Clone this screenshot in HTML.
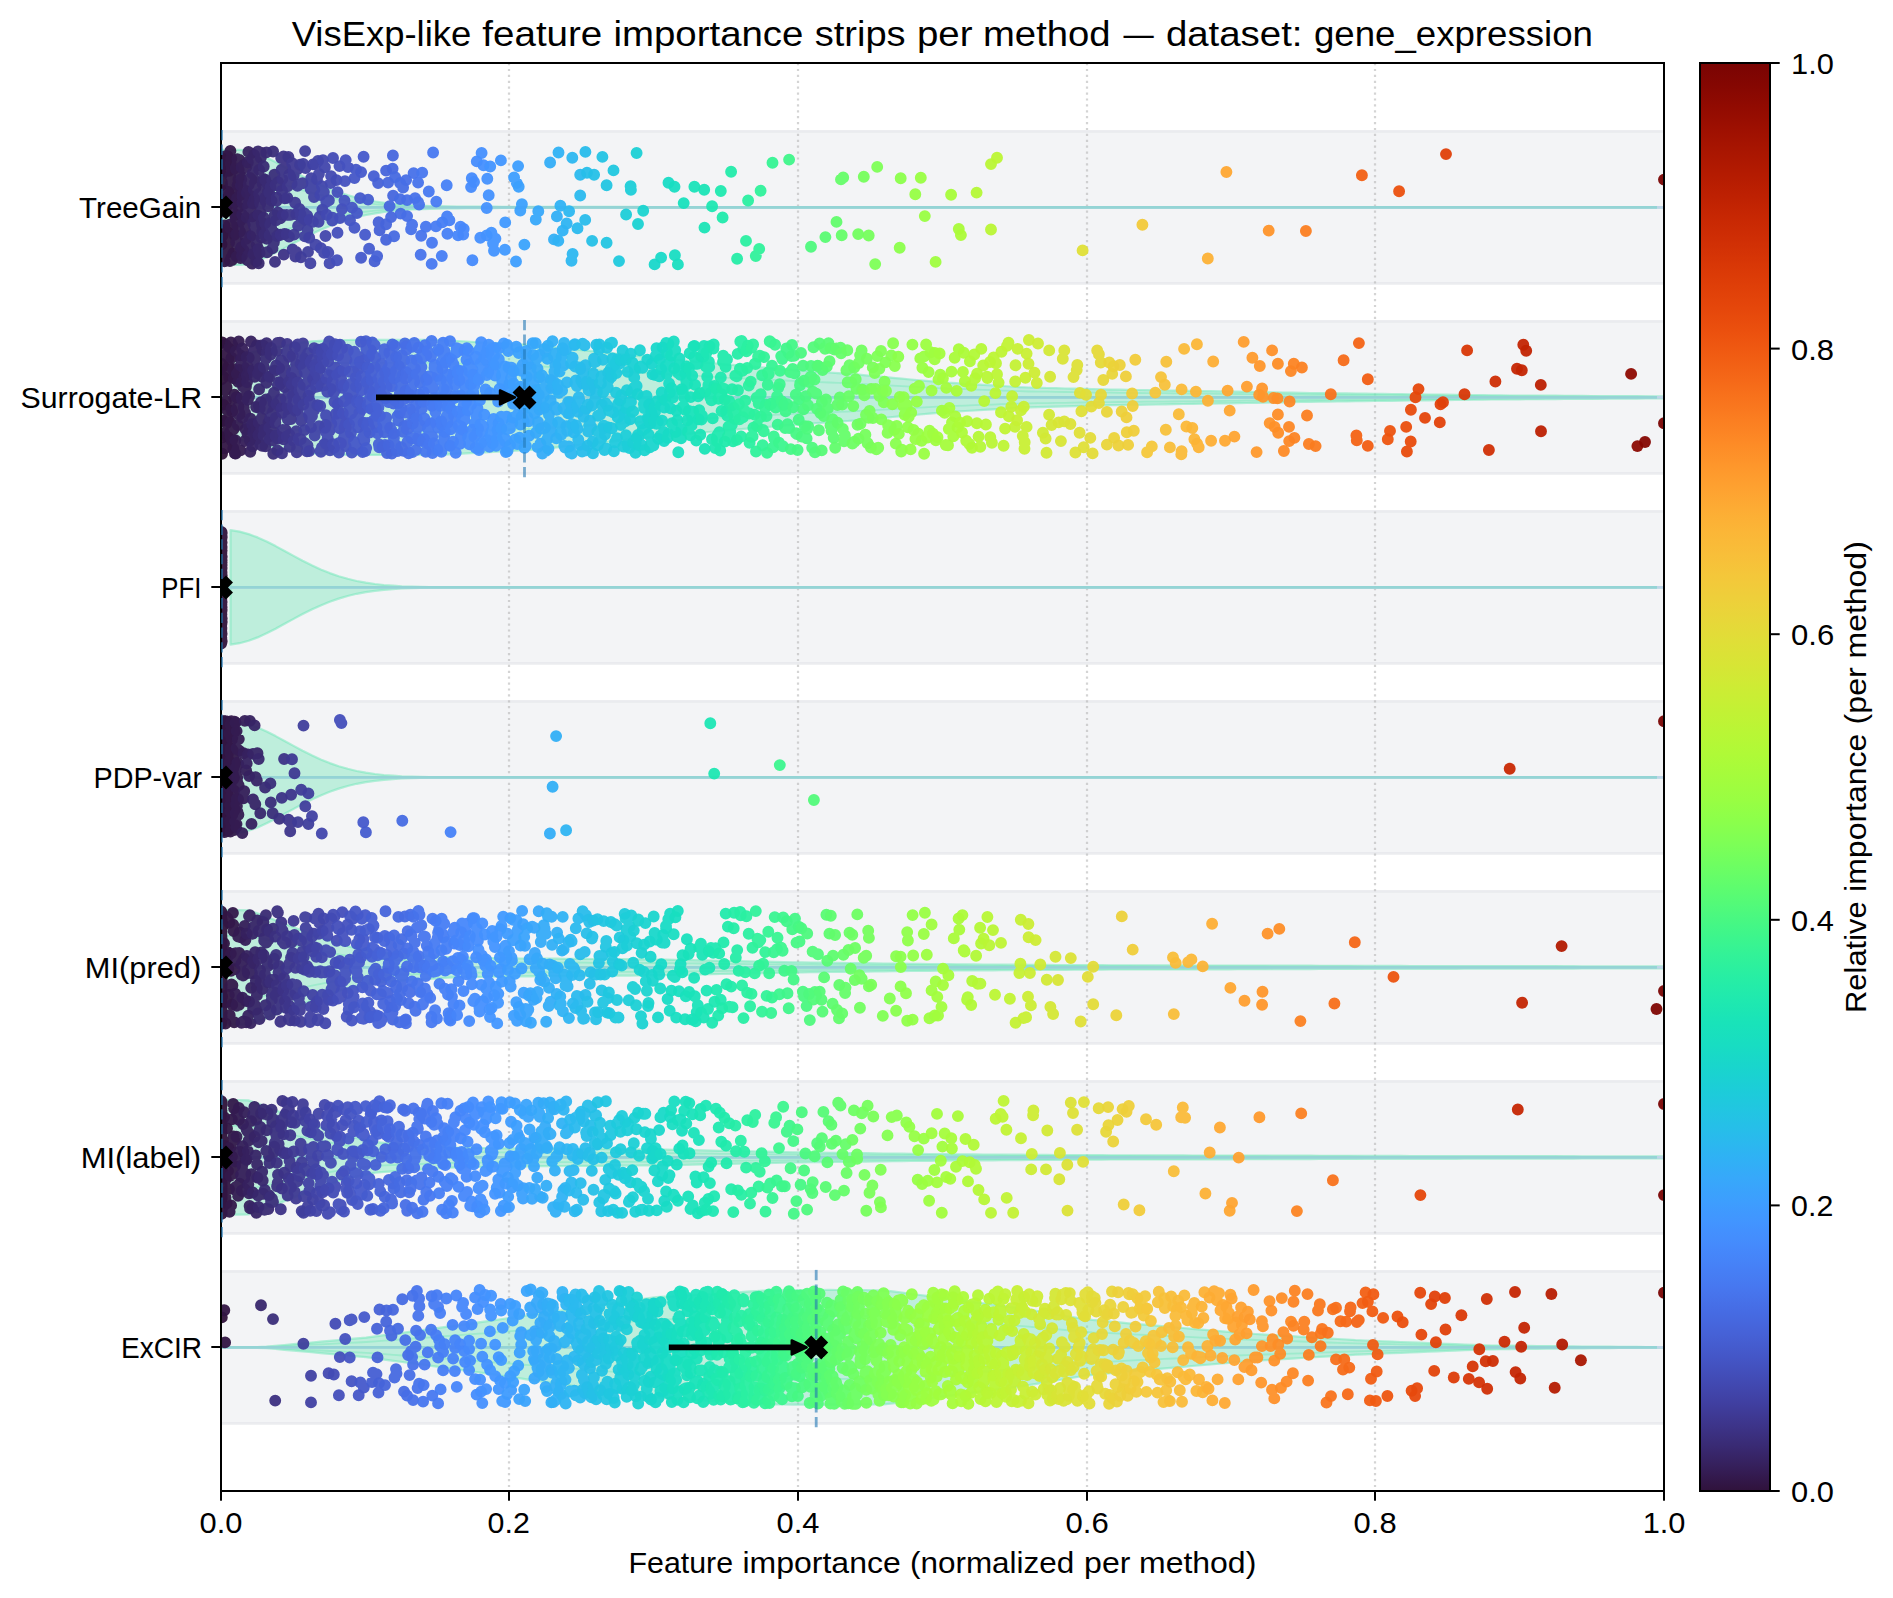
<!DOCTYPE html>
<html><head><meta charset="utf-8"><title>VisExp-like feature importance strips</title><style>html,body{margin:0;padding:0;background:#fff}svg{display:block}</style></head><body>
<svg width="1893" height="1598" viewBox="0 0 1893 1598">
<defs><clipPath id="ax"><rect x="221" y="63" width="1443" height="1428"/></clipPath>
<linearGradient id="cb" x1="0" y1="0" x2="0" y2="1"><stop offset="0.0000" stop-color="#7a0403"/><stop offset="0.0156" stop-color="#850702"/><stop offset="0.0312" stop-color="#920b01"/><stop offset="0.0469" stop-color="#9e1001"/><stop offset="0.0625" stop-color="#a91601"/><stop offset="0.0781" stop-color="#b41b01"/><stop offset="0.0938" stop-color="#be2102"/><stop offset="0.1094" stop-color="#c82803"/><stop offset="0.1250" stop-color="#d02f05"/><stop offset="0.1406" stop-color="#d83706"/><stop offset="0.1562" stop-color="#df3f08"/><stop offset="0.1719" stop-color="#e5470b"/><stop offset="0.1875" stop-color="#eb500e"/><stop offset="0.2031" stop-color="#f05b12"/><stop offset="0.2188" stop-color="#f46617"/><stop offset="0.2344" stop-color="#f8721c"/><stop offset="0.2500" stop-color="#fb7e21"/><stop offset="0.2656" stop-color="#fd8a26"/><stop offset="0.2812" stop-color="#fe962b"/><stop offset="0.2969" stop-color="#fea130"/><stop offset="0.3125" stop-color="#fdac34"/><stop offset="0.3281" stop-color="#fbb637"/><stop offset="0.3438" stop-color="#f8be39"/><stop offset="0.3594" stop-color="#f4c73a"/><stop offset="0.3750" stop-color="#eecf3a"/><stop offset="0.3906" stop-color="#e7d739"/><stop offset="0.4062" stop-color="#dfdf37"/><stop offset="0.4219" stop-color="#d7e535"/><stop offset="0.4375" stop-color="#cdec34"/><stop offset="0.4531" stop-color="#c3f134"/><stop offset="0.4688" stop-color="#b9f635"/><stop offset="0.4844" stop-color="#affa37"/><stop offset="0.5000" stop-color="#a4fc3c"/><stop offset="0.5156" stop-color="#99fe42"/><stop offset="0.5312" stop-color="#8bff4b"/><stop offset="0.5469" stop-color="#7dff56"/><stop offset="0.5625" stop-color="#6dfe62"/><stop offset="0.5781" stop-color="#5dfc6f"/><stop offset="0.5938" stop-color="#4ef97d"/><stop offset="0.6094" stop-color="#3ff68a"/><stop offset="0.6250" stop-color="#32f298"/><stop offset="0.6406" stop-color="#27eea4"/><stop offset="0.6562" stop-color="#1fe9af"/><stop offset="0.6719" stop-color="#19e3b9"/><stop offset="0.6875" stop-color="#18ddc2"/><stop offset="0.7031" stop-color="#19d5cd"/><stop offset="0.7188" stop-color="#1ccdd8"/><stop offset="0.7344" stop-color="#22c5e2"/><stop offset="0.7500" stop-color="#28bceb"/><stop offset="0.7656" stop-color="#2fb2f4"/><stop offset="0.7812" stop-color="#37a8fa"/><stop offset="0.7969" stop-color="#3d9efe"/><stop offset="0.8125" stop-color="#4294ff"/><stop offset="0.8281" stop-color="#458afc"/><stop offset="0.8438" stop-color="#4680f6"/><stop offset="0.8594" stop-color="#4776ee"/><stop offset="0.8750" stop-color="#466be3"/><stop offset="0.8906" stop-color="#4661d6"/><stop offset="0.9062" stop-color="#4456c7"/><stop offset="0.9219" stop-color="#424bb5"/><stop offset="0.9375" stop-color="#4040a2"/><stop offset="0.9531" stop-color="#3d358b"/><stop offset="0.9688" stop-color="#392a73"/><stop offset="0.9844" stop-color="#351e58"/><stop offset="1.0000" stop-color="#30123b"/></linearGradient></defs>
<rect width="1893" height="1598" fill="#fff"/>
<g clip-path="url(#ax)">
<rect x="216" y="131.4" width="1453" height="152" fill="#f3f4f6" stroke="#e5e7eb" stroke-opacity="0.75" stroke-width="2.8"/>
<rect x="216" y="321.4" width="1453" height="152" fill="#f3f4f6" stroke="#e5e7eb" stroke-opacity="0.75" stroke-width="2.8"/>
<rect x="216" y="511.4" width="1453" height="152" fill="#f3f4f6" stroke="#e5e7eb" stroke-opacity="0.75" stroke-width="2.8"/>
<rect x="216" y="701.4" width="1453" height="152" fill="#f3f4f6" stroke="#e5e7eb" stroke-opacity="0.75" stroke-width="2.8"/>
<rect x="216" y="891.4" width="1453" height="152" fill="#f3f4f6" stroke="#e5e7eb" stroke-opacity="0.75" stroke-width="2.8"/>
<rect x="216" y="1081.4" width="1453" height="152" fill="#f3f4f6" stroke="#e5e7eb" stroke-opacity="0.75" stroke-width="2.8"/>
<rect x="216" y="1271.4" width="1453" height="152" fill="#f3f4f6" stroke="#e5e7eb" stroke-opacity="0.75" stroke-width="2.8"/>
<line x1="509" y1="63" x2="509" y2="1491" stroke="#b0b0b0" stroke-opacity="0.55" stroke-width="2.2" stroke-dasharray="2.2 3.7"/>
<line x1="798" y1="63" x2="798" y2="1491" stroke="#b0b0b0" stroke-opacity="0.55" stroke-width="2.2" stroke-dasharray="2.2 3.7"/>
<line x1="1087" y1="63" x2="1087" y2="1491" stroke="#b0b0b0" stroke-opacity="0.55" stroke-width="2.2" stroke-dasharray="2.2 3.7"/>
<line x1="1375" y1="63" x2="1375" y2="1491" stroke="#b0b0b0" stroke-opacity="0.55" stroke-width="2.2" stroke-dasharray="2.2 3.7"/>
<polygon points="221,149.9 230.1,149.9 239.2,149.9 248.2,150.4 257.3,153.7 266.4,157.6 275.5,162 284.5,166.7 293.6,171.5 302.7,176.3 311.8,180.8 320.8,185.1 329.9,188.9 339,192.3 348.1,195.3 357.1,197.8 366.2,199.8 375.3,201.5 384.4,202.8 393.4,203.9 402.5,204.7 411.6,205.3 420.7,205.7 429.7,206 438.8,206.2 447.9,206.4 457,206.5 466,206.6 475.1,206.7 484.2,206.7 493.3,206.7 502.3,206.8 511.4,206.8 520.5,206.8 529.6,206.8 538.6,206.8 547.7,206.8 556.8,206.8 565.9,206.9 574.9,206.9 584,206.9 593.1,206.9 602.2,206.9 611.2,206.9 620.3,206.9 629.4,206.9 638.5,206.9 647.5,207 656.6,207 665.7,207 674.8,207 683.8,207 692.9,207 702,207 711.1,207 720.2,207 729.2,207 738.3,207 747.4,207 756.5,207.1 765.5,207.1 774.6,207.1 783.7,207.1 792.8,207.1 801.8,207.1 810.9,207.1 820,207.1 829.1,207.1 838.1,207.1 847.2,207.1 856.3,207.1 865.4,207.1 874.4,207.1 883.5,207.1 892.6,207.1 901.7,207.2 910.7,207.2 919.8,207.2 928.9,207.2 938,207.2 947,207.2 956.1,207.2 965.2,207.2 974.3,207.2 983.3,207.2 992.4,207.2 1001.5,207.2 1010.6,207.2 1019.6,207.2 1028.7,207.2 1037.8,207.2 1046.9,207.2 1055.9,207.2 1065,207.2 1074.1,207.2 1083.2,207.2 1092.2,207.2 1101.3,207.2 1110.4,207.2 1119.5,207.2 1128.5,207.3 1137.6,207.3 1146.7,207.3 1155.8,207.3 1164.8,207.3 1173.9,207.3 1183,207.3 1192.1,207.3 1201.2,207.3 1210.2,207.3 1219.3,207.3 1228.4,207.3 1237.5,207.3 1246.5,207.3 1255.6,207.3 1264.7,207.3 1273.8,207.3 1282.8,207.3 1291.9,207.3 1301,207.3 1310.1,207.3 1319.1,207.3 1328.2,207.3 1337.3,207.3 1346.4,207.3 1355.4,207.3 1364.5,207.3 1373.6,207.3 1382.7,207.3 1391.7,207.3 1400.8,207.3 1409.9,207.3 1419,207.3 1428,207.3 1437.1,207.3 1446.2,207.3 1455.3,207.3 1464.3,207.3 1473.4,207.3 1482.5,207.3 1491.6,207.3 1500.6,207.3 1509.7,207.3 1518.8,207.3 1527.9,207.3 1536.9,207.3 1546,207.3 1555.1,207.3 1564.2,207.3 1573.2,207.3 1582.3,207.3 1591.4,207.3 1600.5,207.4 1609.5,207.4 1618.6,207.4 1627.7,207.4 1636.8,207.4 1645.8,207.4 1654.9,207.4 1664,207.4 1664,207.4 1654.9,207.4 1645.8,207.4 1636.8,207.4 1627.7,207.4 1618.6,207.4 1609.5,207.4 1600.5,207.4 1591.4,207.5 1582.3,207.5 1573.2,207.5 1564.2,207.5 1555.1,207.5 1546,207.5 1536.9,207.5 1527.9,207.5 1518.8,207.5 1509.7,207.5 1500.6,207.5 1491.6,207.5 1482.5,207.5 1473.4,207.5 1464.3,207.5 1455.3,207.5 1446.2,207.5 1437.1,207.5 1428,207.5 1419,207.5 1409.9,207.5 1400.8,207.5 1391.7,207.5 1382.7,207.5 1373.6,207.5 1364.5,207.5 1355.4,207.5 1346.4,207.5 1337.3,207.5 1328.2,207.5 1319.1,207.5 1310.1,207.5 1301,207.5 1291.9,207.5 1282.8,207.5 1273.8,207.5 1264.7,207.5 1255.6,207.5 1246.5,207.5 1237.5,207.5 1228.4,207.5 1219.3,207.5 1210.2,207.5 1201.2,207.5 1192.1,207.5 1183,207.5 1173.9,207.5 1164.8,207.5 1155.8,207.5 1146.7,207.5 1137.6,207.5 1128.5,207.5 1119.5,207.6 1110.4,207.6 1101.3,207.6 1092.2,207.6 1083.2,207.6 1074.1,207.6 1065,207.6 1055.9,207.6 1046.9,207.6 1037.8,207.6 1028.7,207.6 1019.6,207.6 1010.6,207.6 1001.5,207.6 992.4,207.6 983.3,207.6 974.3,207.6 965.2,207.6 956.1,207.6 947,207.6 938,207.6 928.9,207.6 919.8,207.6 910.7,207.6 901.7,207.6 892.6,207.7 883.5,207.7 874.4,207.7 865.4,207.7 856.3,207.7 847.2,207.7 838.1,207.7 829.1,207.7 820,207.7 810.9,207.7 801.8,207.7 792.8,207.7 783.7,207.7 774.6,207.7 765.5,207.7 756.5,207.7 747.4,207.8 738.3,207.8 729.2,207.8 720.2,207.8 711.1,207.8 702,207.8 692.9,207.8 683.8,207.8 674.8,207.8 665.7,207.8 656.6,207.8 647.5,207.8 638.5,207.9 629.4,207.9 620.3,207.9 611.2,207.9 602.2,207.9 593.1,207.9 584,207.9 574.9,207.9 565.9,207.9 556.8,208 547.7,208 538.6,208 529.6,208 520.5,208 511.4,208 502.3,208 493.3,208.1 484.2,208.1 475.1,208.1 466,208.2 457,208.3 447.9,208.4 438.8,208.6 429.7,208.8 420.7,209.1 411.6,209.5 402.5,210.1 393.4,210.9 384.4,212 375.3,213.3 366.2,215 357.1,217 348.1,219.5 339,222.5 329.9,225.9 320.8,229.7 311.8,234 302.7,238.5 293.6,243.3 284.5,248.1 275.5,252.8 266.4,257.2 257.3,261.1 248.2,264.4 239.2,264.9 230.1,264.9 221,264.9" fill="#6ee7b7" fill-opacity="0.4" stroke="#6ee7b7" stroke-opacity="0.5" stroke-width="2.2" stroke-linejoin="round"/>
<polygon points="221,175.8 230.1,175.8 239.2,175.8 248.2,176 257.3,177.8 266.4,180 275.5,182.4 284.5,185 293.6,187.7 302.7,190.3 311.8,192.8 320.8,195.1 329.9,197.2 339,199.1 348.1,200.7 357.1,202.1 366.2,203.2 375.3,204.2 384.4,204.9 393.4,205.5 402.5,205.9 411.6,206.2 420.7,206.5 429.7,206.6 438.8,206.8 447.9,206.9 457,206.9 466,207 475.1,207 484.2,207 493.3,207 502.3,207 511.4,207.1 520.5,207.1 529.6,207.1 538.6,207.1 547.7,207.1 556.8,207.1 565.9,207.1 574.9,207.1 584,207.1 593.1,207.1 602.2,207.1 611.2,207.1 620.3,207.1 629.4,207.1 638.5,207.1 647.5,207.2 656.6,207.2 665.7,207.2 674.8,207.2 683.8,207.2 692.9,207.2 702,207.2 711.1,207.2 720.2,207.2 729.2,207.2 738.3,207.2 747.4,207.2 756.5,207.2 765.5,207.2 774.6,207.2 783.7,207.2 792.8,207.2 801.8,207.2 810.9,207.2 820,207.2 829.1,207.2 838.1,207.2 847.2,207.2 856.3,207.2 865.4,207.3 874.4,207.3 883.5,207.3 892.6,207.3 901.7,207.3 910.7,207.3 919.8,207.3 928.9,207.3 938,207.3 947,207.3 956.1,207.3 965.2,207.3 974.3,207.3 983.3,207.3 992.4,207.3 1001.5,207.3 1010.6,207.3 1019.6,207.3 1028.7,207.3 1037.8,207.3 1046.9,207.3 1055.9,207.3 1065,207.3 1074.1,207.3 1083.2,207.3 1092.2,207.3 1101.3,207.3 1110.4,207.3 1119.5,207.3 1128.5,207.3 1137.6,207.3 1146.7,207.3 1155.8,207.3 1164.8,207.3 1173.9,207.3 1183,207.3 1192.1,207.3 1201.2,207.3 1210.2,207.3 1219.3,207.3 1228.4,207.3 1237.5,207.3 1246.5,207.3 1255.6,207.3 1264.7,207.3 1273.8,207.3 1282.8,207.3 1291.9,207.3 1301,207.3 1310.1,207.3 1319.1,207.3 1328.2,207.3 1337.3,207.3 1346.4,207.4 1355.4,207.4 1364.5,207.4 1373.6,207.4 1382.7,207.4 1391.7,207.4 1400.8,207.4 1409.9,207.4 1419,207.4 1428,207.4 1437.1,207.4 1446.2,207.4 1455.3,207.4 1464.3,207.4 1473.4,207.4 1482.5,207.4 1491.6,207.4 1500.6,207.4 1509.7,207.4 1518.8,207.4 1527.9,207.4 1536.9,207.4 1546,207.4 1555.1,207.4 1564.2,207.4 1573.2,207.4 1582.3,207.4 1591.4,207.4 1600.5,207.4 1609.5,207.4 1618.6,207.4 1627.7,207.4 1636.8,207.4 1645.8,207.4 1654.9,207.4 1664,207.4 1664,207.4 1654.9,207.4 1645.8,207.4 1636.8,207.4 1627.7,207.4 1618.6,207.4 1609.5,207.4 1600.5,207.4 1591.4,207.4 1582.3,207.4 1573.2,207.4 1564.2,207.4 1555.1,207.4 1546,207.4 1536.9,207.4 1527.9,207.4 1518.8,207.4 1509.7,207.4 1500.6,207.4 1491.6,207.4 1482.5,207.4 1473.4,207.4 1464.3,207.4 1455.3,207.4 1446.2,207.4 1437.1,207.4 1428,207.4 1419,207.4 1409.9,207.4 1400.8,207.4 1391.7,207.4 1382.7,207.4 1373.6,207.4 1364.5,207.4 1355.4,207.4 1346.4,207.4 1337.3,207.5 1328.2,207.5 1319.1,207.5 1310.1,207.5 1301,207.5 1291.9,207.5 1282.8,207.5 1273.8,207.5 1264.7,207.5 1255.6,207.5 1246.5,207.5 1237.5,207.5 1228.4,207.5 1219.3,207.5 1210.2,207.5 1201.2,207.5 1192.1,207.5 1183,207.5 1173.9,207.5 1164.8,207.5 1155.8,207.5 1146.7,207.5 1137.6,207.5 1128.5,207.5 1119.5,207.5 1110.4,207.5 1101.3,207.5 1092.2,207.5 1083.2,207.5 1074.1,207.5 1065,207.5 1055.9,207.5 1046.9,207.5 1037.8,207.5 1028.7,207.5 1019.6,207.5 1010.6,207.5 1001.5,207.5 992.4,207.5 983.3,207.5 974.3,207.5 965.2,207.5 956.1,207.5 947,207.5 938,207.5 928.9,207.5 919.8,207.5 910.7,207.5 901.7,207.5 892.6,207.5 883.5,207.5 874.4,207.5 865.4,207.5 856.3,207.6 847.2,207.6 838.1,207.6 829.1,207.6 820,207.6 810.9,207.6 801.8,207.6 792.8,207.6 783.7,207.6 774.6,207.6 765.5,207.6 756.5,207.6 747.4,207.6 738.3,207.6 729.2,207.6 720.2,207.6 711.1,207.6 702,207.6 692.9,207.6 683.8,207.6 674.8,207.6 665.7,207.6 656.6,207.6 647.5,207.6 638.5,207.7 629.4,207.7 620.3,207.7 611.2,207.7 602.2,207.7 593.1,207.7 584,207.7 574.9,207.7 565.9,207.7 556.8,207.7 547.7,207.7 538.6,207.7 529.6,207.7 520.5,207.7 511.4,207.7 502.3,207.8 493.3,207.8 484.2,207.8 475.1,207.8 466,207.8 457,207.9 447.9,207.9 438.8,208 429.7,208.2 420.7,208.3 411.6,208.6 402.5,208.9 393.4,209.3 384.4,209.9 375.3,210.6 366.2,211.6 357.1,212.7 348.1,214.1 339,215.7 329.9,217.6 320.8,219.7 311.8,222 302.7,224.5 293.6,227.1 284.5,229.8 275.5,232.4 266.4,234.8 257.3,237 248.2,238.8 239.2,239 230.1,239 221,239" fill="none" stroke="#6ee7b7" stroke-opacity="0.4" stroke-width="1.8" stroke-linejoin="round"/>
<polygon points="221,359.4 230.1,357.3 239.2,355.2 248.2,353.1 257.3,351 266.4,349 275.5,347.3 284.5,345.7 293.6,344 302.7,342.3 311.8,341.3 320.8,340.9 329.9,340.6 339,340.3 348.1,340 357.1,339.9 366.2,339.9 375.3,339.9 384.4,339.9 393.4,339.9 402.5,339.9 411.6,339.9 420.7,339.9 429.7,339.9 438.8,340 447.9,340.5 457,341 466,341.5 475.1,342 484.2,342.4 493.3,342.9 502.3,343.4 511.4,343.9 520.5,344.4 529.6,344.9 538.6,345.4 547.7,346.4 556.8,347.4 565.9,348.3 574.9,349.3 584,350.3 593.1,351.2 602.2,352.2 611.2,353.2 620.3,354.1 629.4,355.1 638.5,356 647.5,356.9 656.6,357.7 665.7,358.6 674.8,359.5 683.8,360.4 692.9,361.2 702,362.1 711.1,363 720.2,363.8 729.2,364.7 738.3,365.4 747.4,366.2 756.5,366.9 765.5,367.7 774.6,368.4 783.7,369.2 792.8,369.9 801.8,370.7 810.9,371.3 820,371.9 829.1,372.5 838.1,373.2 847.2,373.8 856.3,374.4 865.4,375.3 874.4,376.1 883.5,376.9 892.6,377.8 901.7,378.6 910.7,379.5 919.8,380.3 928.9,381.1 938,382 947,382.7 956.1,383.2 965.2,383.8 974.3,384.3 983.3,384.9 992.4,385.4 1001.5,386 1010.6,386.5 1019.6,387.1 1028.7,387.5 1037.8,387.7 1046.9,388 1055.9,388.2 1065,388.5 1074.1,388.7 1083.2,388.9 1092.2,389.2 1101.3,389.4 1110.4,389.6 1119.5,389.7 1128.5,389.9 1137.6,390 1146.7,390.2 1155.8,390.3 1164.8,390.5 1173.9,390.6 1183,390.8 1192.1,390.9 1201.2,391.1 1210.2,391.2 1219.3,391.4 1228.4,391.5 1237.5,391.7 1246.5,391.8 1255.6,392 1264.7,392.2 1273.8,392.3 1282.8,392.5 1291.9,392.7 1301,392.9 1310.1,393 1319.1,393.1 1328.2,393.2 1337.3,393.3 1346.4,393.4 1355.4,393.6 1364.5,393.7 1373.6,393.8 1382.7,393.9 1391.7,394 1400.8,394.1 1409.9,394.3 1419,394.4 1428,394.5 1437.1,394.6 1446.2,394.7 1455.3,394.8 1464.3,395 1473.4,395.1 1482.5,395.2 1491.6,395.3 1500.6,395.4 1509.7,395.5 1518.8,395.5 1527.9,395.6 1536.9,395.6 1546,395.7 1555.1,395.7 1564.2,395.8 1573.2,395.8 1582.3,395.9 1591.4,396 1600.5,396 1609.5,396.1 1618.6,396.1 1627.7,396.2 1636.8,396.2 1645.8,396.3 1654.9,396.3 1664,396.4 1664,398.4 1654.9,398.5 1645.8,398.5 1636.8,398.6 1627.7,398.6 1618.6,398.7 1609.5,398.7 1600.5,398.8 1591.4,398.8 1582.3,398.9 1573.2,399 1564.2,399 1555.1,399.1 1546,399.1 1536.9,399.2 1527.9,399.2 1518.8,399.3 1509.7,399.3 1500.6,399.4 1491.6,399.5 1482.5,399.6 1473.4,399.7 1464.3,399.8 1455.3,400 1446.2,400.1 1437.1,400.2 1428,400.3 1419,400.4 1409.9,400.5 1400.8,400.7 1391.7,400.8 1382.7,400.9 1373.6,401 1364.5,401.1 1355.4,401.2 1346.4,401.4 1337.3,401.5 1328.2,401.6 1319.1,401.7 1310.1,401.8 1301,401.9 1291.9,402.1 1282.8,402.3 1273.8,402.5 1264.7,402.6 1255.6,402.8 1246.5,403 1237.5,403.1 1228.4,403.3 1219.3,403.4 1210.2,403.6 1201.2,403.7 1192.1,403.9 1183,404 1173.9,404.2 1164.8,404.3 1155.8,404.5 1146.7,404.6 1137.6,404.8 1128.5,404.9 1119.5,405.1 1110.4,405.2 1101.3,405.4 1092.2,405.6 1083.2,405.9 1074.1,406.1 1065,406.3 1055.9,406.6 1046.9,406.8 1037.8,407.1 1028.7,407.3 1019.6,407.7 1010.6,408.3 1001.5,408.8 992.4,409.4 983.3,409.9 974.3,410.5 965.2,411 956.1,411.6 947,412.1 938,412.8 928.9,413.7 919.8,414.5 910.7,415.3 901.7,416.2 892.6,417 883.5,417.9 874.4,418.7 865.4,419.5 856.3,420.4 847.2,421 838.1,421.6 829.1,422.3 820,422.9 810.9,423.5 801.8,424.1 792.8,424.9 783.7,425.6 774.6,426.4 765.5,427.1 756.5,427.9 747.4,428.6 738.3,429.4 729.2,430.1 720.2,431 711.1,431.8 702,432.7 692.9,433.6 683.8,434.4 674.8,435.3 665.7,436.2 656.6,437.1 647.5,437.9 638.5,438.8 629.4,439.7 620.3,440.7 611.2,441.6 602.2,442.6 593.1,443.6 584,444.5 574.9,445.5 565.9,446.5 556.8,447.4 547.7,448.4 538.6,449.4 529.6,449.9 520.5,450.4 511.4,450.9 502.3,451.4 493.3,451.9 484.2,452.4 475.1,452.8 466,453.3 457,453.8 447.9,454.3 438.8,454.8 429.7,454.9 420.7,454.9 411.6,454.9 402.5,454.9 393.4,454.9 384.4,454.9 375.3,454.9 366.2,454.9 357.1,454.9 348.1,454.8 339,454.5 329.9,454.2 320.8,453.9 311.8,453.5 302.7,452.5 293.6,450.8 284.5,449.1 275.5,447.5 266.4,445.8 257.3,443.8 248.2,441.7 239.2,439.6 230.1,437.5 221,435.4" fill="#6ee7b7" fill-opacity="0.4" stroke="#6ee7b7" stroke-opacity="0.5" stroke-width="2.2" stroke-linejoin="round"/>
<polygon points="221,374.6 230.1,373.3 239.2,372.1 248.2,370.8 257.3,369.6 266.4,368.4 275.5,367.4 284.5,366.4 293.6,365.3 302.7,364.3 311.8,363.7 320.8,363.5 329.9,363.3 339,363.1 348.1,363 357.1,362.9 366.2,362.9 375.3,362.9 384.4,362.9 393.4,362.9 402.5,362.9 411.6,362.9 420.7,362.9 429.7,362.9 438.8,362.9 447.9,363.2 457,363.5 466,363.8 475.1,364.1 484.2,364.4 493.3,364.7 502.3,365 511.4,365.3 520.5,365.6 529.6,365.9 538.6,366.2 547.7,366.8 556.8,367.4 565.9,368 574.9,368.5 584,369.1 593.1,369.7 602.2,370.3 611.2,370.9 620.3,371.4 629.4,372 638.5,372.6 647.5,373.1 656.6,373.6 665.7,374.1 674.8,374.6 683.8,375.2 692.9,375.7 702,376.2 711.1,376.7 720.2,377.3 729.2,377.8 738.3,378.2 747.4,378.7 756.5,379.1 765.5,379.6 774.6,380 783.7,380.5 792.8,380.9 801.8,381.4 810.9,381.7 820,382.1 829.1,382.5 838.1,382.9 847.2,383.2 856.3,383.6 865.4,384.1 874.4,384.6 883.5,385.1 892.6,385.6 901.7,386.1 910.7,386.6 919.8,387.1 928.9,387.6 938,388.1 947,388.6 956.1,388.9 965.2,389.2 974.3,389.6 983.3,389.9 992.4,390.2 1001.5,390.6 1010.6,390.9 1019.6,391.2 1028.7,391.5 1037.8,391.6 1046.9,391.7 1055.9,391.9 1065,392 1074.1,392.2 1083.2,392.3 1092.2,392.5 1101.3,392.6 1110.4,392.7 1119.5,392.8 1128.5,392.9 1137.6,393 1146.7,393.1 1155.8,393.1 1164.8,393.2 1173.9,393.3 1183,393.4 1192.1,393.5 1201.2,393.6 1210.2,393.7 1219.3,393.8 1228.4,393.9 1237.5,394 1246.5,394.1 1255.6,394.2 1264.7,394.3 1273.8,394.4 1282.8,394.5 1291.9,394.6 1301,394.7 1310.1,394.8 1319.1,394.8 1328.2,394.9 1337.3,395 1346.4,395 1355.4,395.1 1364.5,395.2 1373.6,395.2 1382.7,395.3 1391.7,395.4 1400.8,395.4 1409.9,395.5 1419,395.6 1428,395.7 1437.1,395.7 1446.2,395.8 1455.3,395.9 1464.3,395.9 1473.4,396 1482.5,396.1 1491.6,396.1 1500.6,396.2 1509.7,396.2 1518.8,396.3 1527.9,396.3 1536.9,396.3 1546,396.4 1555.1,396.4 1564.2,396.4 1573.2,396.5 1582.3,396.5 1591.4,396.5 1600.5,396.6 1609.5,396.6 1618.6,396.6 1627.7,396.7 1636.8,396.7 1645.8,396.7 1654.9,396.8 1664,396.8 1664,398 1654.9,398 1645.8,398.1 1636.8,398.1 1627.7,398.1 1618.6,398.2 1609.5,398.2 1600.5,398.2 1591.4,398.3 1582.3,398.3 1573.2,398.3 1564.2,398.4 1555.1,398.4 1546,398.4 1536.9,398.5 1527.9,398.5 1518.8,398.5 1509.7,398.6 1500.6,398.6 1491.6,398.7 1482.5,398.7 1473.4,398.8 1464.3,398.9 1455.3,398.9 1446.2,399 1437.1,399.1 1428,399.1 1419,399.2 1409.9,399.3 1400.8,399.4 1391.7,399.4 1382.7,399.5 1373.6,399.6 1364.5,399.6 1355.4,399.7 1346.4,399.8 1337.3,399.8 1328.2,399.9 1319.1,400 1310.1,400 1301,400.1 1291.9,400.2 1282.8,400.3 1273.8,400.4 1264.7,400.5 1255.6,400.6 1246.5,400.7 1237.5,400.8 1228.4,400.9 1219.3,401 1210.2,401.1 1201.2,401.2 1192.1,401.3 1183,401.4 1173.9,401.5 1164.8,401.6 1155.8,401.7 1146.7,401.7 1137.6,401.8 1128.5,401.9 1119.5,402 1110.4,402.1 1101.3,402.2 1092.2,402.3 1083.2,402.5 1074.1,402.6 1065,402.8 1055.9,402.9 1046.9,403.1 1037.8,403.2 1028.7,403.3 1019.6,403.6 1010.6,403.9 1001.5,404.2 992.4,404.6 983.3,404.9 974.3,405.2 965.2,405.6 956.1,405.9 947,406.2 938,406.7 928.9,407.2 919.8,407.7 910.7,408.2 901.7,408.7 892.6,409.2 883.5,409.7 874.4,410.2 865.4,410.7 856.3,411.2 847.2,411.6 838.1,411.9 829.1,412.3 820,412.7 810.9,413.1 801.8,413.4 792.8,413.9 783.7,414.3 774.6,414.8 765.5,415.2 756.5,415.7 747.4,416.1 738.3,416.6 729.2,417 720.2,417.5 711.1,418.1 702,418.6 692.9,419.1 683.8,419.6 674.8,420.2 665.7,420.7 656.6,421.2 647.5,421.7 638.5,422.2 629.4,422.8 620.3,423.4 611.2,423.9 602.2,424.5 593.1,425.1 584,425.7 574.9,426.3 565.9,426.8 556.8,427.4 547.7,428 538.6,428.6 529.6,428.9 520.5,429.2 511.4,429.5 502.3,429.8 493.3,430.1 484.2,430.4 475.1,430.7 466,431 457,431.3 447.9,431.6 438.8,431.9 429.7,431.9 420.7,431.9 411.6,431.9 402.5,431.9 393.4,431.9 384.4,431.9 375.3,431.9 366.2,431.9 357.1,431.9 348.1,431.8 339,431.7 329.9,431.5 320.8,431.3 311.8,431.1 302.7,430.5 293.6,429.5 284.5,428.4 275.5,427.4 266.4,426.4 257.3,425.2 248.2,424 239.2,422.7 230.1,421.5 221,420.2" fill="none" stroke="#6ee7b7" stroke-opacity="0.4" stroke-width="1.8" stroke-linejoin="round"/>
<polygon points="230.5,530.2 239.5,531.6 248.6,534.1 257.6,537.4 266.6,541.5 275.6,546.1 284.6,551 293.6,555.9 302.6,560.8 311.7,565.3 320.7,569.4 329.7,573.1 338.7,576.2 347.7,578.8 356.7,581 365.8,582.7 374.8,584 383.8,585 392.8,585.7 401.8,586.3 410.8,586.6 419.9,586.9 428.9,587.1 437.9,587.2 446.9,587.3 455.9,587.3 464.9,587.4 473.9,587.4 483,587.4 492,587.4 501,587.4 510,587.4 519,587.4 528,587.4 537.1,587.4 546.1,587.4 555.1,587.4 564.1,587.4 573.1,587.4 582.1,587.4 591.1,587.4 600.2,587.4 609.2,587.4 618.2,587.4 627.2,587.4 636.2,587.4 645.2,587.4 654.3,587.4 663.3,587.4 672.3,587.4 681.3,587.4 690.3,587.4 699.3,587.4 708.3,587.4 717.4,587.4 726.4,587.4 735.4,587.4 744.4,587.4 753.4,587.4 762.4,587.4 771.5,587.4 780.5,587.4 789.5,587.4 798.5,587.4 807.5,587.4 816.5,587.4 825.6,587.4 834.6,587.4 843.6,587.4 852.6,587.4 861.6,587.4 870.6,587.4 879.6,587.4 888.7,587.4 897.7,587.4 906.7,587.4 915.7,587.4 924.7,587.4 933.7,587.4 942.8,587.4 951.8,587.4 960.8,587.4 969.8,587.4 978.8,587.4 987.8,587.4 996.8,587.4 1005.9,587.4 1014.9,587.4 1023.9,587.4 1032.9,587.4 1041.9,587.4 1050.9,587.4 1060,587.4 1069,587.4 1078,587.4 1087,587.4 1096,587.4 1105,587.4 1114.1,587.4 1123.1,587.4 1132.1,587.4 1141.1,587.4 1150.1,587.4 1159.1,587.4 1168.1,587.4 1177.2,587.4 1186.2,587.4 1195.2,587.4 1204.2,587.4 1213.2,587.4 1222.2,587.4 1231.3,587.4 1240.3,587.4 1249.3,587.4 1258.3,587.4 1267.3,587.4 1276.3,587.4 1285.3,587.4 1294.4,587.4 1303.4,587.4 1312.4,587.4 1321.4,587.4 1330.4,587.4 1339.4,587.4 1348.5,587.4 1357.5,587.4 1366.5,587.4 1375.5,587.4 1384.5,587.4 1393.5,587.4 1402.5,587.4 1411.6,587.4 1420.6,587.4 1429.6,587.4 1438.6,587.4 1447.6,587.4 1456.6,587.4 1465.7,587.4 1474.7,587.4 1483.7,587.4 1492.7,587.4 1501.7,587.4 1510.7,587.4 1519.8,587.4 1528.8,587.4 1537.8,587.4 1546.8,587.4 1555.8,587.4 1564.8,587.4 1573.8,587.4 1582.9,587.4 1591.9,587.4 1600.9,587.4 1609.9,587.4 1618.9,587.4 1627.9,587.4 1637,587.4 1646,587.4 1655,587.4 1664,587.4 1664,587.4 1655,587.4 1646,587.4 1637,587.4 1627.9,587.4 1618.9,587.4 1609.9,587.4 1600.9,587.4 1591.9,587.4 1582.9,587.4 1573.8,587.4 1564.8,587.4 1555.8,587.4 1546.8,587.4 1537.8,587.4 1528.8,587.4 1519.8,587.4 1510.7,587.4 1501.7,587.4 1492.7,587.4 1483.7,587.4 1474.7,587.4 1465.7,587.4 1456.6,587.4 1447.6,587.4 1438.6,587.4 1429.6,587.4 1420.6,587.4 1411.6,587.4 1402.5,587.4 1393.5,587.4 1384.5,587.4 1375.5,587.4 1366.5,587.4 1357.5,587.4 1348.5,587.4 1339.4,587.4 1330.4,587.4 1321.4,587.4 1312.4,587.4 1303.4,587.4 1294.4,587.4 1285.3,587.4 1276.3,587.4 1267.3,587.4 1258.3,587.4 1249.3,587.4 1240.3,587.4 1231.3,587.4 1222.2,587.4 1213.2,587.4 1204.2,587.4 1195.2,587.4 1186.2,587.4 1177.2,587.4 1168.1,587.4 1159.1,587.4 1150.1,587.4 1141.1,587.4 1132.1,587.4 1123.1,587.4 1114.1,587.4 1105,587.4 1096,587.4 1087,587.4 1078,587.4 1069,587.4 1060,587.4 1050.9,587.4 1041.9,587.4 1032.9,587.4 1023.9,587.4 1014.9,587.4 1005.9,587.4 996.8,587.4 987.8,587.4 978.8,587.4 969.8,587.4 960.8,587.4 951.8,587.4 942.8,587.4 933.7,587.4 924.7,587.4 915.7,587.4 906.7,587.4 897.7,587.4 888.7,587.4 879.6,587.4 870.6,587.4 861.6,587.4 852.6,587.4 843.6,587.4 834.6,587.4 825.6,587.4 816.5,587.4 807.5,587.4 798.5,587.4 789.5,587.4 780.5,587.4 771.5,587.4 762.4,587.4 753.4,587.4 744.4,587.4 735.4,587.4 726.4,587.4 717.4,587.4 708.3,587.4 699.3,587.4 690.3,587.4 681.3,587.4 672.3,587.4 663.3,587.4 654.3,587.4 645.2,587.4 636.2,587.4 627.2,587.4 618.2,587.4 609.2,587.4 600.2,587.4 591.1,587.4 582.1,587.4 573.1,587.4 564.1,587.4 555.1,587.4 546.1,587.4 537.1,587.4 528,587.4 519,587.4 510,587.4 501,587.4 492,587.4 483,587.4 473.9,587.4 464.9,587.4 455.9,587.5 446.9,587.5 437.9,587.6 428.9,587.7 419.9,587.9 410.8,588.2 401.8,588.5 392.8,589.1 383.8,589.8 374.8,590.8 365.8,592.1 356.7,593.8 347.7,596 338.7,598.6 329.7,601.7 320.7,605.4 311.7,609.5 302.6,614 293.6,618.9 284.6,623.8 275.6,628.7 266.6,633.3 257.6,637.4 248.6,640.7 239.5,643.2 230.5,644.6" fill="#6ee7b7" fill-opacity="0.4" stroke="#6ee7b7" stroke-opacity="0.5" stroke-width="2.2" stroke-linejoin="round"/>
<polygon points="230.5,720.2 239.5,721.6 248.6,724.1 257.6,727.4 266.6,731.5 275.6,736.1 284.6,741 293.6,745.9 302.6,750.8 311.7,755.3 320.7,759.4 329.7,763.1 338.7,766.2 347.7,768.8 356.7,771 365.8,772.7 374.8,774 383.8,775 392.8,775.7 401.8,776.3 410.8,776.6 419.9,776.9 428.9,777.1 437.9,777.2 446.9,777.3 455.9,777.3 464.9,777.4 473.9,777.4 483,777.4 492,777.4 501,777.4 510,777.4 519,777.4 528,777.4 537.1,777.4 546.1,777.4 555.1,777.4 564.1,777.4 573.1,777.4 582.1,777.4 591.1,777.4 600.2,777.4 609.2,777.4 618.2,777.4 627.2,777.4 636.2,777.4 645.2,777.4 654.3,777.4 663.3,777.4 672.3,777.4 681.3,777.4 690.3,777.4 699.3,777.4 708.3,777.4 717.4,777.4 726.4,777.4 735.4,777.4 744.4,777.4 753.4,777.4 762.4,777.4 771.5,777.4 780.5,777.4 789.5,777.4 798.5,777.4 807.5,777.4 816.5,777.4 825.6,777.4 834.6,777.4 843.6,777.4 852.6,777.4 861.6,777.4 870.6,777.4 879.6,777.4 888.7,777.4 897.7,777.4 906.7,777.4 915.7,777.4 924.7,777.4 933.7,777.4 942.8,777.4 951.8,777.4 960.8,777.4 969.8,777.4 978.8,777.4 987.8,777.4 996.8,777.4 1005.9,777.4 1014.9,777.4 1023.9,777.4 1032.9,777.4 1041.9,777.4 1050.9,777.4 1060,777.4 1069,777.4 1078,777.4 1087,777.4 1096,777.4 1105,777.4 1114.1,777.4 1123.1,777.4 1132.1,777.4 1141.1,777.4 1150.1,777.4 1159.1,777.4 1168.1,777.4 1177.2,777.4 1186.2,777.4 1195.2,777.4 1204.2,777.4 1213.2,777.4 1222.2,777.4 1231.3,777.4 1240.3,777.4 1249.3,777.4 1258.3,777.4 1267.3,777.4 1276.3,777.4 1285.3,777.4 1294.4,777.4 1303.4,777.4 1312.4,777.4 1321.4,777.4 1330.4,777.4 1339.4,777.4 1348.5,777.4 1357.5,777.4 1366.5,777.4 1375.5,777.4 1384.5,777.4 1393.5,777.4 1402.5,777.4 1411.6,777.4 1420.6,777.4 1429.6,777.4 1438.6,777.4 1447.6,777.4 1456.6,777.4 1465.7,777.4 1474.7,777.4 1483.7,777.4 1492.7,777.4 1501.7,777.4 1510.7,777.4 1519.8,777.4 1528.8,777.4 1537.8,777.4 1546.8,777.4 1555.8,777.4 1564.8,777.4 1573.8,777.4 1582.9,777.4 1591.9,777.4 1600.9,777.4 1609.9,777.4 1618.9,777.4 1627.9,777.4 1637,777.4 1646,777.4 1655,777.4 1664,777.4 1664,777.4 1655,777.4 1646,777.4 1637,777.4 1627.9,777.4 1618.9,777.4 1609.9,777.4 1600.9,777.4 1591.9,777.4 1582.9,777.4 1573.8,777.4 1564.8,777.4 1555.8,777.4 1546.8,777.4 1537.8,777.4 1528.8,777.4 1519.8,777.4 1510.7,777.4 1501.7,777.4 1492.7,777.4 1483.7,777.4 1474.7,777.4 1465.7,777.4 1456.6,777.4 1447.6,777.4 1438.6,777.4 1429.6,777.4 1420.6,777.4 1411.6,777.4 1402.5,777.4 1393.5,777.4 1384.5,777.4 1375.5,777.4 1366.5,777.4 1357.5,777.4 1348.5,777.4 1339.4,777.4 1330.4,777.4 1321.4,777.4 1312.4,777.4 1303.4,777.4 1294.4,777.4 1285.3,777.4 1276.3,777.4 1267.3,777.4 1258.3,777.4 1249.3,777.4 1240.3,777.4 1231.3,777.4 1222.2,777.4 1213.2,777.4 1204.2,777.4 1195.2,777.4 1186.2,777.4 1177.2,777.4 1168.1,777.4 1159.1,777.4 1150.1,777.4 1141.1,777.4 1132.1,777.4 1123.1,777.4 1114.1,777.4 1105,777.4 1096,777.4 1087,777.4 1078,777.4 1069,777.4 1060,777.4 1050.9,777.4 1041.9,777.4 1032.9,777.4 1023.9,777.4 1014.9,777.4 1005.9,777.4 996.8,777.4 987.8,777.4 978.8,777.4 969.8,777.4 960.8,777.4 951.8,777.4 942.8,777.4 933.7,777.4 924.7,777.4 915.7,777.4 906.7,777.4 897.7,777.4 888.7,777.4 879.6,777.4 870.6,777.4 861.6,777.4 852.6,777.4 843.6,777.4 834.6,777.4 825.6,777.4 816.5,777.4 807.5,777.4 798.5,777.4 789.5,777.4 780.5,777.4 771.5,777.4 762.4,777.4 753.4,777.4 744.4,777.4 735.4,777.4 726.4,777.4 717.4,777.4 708.3,777.4 699.3,777.4 690.3,777.4 681.3,777.4 672.3,777.4 663.3,777.4 654.3,777.4 645.2,777.4 636.2,777.4 627.2,777.4 618.2,777.4 609.2,777.4 600.2,777.4 591.1,777.4 582.1,777.4 573.1,777.4 564.1,777.4 555.1,777.4 546.1,777.4 537.1,777.4 528,777.4 519,777.4 510,777.4 501,777.4 492,777.4 483,777.4 473.9,777.4 464.9,777.4 455.9,777.5 446.9,777.5 437.9,777.6 428.9,777.7 419.9,777.9 410.8,778.2 401.8,778.5 392.8,779.1 383.8,779.8 374.8,780.8 365.8,782.1 356.7,783.8 347.7,786 338.7,788.6 329.7,791.7 320.7,795.4 311.7,799.5 302.6,804 293.6,808.9 284.6,813.8 275.6,818.7 266.6,823.3 257.6,827.4 248.6,830.7 239.5,833.2 230.5,834.6" fill="#6ee7b7" fill-opacity="0.4" stroke="#6ee7b7" stroke-opacity="0.5" stroke-width="2.2" stroke-linejoin="round"/>
<polygon points="221,909.9 230.1,910.1 239.2,910.2 248.2,910.4 257.3,913.2 266.4,916.7 275.5,920.2 284.5,923.7 293.6,927.2 302.7,930.7 311.8,934.2 320.8,937.5 329.9,940.6 339,943.8 348.1,946.3 357.1,948.2 366.2,950.2 375.3,952.1 384.4,952.9 393.4,953.5 402.5,954.1 411.6,954.7 420.7,955.3 429.7,955.9 438.8,956.5 447.9,957.1 457,957.5 466,957.6 475.1,957.8 484.2,958 493.3,958.1 502.3,958.3 511.4,958.4 520.5,958.5 529.6,958.5 538.6,958.6 547.7,958.7 556.8,958.7 565.9,958.8 574.9,958.9 584,958.9 593.1,959 602.2,959 611.2,959.1 620.3,959.2 629.4,959.2 638.5,959.3 647.5,959.4 656.6,959.5 665.7,959.6 674.8,959.8 683.8,960 692.9,960.2 702,960.4 711.1,960.6 720.2,960.8 729.2,961 738.3,961.2 747.4,961.3 756.5,961.5 765.5,961.7 774.6,961.9 783.7,962.1 792.8,962.3 801.8,962.4 810.9,962.6 820,962.7 829.1,962.8 838.1,962.9 847.2,963 856.3,963.1 865.4,963.2 874.4,963.4 883.5,963.5 892.6,963.6 901.7,963.7 910.7,963.8 919.8,963.9 928.9,964 938,964.1 947,964.2 956.1,964.3 965.2,964.4 974.3,964.4 983.3,964.5 992.4,964.5 1001.5,964.6 1010.6,964.7 1019.6,964.7 1028.7,964.8 1037.8,964.9 1046.9,964.9 1055.9,965 1065,965 1074.1,965.1 1083.2,965.2 1092.2,965.2 1101.3,965.2 1110.4,965.3 1119.5,965.3 1128.5,965.3 1137.6,965.3 1146.7,965.3 1155.8,965.4 1164.8,965.4 1173.9,965.4 1183,965.4 1192.1,965.5 1201.2,965.5 1210.2,965.5 1219.3,965.5 1228.4,965.5 1237.5,965.6 1246.5,965.6 1255.6,965.6 1264.7,965.6 1273.8,965.7 1282.8,965.7 1291.9,965.7 1301,965.7 1310.1,965.7 1319.1,965.8 1328.2,965.8 1337.3,965.8 1346.4,965.8 1355.4,965.9 1364.5,965.9 1373.6,965.9 1382.7,965.9 1391.7,965.9 1400.8,965.9 1409.9,966 1419,966 1428,966 1437.1,966 1446.2,966 1455.3,966 1464.3,966.1 1473.4,966.1 1482.5,966.1 1491.6,966.1 1500.6,966.1 1509.7,966.1 1518.8,966.1 1527.9,966.2 1536.9,966.2 1546,966.2 1555.1,966.2 1564.2,966.2 1573.2,966.2 1582.3,966.3 1591.4,966.3 1600.5,966.3 1609.5,966.3 1618.6,966.3 1627.7,966.3 1636.8,966.4 1645.8,966.4 1654.9,966.4 1664,966.4 1664,968.4 1654.9,968.4 1645.8,968.4 1636.8,968.4 1627.7,968.5 1618.6,968.5 1609.5,968.5 1600.5,968.5 1591.4,968.5 1582.3,968.5 1573.2,968.6 1564.2,968.6 1555.1,968.6 1546,968.6 1536.9,968.6 1527.9,968.6 1518.8,968.7 1509.7,968.7 1500.6,968.7 1491.6,968.7 1482.5,968.7 1473.4,968.7 1464.3,968.7 1455.3,968.8 1446.2,968.8 1437.1,968.8 1428,968.8 1419,968.8 1409.9,968.8 1400.8,968.9 1391.7,968.9 1382.7,968.9 1373.6,968.9 1364.5,968.9 1355.4,968.9 1346.4,969 1337.3,969 1328.2,969 1319.1,969 1310.1,969.1 1301,969.1 1291.9,969.1 1282.8,969.1 1273.8,969.1 1264.7,969.2 1255.6,969.2 1246.5,969.2 1237.5,969.2 1228.4,969.3 1219.3,969.3 1210.2,969.3 1201.2,969.3 1192.1,969.3 1183,969.4 1173.9,969.4 1164.8,969.4 1155.8,969.4 1146.7,969.5 1137.6,969.5 1128.5,969.5 1119.5,969.5 1110.4,969.5 1101.3,969.6 1092.2,969.6 1083.2,969.6 1074.1,969.7 1065,969.8 1055.9,969.8 1046.9,969.9 1037.8,969.9 1028.7,970 1019.6,970.1 1010.6,970.1 1001.5,970.2 992.4,970.3 983.3,970.3 974.3,970.4 965.2,970.4 956.1,970.5 947,970.6 938,970.7 928.9,970.8 919.8,970.9 910.7,971 901.7,971.1 892.6,971.2 883.5,971.3 874.4,971.4 865.4,971.6 856.3,971.7 847.2,971.8 838.1,971.9 829.1,972 820,972.1 810.9,972.2 801.8,972.4 792.8,972.5 783.7,972.7 774.6,972.9 765.5,973.1 756.5,973.3 747.4,973.5 738.3,973.6 729.2,973.8 720.2,974 711.1,974.2 702,974.4 692.9,974.6 683.8,974.8 674.8,975 665.7,975.2 656.6,975.3 647.5,975.4 638.5,975.5 629.4,975.6 620.3,975.6 611.2,975.7 602.2,975.8 593.1,975.8 584,975.9 574.9,975.9 565.9,976 556.8,976.1 547.7,976.1 538.6,976.2 529.6,976.3 520.5,976.3 511.4,976.4 502.3,976.5 493.3,976.7 484.2,976.8 475.1,977 466,977.2 457,977.3 447.9,977.7 438.8,978.3 429.7,978.9 420.7,979.5 411.6,980.1 402.5,980.7 393.4,981.3 384.4,981.9 375.3,982.7 366.2,984.6 357.1,986.6 348.1,988.5 339,991 329.9,994.2 320.8,997.3 311.8,1000.6 302.7,1004.1 293.6,1007.6 284.5,1011.1 275.5,1014.6 266.4,1018.1 257.3,1021.6 248.2,1024.4 239.2,1024.6 230.1,1024.7 221,1024.9" fill="#6ee7b7" fill-opacity="0.4" stroke="#6ee7b7" stroke-opacity="0.5" stroke-width="2.2" stroke-linejoin="round"/>
<polygon points="221,935.8 230.1,935.9 239.2,935.9 248.2,936 257.3,937.6 266.4,939.5 275.5,941.4 284.5,943.3 293.6,945.3 302.7,947.2 311.8,949.2 320.8,951 329.9,952.7 339,954.4 348.1,955.8 357.1,956.9 366.2,957.9 375.3,959 384.4,959.4 393.4,959.8 402.5,960.1 411.6,960.4 420.7,960.8 429.7,961.1 438.8,961.4 447.9,961.8 457,961.9 466,962 475.1,962.1 484.2,962.2 493.3,962.3 502.3,962.4 511.4,962.5 520.5,962.5 529.6,962.5 538.6,962.6 547.7,962.6 556.8,962.6 565.9,962.7 574.9,962.7 584,962.7 593.1,962.8 602.2,962.8 611.2,962.8 620.3,962.9 629.4,962.9 638.5,962.9 647.5,963 656.6,963 665.7,963.1 674.8,963.2 683.8,963.3 692.9,963.4 702,963.5 711.1,963.7 720.2,963.8 729.2,963.9 738.3,964 747.4,964.1 756.5,964.2 765.5,964.3 774.6,964.4 783.7,964.5 792.8,964.6 801.8,964.7 810.9,964.7 820,964.8 829.1,964.9 838.1,964.9 847.2,965 856.3,965 865.4,965.1 874.4,965.2 883.5,965.2 892.6,965.3 901.7,965.4 910.7,965.4 919.8,965.5 928.9,965.5 938,965.6 947,965.7 956.1,965.7 965.2,965.7 974.3,965.8 983.3,965.8 992.4,965.8 1001.5,965.9 1010.6,965.9 1019.6,965.9 1028.7,966 1037.8,966 1046.9,966 1055.9,966.1 1065,966.1 1074.1,966.1 1083.2,966.2 1092.2,966.2 1101.3,966.2 1110.4,966.2 1119.5,966.2 1128.5,966.2 1137.6,966.3 1146.7,966.3 1155.8,966.3 1164.8,966.3 1173.9,966.3 1183,966.3 1192.1,966.3 1201.2,966.3 1210.2,966.4 1219.3,966.4 1228.4,966.4 1237.5,966.4 1246.5,966.4 1255.6,966.4 1264.7,966.4 1273.8,966.4 1282.8,966.5 1291.9,966.5 1301,966.5 1310.1,966.5 1319.1,966.5 1328.2,966.5 1337.3,966.5 1346.4,966.5 1355.4,966.5 1364.5,966.6 1373.6,966.6 1382.7,966.6 1391.7,966.6 1400.8,966.6 1409.9,966.6 1419,966.6 1428,966.6 1437.1,966.6 1446.2,966.6 1455.3,966.7 1464.3,966.7 1473.4,966.7 1482.5,966.7 1491.6,966.7 1500.6,966.7 1509.7,966.7 1518.8,966.7 1527.9,966.7 1536.9,966.7 1546,966.7 1555.1,966.7 1564.2,966.8 1573.2,966.8 1582.3,966.8 1591.4,966.8 1600.5,966.8 1609.5,966.8 1618.6,966.8 1627.7,966.8 1636.8,966.8 1645.8,966.8 1654.9,966.8 1664,966.9 1664,967.9 1654.9,968 1645.8,968 1636.8,968 1627.7,968 1618.6,968 1609.5,968 1600.5,968 1591.4,968 1582.3,968 1573.2,968 1564.2,968 1555.1,968.1 1546,968.1 1536.9,968.1 1527.9,968.1 1518.8,968.1 1509.7,968.1 1500.6,968.1 1491.6,968.1 1482.5,968.1 1473.4,968.1 1464.3,968.1 1455.3,968.1 1446.2,968.2 1437.1,968.2 1428,968.2 1419,968.2 1409.9,968.2 1400.8,968.2 1391.7,968.2 1382.7,968.2 1373.6,968.2 1364.5,968.2 1355.4,968.3 1346.4,968.3 1337.3,968.3 1328.2,968.3 1319.1,968.3 1310.1,968.3 1301,968.3 1291.9,968.3 1282.8,968.3 1273.8,968.4 1264.7,968.4 1255.6,968.4 1246.5,968.4 1237.5,968.4 1228.4,968.4 1219.3,968.4 1210.2,968.4 1201.2,968.5 1192.1,968.5 1183,968.5 1173.9,968.5 1164.8,968.5 1155.8,968.5 1146.7,968.5 1137.6,968.5 1128.5,968.6 1119.5,968.6 1110.4,968.6 1101.3,968.6 1092.2,968.6 1083.2,968.6 1074.1,968.7 1065,968.7 1055.9,968.7 1046.9,968.8 1037.8,968.8 1028.7,968.8 1019.6,968.9 1010.6,968.9 1001.5,968.9 992.4,969 983.3,969 974.3,969 965.2,969.1 956.1,969.1 947,969.1 938,969.2 928.9,969.3 919.8,969.3 910.7,969.4 901.7,969.4 892.6,969.5 883.5,969.6 874.4,969.6 865.4,969.7 856.3,969.8 847.2,969.8 838.1,969.9 829.1,969.9 820,970 810.9,970.1 801.8,970.1 792.8,970.2 783.7,970.3 774.6,970.4 765.5,970.5 756.5,970.6 747.4,970.7 738.3,970.8 729.2,970.9 720.2,971 711.1,971.1 702,971.2 692.9,971.4 683.8,971.5 674.8,971.6 665.7,971.7 656.6,971.8 647.5,971.8 638.5,971.9 629.4,971.9 620.3,971.9 611.2,972 602.2,972 593.1,972 584,972.1 574.9,972.1 565.9,972.1 556.8,972.2 547.7,972.2 538.6,972.2 529.6,972.3 520.5,972.3 511.4,972.3 502.3,972.4 493.3,972.5 484.2,972.6 475.1,972.7 466,972.8 457,972.9 447.9,973 438.8,973.4 429.7,973.7 420.7,974 411.6,974.4 402.5,974.7 393.4,975 384.4,975.4 375.3,975.8 366.2,976.9 357.1,977.9 348.1,979 339,980.4 329.9,982.1 320.8,983.8 311.8,985.6 302.7,987.6 293.6,989.5 284.5,991.5 275.5,993.4 266.4,995.3 257.3,997.2 248.2,998.8 239.2,998.9 230.1,998.9 221,999" fill="none" stroke="#6ee7b7" stroke-opacity="0.4" stroke-width="1.8" stroke-linejoin="round"/>
<polygon points="221,1099.9 230.1,1100.1 239.2,1100.2 248.2,1100.4 257.3,1103.2 266.4,1106.7 275.5,1110.2 284.5,1113.7 293.6,1117.2 302.7,1120.7 311.8,1124.2 320.8,1127.5 329.9,1130.6 339,1133.8 348.1,1136.3 357.1,1138.2 366.2,1140.2 375.3,1142.1 384.4,1142.9 393.4,1143.5 402.5,1144.1 411.6,1144.7 420.7,1145.3 429.7,1145.9 438.8,1146.5 447.9,1147.1 457,1147.5 466,1147.6 475.1,1147.8 484.2,1148 493.3,1148.1 502.3,1148.3 511.4,1148.4 520.5,1148.5 529.6,1148.5 538.6,1148.6 547.7,1148.7 556.8,1148.7 565.9,1148.8 574.9,1148.9 584,1148.9 593.1,1149 602.2,1149 611.2,1149.1 620.3,1149.2 629.4,1149.2 638.5,1149.3 647.5,1149.4 656.6,1149.5 665.7,1149.6 674.8,1149.8 683.8,1150 692.9,1150.2 702,1150.4 711.1,1150.6 720.2,1150.8 729.2,1151 738.3,1151.2 747.4,1151.3 756.5,1151.5 765.5,1151.7 774.6,1151.9 783.7,1152.1 792.8,1152.3 801.8,1152.4 810.9,1152.6 820,1152.7 829.1,1152.8 838.1,1152.9 847.2,1153 856.3,1153.1 865.4,1153.2 874.4,1153.4 883.5,1153.5 892.6,1153.6 901.7,1153.7 910.7,1153.8 919.8,1153.9 928.9,1154 938,1154.1 947,1154.2 956.1,1154.3 965.2,1154.4 974.3,1154.4 983.3,1154.5 992.4,1154.5 1001.5,1154.6 1010.6,1154.7 1019.6,1154.7 1028.7,1154.8 1037.8,1154.9 1046.9,1154.9 1055.9,1155 1065,1155 1074.1,1155.1 1083.2,1155.2 1092.2,1155.2 1101.3,1155.2 1110.4,1155.3 1119.5,1155.3 1128.5,1155.3 1137.6,1155.3 1146.7,1155.3 1155.8,1155.4 1164.8,1155.4 1173.9,1155.4 1183,1155.4 1192.1,1155.5 1201.2,1155.5 1210.2,1155.5 1219.3,1155.5 1228.4,1155.5 1237.5,1155.6 1246.5,1155.6 1255.6,1155.6 1264.7,1155.6 1273.8,1155.7 1282.8,1155.7 1291.9,1155.7 1301,1155.7 1310.1,1155.7 1319.1,1155.8 1328.2,1155.8 1337.3,1155.8 1346.4,1155.8 1355.4,1155.9 1364.5,1155.9 1373.6,1155.9 1382.7,1155.9 1391.7,1155.9 1400.8,1155.9 1409.9,1156 1419,1156 1428,1156 1437.1,1156 1446.2,1156 1455.3,1156 1464.3,1156.1 1473.4,1156.1 1482.5,1156.1 1491.6,1156.1 1500.6,1156.1 1509.7,1156.1 1518.8,1156.1 1527.9,1156.2 1536.9,1156.2 1546,1156.2 1555.1,1156.2 1564.2,1156.2 1573.2,1156.2 1582.3,1156.3 1591.4,1156.3 1600.5,1156.3 1609.5,1156.3 1618.6,1156.3 1627.7,1156.3 1636.8,1156.4 1645.8,1156.4 1654.9,1156.4 1664,1156.4 1664,1158.4 1654.9,1158.4 1645.8,1158.4 1636.8,1158.4 1627.7,1158.5 1618.6,1158.5 1609.5,1158.5 1600.5,1158.5 1591.4,1158.5 1582.3,1158.5 1573.2,1158.6 1564.2,1158.6 1555.1,1158.6 1546,1158.6 1536.9,1158.6 1527.9,1158.6 1518.8,1158.7 1509.7,1158.7 1500.6,1158.7 1491.6,1158.7 1482.5,1158.7 1473.4,1158.7 1464.3,1158.7 1455.3,1158.8 1446.2,1158.8 1437.1,1158.8 1428,1158.8 1419,1158.8 1409.9,1158.8 1400.8,1158.9 1391.7,1158.9 1382.7,1158.9 1373.6,1158.9 1364.5,1158.9 1355.4,1158.9 1346.4,1159 1337.3,1159 1328.2,1159 1319.1,1159 1310.1,1159.1 1301,1159.1 1291.9,1159.1 1282.8,1159.1 1273.8,1159.1 1264.7,1159.2 1255.6,1159.2 1246.5,1159.2 1237.5,1159.2 1228.4,1159.3 1219.3,1159.3 1210.2,1159.3 1201.2,1159.3 1192.1,1159.3 1183,1159.4 1173.9,1159.4 1164.8,1159.4 1155.8,1159.4 1146.7,1159.5 1137.6,1159.5 1128.5,1159.5 1119.5,1159.5 1110.4,1159.5 1101.3,1159.6 1092.2,1159.6 1083.2,1159.6 1074.1,1159.7 1065,1159.8 1055.9,1159.8 1046.9,1159.9 1037.8,1159.9 1028.7,1160 1019.6,1160.1 1010.6,1160.1 1001.5,1160.2 992.4,1160.3 983.3,1160.3 974.3,1160.4 965.2,1160.4 956.1,1160.5 947,1160.6 938,1160.7 928.9,1160.8 919.8,1160.9 910.7,1161 901.7,1161.1 892.6,1161.2 883.5,1161.3 874.4,1161.4 865.4,1161.6 856.3,1161.7 847.2,1161.8 838.1,1161.9 829.1,1162 820,1162.1 810.9,1162.2 801.8,1162.4 792.8,1162.5 783.7,1162.7 774.6,1162.9 765.5,1163.1 756.5,1163.3 747.4,1163.5 738.3,1163.6 729.2,1163.8 720.2,1164 711.1,1164.2 702,1164.4 692.9,1164.6 683.8,1164.8 674.8,1165 665.7,1165.2 656.6,1165.3 647.5,1165.4 638.5,1165.5 629.4,1165.6 620.3,1165.6 611.2,1165.7 602.2,1165.8 593.1,1165.8 584,1165.9 574.9,1165.9 565.9,1166 556.8,1166.1 547.7,1166.1 538.6,1166.2 529.6,1166.3 520.5,1166.3 511.4,1166.4 502.3,1166.5 493.3,1166.7 484.2,1166.8 475.1,1167 466,1167.2 457,1167.3 447.9,1167.7 438.8,1168.3 429.7,1168.9 420.7,1169.5 411.6,1170.1 402.5,1170.7 393.4,1171.3 384.4,1171.9 375.3,1172.7 366.2,1174.6 357.1,1176.6 348.1,1178.5 339,1181 329.9,1184.2 320.8,1187.3 311.8,1190.6 302.7,1194.1 293.6,1197.6 284.5,1201.1 275.5,1204.6 266.4,1208.1 257.3,1211.6 248.2,1214.4 239.2,1214.6 230.1,1214.7 221,1214.9" fill="#6ee7b7" fill-opacity="0.4" stroke="#6ee7b7" stroke-opacity="0.5" stroke-width="2.2" stroke-linejoin="round"/>
<polygon points="221,1125.8 230.1,1125.9 239.2,1125.9 248.2,1126 257.3,1127.6 266.4,1129.5 275.5,1131.4 284.5,1133.3 293.6,1135.3 302.7,1137.2 311.8,1139.2 320.8,1141 329.9,1142.7 339,1144.4 348.1,1145.8 357.1,1146.9 366.2,1147.9 375.3,1149 384.4,1149.4 393.4,1149.8 402.5,1150.1 411.6,1150.4 420.7,1150.8 429.7,1151.1 438.8,1151.4 447.9,1151.8 457,1151.9 466,1152 475.1,1152.1 484.2,1152.2 493.3,1152.3 502.3,1152.4 511.4,1152.5 520.5,1152.5 529.6,1152.5 538.6,1152.6 547.7,1152.6 556.8,1152.6 565.9,1152.7 574.9,1152.7 584,1152.7 593.1,1152.8 602.2,1152.8 611.2,1152.8 620.3,1152.9 629.4,1152.9 638.5,1152.9 647.5,1153 656.6,1153 665.7,1153.1 674.8,1153.2 683.8,1153.3 692.9,1153.4 702,1153.6 711.1,1153.7 720.2,1153.8 729.2,1153.9 738.3,1154 747.4,1154.1 756.5,1154.2 765.5,1154.3 774.6,1154.4 783.7,1154.5 792.8,1154.6 801.8,1154.7 810.9,1154.7 820,1154.8 829.1,1154.9 838.1,1154.9 847.2,1155 856.3,1155 865.4,1155.1 874.4,1155.2 883.5,1155.2 892.6,1155.3 901.7,1155.4 910.7,1155.4 919.8,1155.5 928.9,1155.5 938,1155.6 947,1155.7 956.1,1155.7 965.2,1155.7 974.3,1155.8 983.3,1155.8 992.4,1155.8 1001.5,1155.9 1010.6,1155.9 1019.6,1155.9 1028.7,1156 1037.8,1156 1046.9,1156 1055.9,1156.1 1065,1156.1 1074.1,1156.1 1083.2,1156.2 1092.2,1156.2 1101.3,1156.2 1110.4,1156.2 1119.5,1156.2 1128.5,1156.2 1137.6,1156.3 1146.7,1156.3 1155.8,1156.3 1164.8,1156.3 1173.9,1156.3 1183,1156.3 1192.1,1156.3 1201.2,1156.3 1210.2,1156.4 1219.3,1156.4 1228.4,1156.4 1237.5,1156.4 1246.5,1156.4 1255.6,1156.4 1264.7,1156.4 1273.8,1156.4 1282.8,1156.5 1291.9,1156.5 1301,1156.5 1310.1,1156.5 1319.1,1156.5 1328.2,1156.5 1337.3,1156.5 1346.4,1156.5 1355.4,1156.5 1364.5,1156.6 1373.6,1156.6 1382.7,1156.6 1391.7,1156.6 1400.8,1156.6 1409.9,1156.6 1419,1156.6 1428,1156.6 1437.1,1156.6 1446.2,1156.6 1455.3,1156.7 1464.3,1156.7 1473.4,1156.7 1482.5,1156.7 1491.6,1156.7 1500.6,1156.7 1509.7,1156.7 1518.8,1156.7 1527.9,1156.7 1536.9,1156.7 1546,1156.7 1555.1,1156.7 1564.2,1156.8 1573.2,1156.8 1582.3,1156.8 1591.4,1156.8 1600.5,1156.8 1609.5,1156.8 1618.6,1156.8 1627.7,1156.8 1636.8,1156.8 1645.8,1156.8 1654.9,1156.8 1664,1156.9 1664,1158 1654.9,1158 1645.8,1158 1636.8,1158 1627.7,1158 1618.6,1158 1609.5,1158 1600.5,1158 1591.4,1158 1582.3,1158 1573.2,1158 1564.2,1158 1555.1,1158.1 1546,1158.1 1536.9,1158.1 1527.9,1158.1 1518.8,1158.1 1509.7,1158.1 1500.6,1158.1 1491.6,1158.1 1482.5,1158.1 1473.4,1158.1 1464.3,1158.1 1455.3,1158.1 1446.2,1158.2 1437.1,1158.2 1428,1158.2 1419,1158.2 1409.9,1158.2 1400.8,1158.2 1391.7,1158.2 1382.7,1158.2 1373.6,1158.2 1364.5,1158.2 1355.4,1158.3 1346.4,1158.3 1337.3,1158.3 1328.2,1158.3 1319.1,1158.3 1310.1,1158.3 1301,1158.3 1291.9,1158.3 1282.8,1158.3 1273.8,1158.4 1264.7,1158.4 1255.6,1158.4 1246.5,1158.4 1237.5,1158.4 1228.4,1158.4 1219.3,1158.4 1210.2,1158.4 1201.2,1158.5 1192.1,1158.5 1183,1158.5 1173.9,1158.5 1164.8,1158.5 1155.8,1158.5 1146.7,1158.5 1137.6,1158.5 1128.5,1158.6 1119.5,1158.6 1110.4,1158.6 1101.3,1158.6 1092.2,1158.6 1083.2,1158.6 1074.1,1158.7 1065,1158.7 1055.9,1158.7 1046.9,1158.8 1037.8,1158.8 1028.7,1158.8 1019.6,1158.9 1010.6,1158.9 1001.5,1158.9 992.4,1159 983.3,1159 974.3,1159 965.2,1159.1 956.1,1159.1 947,1159.1 938,1159.2 928.9,1159.3 919.8,1159.3 910.7,1159.4 901.7,1159.4 892.6,1159.5 883.5,1159.6 874.4,1159.6 865.4,1159.7 856.3,1159.8 847.2,1159.8 838.1,1159.9 829.1,1159.9 820,1160 810.9,1160.1 801.8,1160.1 792.8,1160.2 783.7,1160.3 774.6,1160.4 765.5,1160.5 756.5,1160.6 747.4,1160.7 738.3,1160.8 729.2,1160.9 720.2,1161 711.1,1161.1 702,1161.2 692.9,1161.4 683.8,1161.5 674.8,1161.6 665.7,1161.7 656.6,1161.8 647.5,1161.8 638.5,1161.9 629.4,1161.9 620.3,1161.9 611.2,1162 602.2,1162 593.1,1162 584,1162.1 574.9,1162.1 565.9,1162.1 556.8,1162.2 547.7,1162.2 538.6,1162.2 529.6,1162.3 520.5,1162.3 511.4,1162.3 502.3,1162.4 493.3,1162.5 484.2,1162.6 475.1,1162.7 466,1162.8 457,1162.9 447.9,1163 438.8,1163.4 429.7,1163.7 420.7,1164 411.6,1164.4 402.5,1164.7 393.4,1165 384.4,1165.4 375.3,1165.8 366.2,1166.9 357.1,1167.9 348.1,1169 339,1170.4 329.9,1172.1 320.8,1173.8 311.8,1175.6 302.7,1177.6 293.6,1179.5 284.5,1181.5 275.5,1183.4 266.4,1185.3 257.3,1187.2 248.2,1188.8 239.2,1188.9 230.1,1188.9 221,1189" fill="none" stroke="#6ee7b7" stroke-opacity="0.4" stroke-width="1.8" stroke-linejoin="round"/>
<polygon points="221,1347.4 230.1,1347.3 239.2,1347.2 248.2,1347.1 257.3,1347 266.4,1346.7 275.5,1345.9 284.5,1345 293.6,1344.2 302.7,1343.4 311.8,1342.6 320.8,1341.7 329.9,1340.9 339,1340.1 348.1,1339.2 357.1,1338.4 366.2,1337.6 375.3,1336.4 384.4,1335.2 393.4,1334 402.5,1332.8 411.6,1331.5 420.7,1330.3 429.7,1329.1 438.8,1327.9 447.9,1326.6 457,1325.4 466,1324.2 475.1,1322.9 484.2,1321.7 493.3,1320.4 502.3,1319 511.4,1317.7 520.5,1316.4 529.6,1315 538.6,1313.7 547.7,1312.5 556.8,1311.2 565.9,1309.9 574.9,1308.6 584,1307.3 593.1,1306 602.2,1304.7 611.2,1303.4 620.3,1302.2 629.4,1300.9 638.5,1299.6 647.5,1298.3 656.6,1297.2 665.7,1296.7 674.8,1296.1 683.8,1295.6 692.9,1295 702,1294.5 711.1,1293.9 720.2,1293.4 729.2,1292.8 738.3,1292.3 747.4,1291.7 756.5,1291.2 765.5,1290.6 774.6,1290.4 783.7,1290.3 792.8,1290.2 801.8,1290.1 810.9,1290 820,1290 829.1,1289.9 838.1,1290 847.2,1290.1 856.3,1290.2 865.4,1290.2 874.4,1290.3 883.5,1290.4 892.6,1291.4 901.7,1292.6 910.7,1293.8 919.8,1295 928.9,1296.2 938,1297.4 947,1298.5 956.1,1299.7 965.2,1300.9 974.3,1302.1 983.3,1303.3 992.4,1304.5 1001.5,1305.7 1010.6,1306.9 1019.6,1308.2 1028.7,1309.7 1037.8,1311.2 1046.9,1312.8 1055.9,1314.3 1065,1315.8 1074.1,1317.3 1083.2,1318.8 1092.2,1319.9 1101.3,1320.7 1110.4,1321.6 1119.5,1322.4 1128.5,1323.3 1137.6,1324.1 1146.7,1324.8 1155.8,1325.6 1164.8,1326.4 1173.9,1327.2 1183,1328 1192.1,1328.8 1201.2,1329.6 1210.2,1330.3 1219.3,1331.1 1228.4,1331.9 1237.5,1332.7 1246.5,1333.5 1255.6,1334 1264.7,1334.6 1273.8,1335.1 1282.8,1335.7 1291.9,1336.2 1301,1336.8 1310.1,1337.3 1319.1,1337.9 1328.2,1338.4 1337.3,1339 1346.4,1339.5 1355.4,1340.1 1364.5,1340.5 1373.6,1340.9 1382.7,1341.3 1391.7,1341.6 1400.8,1342 1409.9,1342.4 1419,1342.7 1428,1343.1 1437.1,1343.5 1446.2,1343.8 1455.3,1344.2 1464.3,1344.6 1473.4,1344.9 1482.5,1345.3 1491.6,1345.5 1500.6,1345.6 1509.7,1345.7 1518.8,1345.8 1527.9,1345.9 1536.9,1346 1546,1346.1 1555.1,1346.2 1564.2,1346.3 1573.2,1346.4 1582.3,1346.5 1591.4,1346.6 1600.5,1346.7 1609.5,1346.7 1618.6,1346.8 1627.7,1346.8 1636.8,1346.9 1645.8,1347 1654.9,1347 1664,1347.1 1664,1347.7 1654.9,1347.8 1645.8,1347.8 1636.8,1347.9 1627.7,1348 1618.6,1348 1609.5,1348.1 1600.5,1348.1 1591.4,1348.2 1582.3,1348.3 1573.2,1348.4 1564.2,1348.5 1555.1,1348.6 1546,1348.7 1536.9,1348.8 1527.9,1348.9 1518.8,1349 1509.7,1349.1 1500.6,1349.2 1491.6,1349.3 1482.5,1349.5 1473.4,1349.9 1464.3,1350.2 1455.3,1350.6 1446.2,1351 1437.1,1351.3 1428,1351.7 1419,1352.1 1409.9,1352.4 1400.8,1352.8 1391.7,1353.2 1382.7,1353.5 1373.6,1353.9 1364.5,1354.3 1355.4,1354.7 1346.4,1355.3 1337.3,1355.8 1328.2,1356.4 1319.1,1356.9 1310.1,1357.5 1301,1358 1291.9,1358.6 1282.8,1359.1 1273.8,1359.7 1264.7,1360.2 1255.6,1360.8 1246.5,1361.3 1237.5,1362.1 1228.4,1362.9 1219.3,1363.7 1210.2,1364.5 1201.2,1365.2 1192.1,1366 1183,1366.8 1173.9,1367.6 1164.8,1368.4 1155.8,1369.2 1146.7,1370 1137.6,1370.7 1128.5,1371.5 1119.5,1372.4 1110.4,1373.2 1101.3,1374.1 1092.2,1374.9 1083.2,1376 1074.1,1377.5 1065,1379 1055.9,1380.5 1046.9,1382 1037.8,1383.6 1028.7,1385.1 1019.6,1386.6 1010.6,1387.9 1001.5,1389.1 992.4,1390.3 983.3,1391.5 974.3,1392.7 965.2,1393.9 956.1,1395.1 947,1396.3 938,1397.4 928.9,1398.6 919.8,1399.8 910.7,1401 901.7,1402.2 892.6,1403.4 883.5,1404.4 874.4,1404.5 865.4,1404.6 856.3,1404.6 847.2,1404.7 838.1,1404.8 829.1,1404.9 820,1404.8 810.9,1404.8 801.8,1404.7 792.8,1404.6 783.7,1404.5 774.6,1404.4 765.5,1404.2 756.5,1403.6 747.4,1403.1 738.3,1402.5 729.2,1402 720.2,1401.4 711.1,1400.9 702,1400.3 692.9,1399.8 683.8,1399.2 674.8,1398.7 665.7,1398.1 656.6,1397.6 647.5,1396.5 638.5,1395.2 629.4,1393.9 620.3,1392.6 611.2,1391.4 602.2,1390.1 593.1,1388.8 584,1387.5 574.9,1386.2 565.9,1384.9 556.8,1383.6 547.7,1382.3 538.6,1381.1 529.6,1379.8 520.5,1378.4 511.4,1377.1 502.3,1375.8 493.3,1374.4 484.2,1373.1 475.1,1371.9 466,1370.6 457,1369.4 447.9,1368.2 438.8,1366.9 429.7,1365.7 420.7,1364.5 411.6,1363.3 402.5,1362 393.4,1360.8 384.4,1359.6 375.3,1358.4 366.2,1357.2 357.1,1356.4 348.1,1355.6 339,1354.7 329.9,1353.9 320.8,1353.1 311.8,1352.2 302.7,1351.4 293.6,1350.6 284.5,1349.8 275.5,1348.9 266.4,1348.1 257.3,1347.8 248.2,1347.7 239.2,1347.6 230.1,1347.5 221,1347.4" fill="#6ee7b7" fill-opacity="0.4" stroke="#6ee7b7" stroke-opacity="0.5" stroke-width="2.2" stroke-linejoin="round"/>
<polygon points="221,1347.4 230.1,1347.3 239.2,1347.3 248.2,1347.2 257.3,1347.2 266.4,1347 275.5,1346.6 284.5,1346.1 293.6,1345.7 302.7,1345.2 311.8,1344.7 320.8,1344.3 329.9,1343.8 339,1343.4 348.1,1342.9 357.1,1342.5 366.2,1342 375.3,1341.4 384.4,1340.7 393.4,1340 402.5,1339.3 411.6,1338.7 420.7,1338 429.7,1337.3 438.8,1336.6 447.9,1336 457,1335.3 466,1334.6 475.1,1333.9 484.2,1333.3 493.3,1332.5 502.3,1331.8 511.4,1331.1 520.5,1330.3 529.6,1329.6 538.6,1328.9 547.7,1328.2 556.8,1327.5 565.9,1326.8 574.9,1326.1 584,1325.3 593.1,1324.6 602.2,1323.9 611.2,1323.2 620.3,1322.5 629.4,1321.8 638.5,1321.1 647.5,1320.4 656.6,1319.8 665.7,1319.5 674.8,1319.2 683.8,1318.9 692.9,1318.6 702,1318.3 711.1,1318 720.2,1317.7 729.2,1317.4 738.3,1317.1 747.4,1316.8 756.5,1316.5 765.5,1316.2 774.6,1316 783.7,1316 792.8,1315.9 801.8,1315.9 810.9,1315.9 820,1315.8 829.1,1315.8 838.1,1315.8 847.2,1315.9 856.3,1315.9 865.4,1316 874.4,1316 883.5,1316 892.6,1316.6 901.7,1317.3 910.7,1317.9 919.8,1318.6 928.9,1319.2 938,1319.9 947,1320.5 956.1,1321.2 965.2,1321.8 974.3,1322.5 983.3,1323.1 992.4,1323.8 1001.5,1324.5 1010.6,1325.1 1019.6,1325.9 1028.7,1326.7 1037.8,1327.5 1046.9,1328.3 1055.9,1329.2 1065,1330 1074.1,1330.8 1083.2,1331.7 1092.2,1332.3 1101.3,1332.7 1110.4,1333.2 1119.5,1333.7 1128.5,1334.1 1137.6,1334.6 1146.7,1335 1155.8,1335.4 1164.8,1335.9 1173.9,1336.3 1183,1336.7 1192.1,1337.2 1201.2,1337.6 1210.2,1338 1219.3,1338.5 1228.4,1338.9 1237.5,1339.3 1246.5,1339.7 1255.6,1340 1264.7,1340.3 1273.8,1340.6 1282.8,1340.9 1291.9,1341.2 1301,1341.5 1310.1,1341.9 1319.1,1342.2 1328.2,1342.5 1337.3,1342.8 1346.4,1343.1 1355.4,1343.4 1364.5,1343.6 1373.6,1343.8 1382.7,1344 1391.7,1344.2 1400.8,1344.4 1409.9,1344.6 1419,1344.8 1428,1345 1437.1,1345.2 1446.2,1345.4 1455.3,1345.6 1464.3,1345.8 1473.4,1346 1482.5,1346.2 1491.6,1346.3 1500.6,1346.4 1509.7,1346.5 1518.8,1346.5 1527.9,1346.6 1536.9,1346.6 1546,1346.7 1555.1,1346.7 1564.2,1346.8 1573.2,1346.8 1582.3,1346.9 1591.4,1347 1600.5,1347 1609.5,1347 1618.6,1347.1 1627.7,1347.1 1636.8,1347.1 1645.8,1347.2 1654.9,1347.2 1664,1347.2 1664,1347.6 1654.9,1347.6 1645.8,1347.6 1636.8,1347.7 1627.7,1347.7 1618.6,1347.7 1609.5,1347.8 1600.5,1347.8 1591.4,1347.8 1582.3,1347.9 1573.2,1348 1564.2,1348 1555.1,1348.1 1546,1348.1 1536.9,1348.2 1527.9,1348.2 1518.8,1348.3 1509.7,1348.3 1500.6,1348.4 1491.6,1348.5 1482.5,1348.6 1473.4,1348.8 1464.3,1349 1455.3,1349.2 1446.2,1349.4 1437.1,1349.6 1428,1349.8 1419,1350 1409.9,1350.2 1400.8,1350.4 1391.7,1350.6 1382.7,1350.8 1373.6,1351 1364.5,1351.2 1355.4,1351.4 1346.4,1351.7 1337.3,1352 1328.2,1352.3 1319.1,1352.6 1310.1,1352.9 1301,1353.3 1291.9,1353.6 1282.8,1353.9 1273.8,1354.2 1264.7,1354.5 1255.6,1354.8 1246.5,1355.1 1237.5,1355.5 1228.4,1355.9 1219.3,1356.3 1210.2,1356.8 1201.2,1357.2 1192.1,1357.6 1183,1358.1 1173.9,1358.5 1164.8,1358.9 1155.8,1359.4 1146.7,1359.8 1137.6,1360.2 1128.5,1360.7 1119.5,1361.1 1110.4,1361.6 1101.3,1362.1 1092.2,1362.5 1083.2,1363.1 1074.1,1364 1065,1364.8 1055.9,1365.6 1046.9,1366.5 1037.8,1367.3 1028.7,1368.1 1019.6,1368.9 1010.6,1369.7 1001.5,1370.3 992.4,1371 983.3,1371.7 974.3,1372.3 965.2,1373 956.1,1373.6 947,1374.3 938,1374.9 928.9,1375.6 919.8,1376.2 910.7,1376.9 901.7,1377.5 892.6,1378.2 883.5,1378.8 874.4,1378.8 865.4,1378.8 856.3,1378.9 847.2,1378.9 838.1,1379 829.1,1379 820,1379 810.9,1378.9 801.8,1378.9 792.8,1378.9 783.7,1378.8 774.6,1378.8 765.5,1378.6 756.5,1378.3 747.4,1378 738.3,1377.7 729.2,1377.4 720.2,1377.1 711.1,1376.8 702,1376.5 692.9,1376.2 683.8,1375.9 674.8,1375.6 665.7,1375.3 656.6,1375 647.5,1374.4 638.5,1373.7 629.4,1373 620.3,1372.3 611.2,1371.6 602.2,1370.9 593.1,1370.2 584,1369.5 574.9,1368.7 565.9,1368 556.8,1367.3 547.7,1366.6 538.6,1365.9 529.6,1365.2 520.5,1364.5 511.4,1363.7 502.3,1363 493.3,1362.3 484.2,1361.5 475.1,1360.9 466,1360.2 457,1359.5 447.9,1358.8 438.8,1358.2 429.7,1357.5 420.7,1356.8 411.6,1356.1 402.5,1355.5 393.4,1354.8 384.4,1354.1 375.3,1353.4 366.2,1352.8 357.1,1352.3 348.1,1351.9 339,1351.4 329.9,1351 320.8,1350.5 311.8,1350.1 302.7,1349.6 293.6,1349.1 284.5,1348.7 275.5,1348.2 266.4,1347.8 257.3,1347.6 248.2,1347.6 239.2,1347.5 230.1,1347.5 221,1347.4" fill="none" stroke="#6ee7b7" stroke-opacity="0.4" stroke-width="1.8" stroke-linejoin="round"/>
<line x1="221" y1="207.4" x2="1664" y2="207.4" stroke="#bed5e8" stroke-width="2.8"/>
<line x1="221" y1="207.4" x2="1657" y2="207.4" stroke="#94d4d5" stroke-width="2.8"/>
<line x1="221" y1="397.4" x2="1664" y2="397.4" stroke="#bed5e8" stroke-width="2.8"/>
<line x1="221" y1="397.4" x2="1657" y2="397.4" stroke="#94d4d5" stroke-width="2.8"/>
<line x1="221" y1="587.4" x2="1664" y2="587.4" stroke="#bed5e8" stroke-width="2.8"/>
<line x1="221" y1="587.4" x2="1657" y2="587.4" stroke="#94d4d5" stroke-width="2.8"/>
<line x1="221" y1="777.4" x2="1664" y2="777.4" stroke="#bed5e8" stroke-width="2.8"/>
<line x1="221" y1="777.4" x2="1657" y2="777.4" stroke="#94d4d5" stroke-width="2.8"/>
<line x1="221" y1="967.4" x2="1664" y2="967.4" stroke="#bed5e8" stroke-width="2.8"/>
<line x1="221" y1="967.4" x2="1657" y2="967.4" stroke="#94d4d5" stroke-width="2.8"/>
<line x1="221" y1="1157.4" x2="1664" y2="1157.4" stroke="#bed5e8" stroke-width="2.8"/>
<line x1="221" y1="1157.4" x2="1657" y2="1157.4" stroke="#94d4d5" stroke-width="2.8"/>
<line x1="221" y1="1347.4" x2="1664" y2="1347.4" stroke="#bed5e8" stroke-width="2.8"/>
<line x1="221" y1="1347.4" x2="1657" y2="1347.4" stroke="#94d4d5" stroke-width="2.8"/>
<g fill="none" stroke-width="11.9" stroke-linecap="round" stroke-opacity="0.95">
<path stroke="#30123b" d="M221 229.7h0M221.3 185.4h0M221.5 244.3h0M221.7 175h0M221.8 182h0M222 184h0M222.3 165.5h0M222.4 235.7h0M222.7 199.7h0M222.9 165.1h0M223 211.5h0M223.3 206.1h0M223.4 208h0M223.5 231.4h0M223.8 158.4h0M221.2 365.8h0M221.4 379.3h0M221.7 364h0M222 453.8h0M222.2 342.4h0M222.5 437.3h0M222.8 420.6h0M223.3 404.6h0M223.5 366.1h0M223.7 377.1h0M221 638.1h0M221 594.9h0M221 601.8h0M221 634.2h0M221 616.9h0M221 638.6h0M221 599.5h0M221 642.7h0M221 535.4h0M221 594.5h0M221 571.2h0M221 537h0M221 555h0M221 600.7h0M221 534.5h0M221 586.6h0M221 566.2h0M221 600.4h0M221 559.1h0M221 553.1h0M221 558.7h0M221 633.3h0M221 551.2h0M221 584h0M221.1 548.8h0M221.1 608.7h0M221.1 636.1h0M221.1 549.8h0M221.1 568.6h0M221.1 558.9h0M221.1 592h0M221.1 538.4h0M221.1 620.6h0M221.1 622h0M221.1 602.9h0M221.1 591.6h0M221.1 551.8h0M221.1 573.2h0M221.1 598.2h0M221.1 598.6h0M221.1 564.6h0M221.1 592.6h0M221.1 586.3h0M221.1 643.6h0M221.1 614.5h0M221.1 565.3h0M221.1 550.5h0M221.1 556.5h0M221.1 624h0M221.1 636.5h0M221.1 554.7h0M221.1 585.4h0M221.1 546.2h0M221.1 602.1h0M221.1 555.4h0M221.1 578.7h0M221.1 569.9h0M221.1 616.4h0M221.1 546.1h0M221.1 588.8h0M221.1 608.6h0M221.1 574.4h0M221.1 569.4h0M221.1 533.2h0M221.1 543h0M221.1 549.7h0M221.1 549.1h0M221.1 596.8h0M221.1 599h0M221.1 580.8h0M221.2 576.4h0M221.2 640h0M221.2 610.6h0M221.2 630.4h0M221.2 594.2h0M221.2 577.9h0M221.2 621.4h0M221.2 599.7h0M221.2 533.8h0M221.2 641.2h0M221.2 582.4h0M221.2 599.6h0M221.2 583.7h0M221.2 591.4h0M221.2 573.3h0M221.2 569.9h0M221.2 622.2h0M221.2 613.2h0M221.2 619h0M221.2 562h0M221.2 614.2h0M221.2 616.6h0M221.2 642.8h0M221.2 618.4h0M221.2 577.3h0M221.2 588.4h0M221.2 567.5h0M221.2 533.9h0M221.2 550.2h0M221.2 601.8h0M221.2 591h0M221.2 569.1h0M221.2 599.7h0M221.2 583.5h0M221.2 573.5h0M221.2 586.6h0M221.2 558.6h0M221.2 583.4h0M221.2 591.4h0M221.2 546.3h0M221.2 562.8h0M221.2 630.5h0M221.2 597.7h0M221.2 569.8h0M221.2 533.9h0M221.2 562h0M221.2 543.4h0M221.3 637.8h0M221.3 588.6h0M221.3 536.2h0M221.3 595.7h0M221.3 594.7h0M221.3 576.4h0M221.3 599.1h0M221.3 628.2h0M221.3 550.7h0M221.3 545.4h0M221.3 602h0M221.3 593.4h0M221.3 619.8h0M221.3 613.1h0M221.3 629.5h0M221.3 633h0M221.3 610h0M221.3 572.8h0M221.3 565.4h0M221.3 543.4h0M221.3 546.6h0M221.3 631.6h0M221.3 532.1h0M221.3 617.1h0M221.3 596.7h0M221.3 559.1h0M221.3 537.9h0M221.3 583.1h0M221.3 618.3h0M221.3 564.4h0M221.3 535.3h0M221.3 576.9h0M221.3 619.2h0M221.3 592.3h0M221.3 633.4h0M221.3 577.9h0M221.3 583.4h0M221.3 643h0M221.3 610.5h0M221.3 561.6h0M221.3 638.2h0M221.3 560.2h0M221.3 532h0M221.3 594.2h0M221.3 563.8h0M221.3 585h0M221.3 560h0M221.4 604.6h0M221.4 587.2h0M221.4 569.8h0M221.4 596h0M221.4 603.1h0M221.4 624.1h0M221.4 594.1h0M221.4 538.9h0M221.4 596h0M221.4 536.9h0M221.4 582.6h0M221.4 614.6h0M221.4 552.9h0M221.4 568.8h0M221.4 627.9h0M221.4 556.4h0M221.4 547.3h0M221.4 610.3h0M221.4 589.3h0M221.5 572.1h0M221.5 585h0M221.5 572.6h0M221.5 556.9h0M221.5 593.9h0M221.5 532.8h0M221.5 593.1h0M221.5 559.5h0M221.5 548.3h0M221.5 601.4h0M221.5 572.9h0M221.5 559.5h0M221.5 620h0M221.5 575.6h0M221.5 542.6h0M221.6 546.9h0M221.6 562.6h0M221.6 582.5h0M221.6 610.4h0M221.6 609.6h0M221.6 565.1h0M221.6 560.5h0M221.6 633.8h0M221.6 578.9h0M221.6 568.1h0M221.6 607.3h0M221.6 550.6h0M221.6 535.9h0M221.6 542.4h0M221.6 532.2h0M221.6 602.1h0M221.7 641.3h0M221.7 575.5h0M221.7 618.5h0M221.7 593.8h0M221.7 585.7h0M221.7 622h0M221.7 537.2h0M221.7 556.7h0M221.7 536.9h0M221.7 532.9h0M221.7 580.6h0M221 729.8h0M221.1 802.1h0M221.1 772.1h0M221.2 734.7h0M221.3 791.3h0M221.3 797.1h0M221.4 753h0M221.4 783.8h0M221.5 799.3h0M221.5 734.2h0M221.6 825.2h0M221.6 767h0M221.7 788h0M221.7 760.2h0M221.8 741.5h0M221.9 750h0M221.9 808.3h0M222 807.4h0M222 727.1h0M222.1 761.2h0M222.1 753.5h0M222.2 752.6h0M222.3 771.1h0M222.3 771.3h0M222.4 724.3h0M222.4 798h0M222.5 734.6h0M222.6 818.8h0M222.6 727.5h0M222.6 826.1h0M222.7 729.9h0M222.8 736.5h0M222.8 811.2h0M222.9 753.1h0M223 803.6h0M223 830.3h0M223.1 820.8h0M223.1 744.6h0M223.2 739.9h0M223.2 766.1h0M223.3 765.8h0M223.4 745.2h0M223.4 727.7h0M223.5 818.7h0M223.5 803.4h0M223.6 746.6h0M223.7 770.2h0M223.7 721.1h0M223.8 807.9h0M223.8 736.9h0M221 998.8h0M221 933.8h0M221 926.6h0M221 994h0M221 995h0M221 1021.6h0M221 1018.2h0M221 968.8h0M221 924.3h0M221 955.3h0M221 917.2h0M221 975.7h0M221 996.4h0M221 950h0M221 924.5h0M221 927.4h0M221 992.6h0M221 948.9h0M221 964.7h0M221 959.5h0M221 975.9h0M221.1 967.7h0M221.1 955.5h0M221.1 968.6h0M221.1 1003.1h0M221.1 948h0M221.1 911.4h0M221.1 1021.5h0M221.1 965h0M221.1 992.3h0M221.1 934h0M221.1 920.3h0M221.1 990.2h0M221.1 973.4h0M221.1 960h0M221.1 997.2h0M221.1 955.8h0M221.1 920.4h0M221.1 1023.8h0M221.1 992.6h0M221.1 932.9h0M221.1 954.7h0M221.1 976h0M221.1 928.5h0M221.1 947.4h0M221.1 927.6h0M221.1 923.8h0M221.1 988.3h0M221.1 943.6h0M221.1 1014.9h0M221.1 921.8h0M221.1 999.9h0M221.1 929h0M221.1 932.6h0M221.1 993.6h0M221.1 925.8h0M221.1 989h0M221.1 993.2h0M221.1 1007.3h0M221.1 1009.9h0M221.1 975.6h0M221.1 989.9h0M221.1 949.6h0M221.2 942.4h0M221.2 996.8h0M221.2 918.5h0M221.2 1005.2h0M221.2 966.8h0M221.2 929.7h0M221.2 938.5h0M221.2 938.7h0M221.2 914.7h0M221.2 937.6h0M221.2 1020.2h0M221.2 958.2h0M221.2 1014.2h0M221.2 1008.8h0M221.2 924.5h0M221.2 972.9h0M221.2 965.6h0M221.2 919.9h0M221.2 992.7h0M221.2 947.5h0M221.2 984.5h0M221.2 995.2h0M221.2 991.8h0M221.2 987.5h0M221.2 945.8h0M221.2 982.2h0M221.2 991.6h0M221.2 967.4h0M221.2 985.9h0M221.2 1010.5h0M221.2 935.4h0M221.2 926.3h0M221.2 960.3h0M221.2 1007.6h0M221.2 948h0M221.2 1022.7h0M221.2 945.2h0M221.2 1018.5h0M221.2 1010.1h0M221.2 981.6h0M221.2 999.8h0M221.3 934h0M221.3 921.4h0M221.3 911.7h0M221.3 925.7h0M221.3 977.7h0M221.3 915.2h0M221.3 920.9h0M221.3 979.8h0M221.3 988.3h0M221.3 933.6h0M221.3 1005.2h0M221.3 925.3h0M221.3 991.8h0M221.3 937.1h0M221.3 1012.6h0M221.3 1004.2h0M221.3 1014.5h0M221.3 962.3h0M221.3 1009.3h0M221.3 996.8h0M221.3 1019.3h0M221.3 969.2h0M221.3 1002.8h0M221.3 925.1h0M221.3 927.3h0M221.3 917.7h0M221.3 926.1h0M221.3 935.1h0M221.3 980.7h0M221.3 978.7h0M221.3 1013.3h0M221.3 925.1h0M221.3 996.8h0M221.3 966.6h0M221.3 979.1h0M221.3 924.8h0M221.3 921.8h0M221.3 973h0M221.3 1018h0M221.3 970.7h0M221.3 977.2h0M221.3 984.3h0M221.4 936.7h0M221.4 1005.5h0M221.4 936.1h0M221.4 957.7h0M221.4 959.2h0M221.4 1010.5h0M221.4 1003.5h0M221.4 965.5h0M221.4 918.3h0M221.4 923.1h0M221.4 921.4h0M221.4 998.1h0M221.4 987.2h0M221.4 945.2h0M221.4 932.5h0M221.4 1016.3h0M221.4 1015.8h0M221.4 921.3h0M221.4 983.6h0M221.4 1010.3h0M221.4 978.9h0M221.4 1009.6h0M221.4 914.8h0M221.5 970.4h0M221.5 942.7h0M221.5 1003.4h0M221.5 967.3h0M221.5 994.9h0M221.5 968.5h0M221.5 980.4h0M221.5 984.7h0M221.5 995h0M221.5 939.3h0M221.5 985.4h0M221.5 941.4h0M221.5 922.7h0M221.5 962.9h0M221.5 983.3h0M221.5 1002.9h0M221.5 983.2h0M221.5 947.3h0M221.5 938.4h0M221.5 987.2h0M221.6 945.8h0M221.6 1016.7h0M221.6 973.9h0M221.6 978h0M221.6 1002.4h0M221.6 1022h0M221.6 969.2h0M221.6 926.5h0M221.6 967.5h0M221.6 1021.6h0M221.6 1010.1h0M221.6 1004.4h0M221.6 931.8h0M221.6 938.6h0M221.6 1019.3h0M221.6 959.8h0M221.6 987.7h0M221.6 961h0M221.6 964.9h0M221.6 1001.4h0M221.6 974.3h0M221.6 940.5h0M221.7 974.5h0M221.7 976.2h0M221.7 965.5h0M221.7 926.3h0M221.7 1012.9h0M221.7 953.3h0M221.7 949.9h0M221.7 920.3h0M221.7 996.8h0M221.7 978.7h0M221.7 1002h0M221.7 1004.1h0M221.7 984.7h0M221.7 925.7h0M221.7 964.4h0M222.1 996.5h0M222.7 955.6h0M223.2 965.6h0M223.4 925.3h0M221 1120.7h0M221 1210h0M221 1146.2h0M221 1162.7h0M221 1156.2h0M221 1179.5h0M221 1148.4h0M221 1113.5h0M221 1140.2h0M221 1111.4h0M221 1131.8h0M221 1177h0M221 1197.4h0M221 1130.9h0M221 1156.1h0M221 1144.6h0M221 1205.8h0M221 1202.2h0M221 1165.5h0M221 1187.2h0M221 1184.4h0M221.1 1190.1h0M221.1 1189.9h0M221.1 1134.9h0M221.1 1165.1h0M221.1 1198.1h0M221.1 1170.7h0M221.1 1185.4h0M221.1 1118.1h0M221.1 1113.2h0M221.1 1171.4h0M221.1 1208.5h0M221.1 1202h0M221.1 1144.3h0M221.1 1154.3h0M221.1 1196.8h0M221.1 1175.2h0M221.1 1123.7h0M221.1 1118.8h0M221.1 1105.2h0M221.1 1117.2h0M221.1 1171.9h0M221.1 1212.2h0M221.1 1185.4h0M221.1 1128.1h0M221.1 1103.3h0M221.1 1195.6h0M221.1 1210.7h0M221.1 1194.5h0M221.1 1202.6h0M221.1 1126.1h0M221.1 1203.6h0M221.1 1172.3h0M221.1 1174.1h0M221.1 1149h0M221.1 1158.3h0M221.1 1149.7h0M221.1 1172.3h0M221.1 1187.8h0M221.1 1162.8h0M221.1 1153.4h0M221.1 1140.7h0M221.1 1119.8h0M221.2 1126.5h0M221.2 1153.7h0M221.2 1179.1h0M221.2 1211.6h0M221.2 1191.3h0M221.2 1151.8h0M221.2 1148.3h0M221.2 1197.3h0M221.2 1183.8h0M221.2 1196.3h0M221.2 1209.9h0M221.2 1138.6h0M221.2 1139.3h0M221.2 1193.1h0M221.2 1185.1h0M221.2 1154.5h0M221.2 1174.3h0M221.2 1179.5h0M221.2 1135.5h0M221.2 1107.1h0M221.2 1152.1h0M221.2 1154.3h0M221.2 1196.2h0M221.2 1112.4h0M221.2 1162.6h0M221.2 1131.8h0M221.2 1131.7h0M221.2 1142.7h0M221.2 1115.6h0M221.2 1193.5h0M221.2 1185.7h0M221.2 1107.3h0M221.2 1144h0M221.2 1185.5h0M221.2 1205.1h0M221.2 1197.5h0M221.2 1185.4h0M221.2 1159.7h0M221.2 1114.5h0M221.2 1207.8h0M221.2 1148h0M221.3 1152.8h0M221.3 1148.8h0M221.3 1191.8h0M221.3 1192.4h0M221.3 1102.7h0M221.3 1169.8h0M221.3 1174.9h0M221.3 1143h0M221.3 1167.6h0M221.3 1133.4h0M221.3 1137.5h0M221.3 1113.8h0M221.3 1103.8h0M221.3 1126.1h0M221.3 1156.9h0M221.3 1139.8h0M221.3 1137.9h0M221.3 1203.6h0M221.3 1106.7h0M221.3 1108.5h0M221.3 1127.2h0M221.3 1161.1h0M221.3 1126h0M221.3 1188.8h0M221.3 1101.3h0M221.3 1143.3h0M221.3 1127.3h0M221.3 1148.4h0M221.3 1144h0M221.3 1158h0M221.3 1143.9h0M221.3 1137.7h0M221.3 1172.1h0M221.3 1130.3h0M221.3 1143.1h0M221.3 1166.6h0M221.3 1210.4h0M221.3 1212.5h0M221.3 1151.1h0M221.3 1168.9h0M221.3 1172.1h0M221.3 1211.8h0M221.4 1127.1h0M221.4 1115.4h0M221.4 1203.3h0M221.4 1182h0M221.4 1126h0M221.4 1152.7h0M221.4 1144.3h0M221.4 1159.1h0M221.4 1127.2h0M221.4 1206.9h0M221.4 1207.8h0M221.4 1131.6h0M221.4 1112.2h0M221.4 1206.6h0M221.4 1164.5h0M221.4 1158.6h0M221.4 1126.2h0M221.4 1198.8h0M221.4 1117.4h0M221.4 1209.1h0M221.4 1121.9h0M221.4 1160.3h0M221.4 1127.5h0M221.5 1116.3h0M221.5 1120.2h0M221.5 1136.3h0M221.5 1184h0M221.5 1166.1h0M221.5 1146.7h0M221.5 1119.5h0M221.5 1152.6h0M221.5 1110.8h0M221.5 1175.9h0M221.5 1210.9h0M221.5 1137.2h0M221.5 1135.5h0M221.5 1194.8h0M221.5 1126.6h0M221.5 1123h0M221.5 1203.6h0M221.5 1188.6h0M221.5 1203.4h0M221.5 1137.5h0M221.5 1210h0M221.6 1212.5h0M221.6 1170.6h0M221.6 1199.1h0M221.6 1147.2h0M221.6 1121.3h0M221.6 1104h0M221.6 1141.9h0M221.6 1124.5h0M221.6 1156.9h0M221.6 1160.2h0M221.6 1122h0M221.6 1160.1h0M221.6 1137h0M221.6 1182.8h0M221.6 1123.6h0M221.6 1213.8h0M221.6 1190.6h0M221.6 1188.8h0M221.6 1197h0M221.6 1125.5h0M221.7 1195.1h0M221.7 1206.7h0M221.7 1197.4h0M221.7 1173.1h0M221.7 1125.2h0M221.7 1186.5h0M221.7 1147.6h0M221.7 1133.8h0M221.7 1123.3h0M221.7 1178.1h0M221.7 1154.4h0M221.7 1104.9h0M221.7 1191.9h0M221.7 1102.1h0M221.7 1169h0M221.8 1121.6h0M222.1 1169.9h0M222.7 1207.1h0M223.2 1140.4h0M223.4 1152.8h0M221.8 1317.4h0"/>
<path stroke="#321543" d="M224.1 206.5h0M224.2 156.7h0M224.4 261.2h0M224.6 225.5h0M224.7 170h0M224.9 254.8h0M225.1 170.7h0M225.3 191h0M225.5 156.3h0M225.7 192.9h0M226 233.5h0M226.1 164.7h0M226.3 238.7h0M226.5 199.2h0M226.8 241.6h0M227 170.6h0M227.1 252.9h0M227.4 233.1h0M227.6 156.3h0M227.8 205.1h0M228 158.3h0M228.1 232.5h0M228.4 191.9h0M228.5 238.4h0M228.7 250.6h0M228.9 170.8h0M229.1 242.5h0M229.3 194.5h0M224.1 448.1h0M224.5 433.5h0M224.6 354.8h0M224.9 390.6h0M225.2 448h0M225.6 344.6h0M225.8 400.9h0M226.3 423.2h0M226.5 370.8h0M226.6 387.2h0M227 446.1h0M227.3 410.3h0M227.7 437h0M228 419.7h0M228.4 366.6h0M228.5 358.3h0M228.8 410.1h0M229.2 377.2h0M229.4 348.8h0M223.9 777.2h0M223.9 831.7h0M224 771.2h0M224.1 771h0M224.2 746.5h0M224.2 753.4h0M224.2 781.6h0M224.3 796.7h0M224.3 721.5h0M224.4 728.1h0M224.5 824.2h0M224.6 817.7h0M224.6 796.4h0M224.7 832.1h0M224.7 761.2h0M224.8 751.1h0M224.9 783.4h0M224.9 745h0M225 814h0M225 762.8h0M225.1 786.9h0M225.2 802.7h0M225.2 721.2h0M225.3 750.2h0M225.3 806.5h0M225.4 812.9h0M225.5 784.5h0M225.5 823.8h0M225.6 817h0M225.6 749.3h0M225.7 735.4h0M225.7 744.7h0M225.8 766.9h0M225.9 784h0M225.9 823.3h0M226 817.2h0M226.1 733.5h0M226.2 817.2h0M226.2 829.9h0M226.2 827.4h0M226.3 757.1h0M226.4 791.1h0M226.4 750.3h0M226.5 741.9h0M226.5 820.5h0M226.6 819.3h0M226.7 727.7h0M226.7 736.3h0M226.8 740h0M226.9 779.4h0M227 733.2h0M227 792.5h0M227 753.6h0M227.2 735.9h0M227.2 758.5h0M227.2 735.6h0M227.3 794.8h0M227.4 811.6h0M227.4 746.5h0M227.5 790h0M227.6 721.8h0M227.6 750h0M227.7 751.5h0M227.8 754.2h0M227.8 779.3h0M227.9 801.1h0M228 818.9h0M228 771.7h0M228.1 762.7h0M228.1 736.1h0M228.2 749.3h0M228.3 787.8h0M228.3 826.4h0M228.4 771h0M228.5 830h0M228.5 737.2h0M228.6 723.6h0M228.7 760.4h0M228.7 810.2h0M228.8 772.2h0M228.9 782.9h0M229 765.6h0M229 762.3h0M229.1 729.7h0M229.1 747.8h0M229.2 808.9h0M229.3 801.1h0M229.3 776.2h0M229.4 822.7h0M229.5 798h0M224 943.4h0M224.5 970.1h0M224.8 1002.4h0M225.4 918.8h0M225.5 1023.5h0M226.2 917h0M226.4 995.5h0M226.8 951.5h0M227.1 957.2h0M227.6 918.5h0M228.3 969h0M228.5 1001.5h0M228.8 994.9h0M229.3 922.8h0M224.1 1117.1h0M224.6 1167.3h0M224.9 1146h0M225.5 1197.4h0M225.9 1179h0M226.3 1157h0M226.6 1203.2h0M227 1128.4h0M227.8 1157.5h0M228 1170.9h0M228.6 1147.9h0M229.1 1189.1h0M224.3 1310.3h0M225.1 1342.4h0"/>
<path stroke="#33184a" d="M229.6 194.1h0M229.6 224.8h0M229.9 261h0M230 228h0M230.3 175.9h0M230.4 150.9h0M230.7 163.5h0M230.8 184.2h0M231 158.7h0M231.3 158.4h0M231.4 257.8h0M231.6 168h0M231.9 188.6h0M232 260h0M232.2 211.2h0M232.5 229.2h0M232.7 183.4h0M232.8 226.2h0M233.1 169.3h0M233.2 190h0M233.4 253.3h0M233.7 233.3h0M233.8 203.1h0M234.1 202.6h0M234.3 234.8h0M234.6 195.9h0M234.6 199.8h0M235 215.1h0M235 214.2h0M229.6 347.3h0M229.9 432.3h0M230.2 422.7h0M230.5 437h0M230.9 342.4h0M231.3 408.7h0M231.6 357.8h0M231.8 440.9h0M232.2 411.2h0M232.4 345.3h0M232.5 439.1h0M233 369h0M233.3 448.3h0M233.6 378.4h0M233.7 429h0M234.2 398.1h0M234.4 394.6h0M234.8 375h0M234.9 453.2h0M229.5 733.3h0M229.6 786.3h0M229.7 765.2h0M229.7 762.7h0M229.8 732.9h0M229.8 773.1h0M229.9 761.4h0M230 775.3h0M230.1 820.6h0M230.1 788.6h0M230.2 805h0M230.3 811.2h0M230.4 724.8h0M230.4 831.6h0M230.5 830.1h0M230.5 753.2h0M230.6 784.2h0M230.7 748h0M230.8 759.5h0M230.9 796.1h0M230.9 799h0M231 824.4h0M231.1 737.4h0M231.1 765.1h0M231.2 773.6h0M231.3 804.6h0M231.3 721.1h0M231.4 748.5h0M231.4 806.3h0M231.5 811.2h0M231.6 751.4h0M231.7 766.2h0M231.7 806.6h0M231.8 805.4h0M231.9 768h0M231.9 767.7h0M232 739.3h0M232.1 824.2h0M232.1 795.7h0M232.3 814.7h0M232.3 738.1h0M232.4 754.3h0M232.5 811.9h0M232.6 766.9h0M232.6 770h0M232.7 726h0M232.7 802.8h0M232.8 800.7h0M232.9 750.6h0M233 774.5h0M233 792.7h0M233.2 768.4h0M233.2 792.2h0M233.3 728.8h0M233.3 757.5h0M233.4 779.1h0M233.5 793.1h0M233.6 811.6h0M233.7 798.1h0M233.7 791.9h0M233.8 728.6h0M233.9 761.4h0M234 777.6h0M234.1 790.7h0M234.2 830h0M234.3 802.4h0M234.4 765.1h0M234.5 762.1h0M234.5 731.9h0M234.6 721.7h0M234.7 796.7h0M234.9 809.4h0M234.9 824.9h0M235.1 763h0M235.1 722.1h0M229.7 1015.2h0M230.1 986.1h0M230.8 953.6h0M231 970.7h0M231.5 984.5h0M232.2 1004.8h0M232.4 985.2h0M232.9 913h0M233.2 924.8h0M233.7 931h0M234.2 1022.2h0M234.5 969.3h0M229.6 1211.8h0M229.8 1158.8h0M230.3 1175.7h0M230.8 1147h0M231.1 1205.4h0M231.9 1119.4h0M232 1156.5h0M232.8 1173.9h0M233.2 1103.9h0M233.6 1136.4h0M234.1 1108.2h0M234.4 1140.4h0M235 1166.1h0"/>
<path stroke="#341b51" d="M235.4 202.9h0M235.5 219.2h0M235.7 167.8h0M236 234.4h0M236.1 169.3h0M236.2 242.3h0M236.6 215.6h0M236.7 256.6h0M237 198.1h0M237.1 225.3h0M237.3 159.2h0M237.6 185.2h0M237.7 169.2h0M238 226.4h0M238.2 164.6h0M238.4 207.2h0M238.5 179.5h0M238.7 169.9h0M238.9 242.8h0M239.1 178.5h0M239.5 159.9h0M239.7 195.2h0M239.8 174.7h0M240 231.6h0M240.2 220.8h0M240.5 258.1h0M240.6 247.1h0M235.3 440.2h0M235.7 453.6h0M235.8 351h0M236.3 409.6h0M236.6 397.1h0M236.8 374h0M237.1 410.8h0M237.3 449.3h0M237.8 425h0M237.8 414h0M238.2 381.7h0M238.4 406.4h0M238.8 341.5h0M239.2 369.9h0M239.4 413.3h0M239.6 414.2h0M240 355.2h0M240.4 380.3h0M240.5 450.4h0M235.2 821.6h0M235.3 771.6h0M235.4 768.8h0M235.5 722.7h0M235.6 813.2h0M235.8 767.8h0M235.9 787.4h0M235.9 814.8h0M236.1 804.2h0M236.2 827.1h0M236.4 748.1h0M236.5 824.1h0M236.6 731.1h0M236.7 798.7h0M236.9 805.9h0M237 780.9h0M237.1 749.2h0M237.2 777.4h0M237.4 762.6h0M237.5 812h0M237.7 739.3h0M237.9 749.8h0M238.1 799.2h0M238.2 763.9h0M238.4 814.7h0M238.6 785.2h0M238.8 739.1h0M239.2 750.6h0M235.2 993.6h0M235.4 960.5h0M235.7 953.2h0M236.2 1005.3h0M236.7 1005.7h0M237.3 1002.4h0M237.6 1005h0M238.2 936.6h0M238.3 997.3h0M239.1 1004.8h0M239.2 953h0M239.7 932.4h0M240.2 935h0M240.8 937.4h0M235.4 1161.3h0M235.9 1187h0M236.5 1136.8h0M236.8 1113h0M237 1191.7h0M237.8 1152.1h0M238.1 1195.9h0M238.8 1119.9h0M238.9 1107.9h0M239.6 1183.6h0M240.1 1157.7h0M240.4 1152h0"/>
<path stroke="#351e58" d="M240.8 185.5h0M241 248.2h0M241.2 179.5h0M241.5 247.3h0M241.6 167.3h0M241.9 255.8h0M242.1 214.7h0M242.3 202.6h0M242.5 196.4h0M242.7 193.6h0M242.9 168.7h0M243.1 222.2h0M243.4 191.1h0M243.6 250.4h0M243.9 164.9h0M243.9 203.8h0M244.3 217h0M244.3 233.3h0M244.7 224.9h0M244.9 199.1h0M245 233.6h0M245.2 231.1h0M245.4 194h0M245.6 199.3h0M245.9 191h0M246 238.8h0M246.3 167.1h0M240.8 365.5h0M241.1 359h0M241.5 397.9h0M241.6 382.2h0M242 399.8h0M242.2 348.4h0M242.6 417.6h0M243.1 386.6h0M243.1 351.4h0M243.5 400h0M243.8 407.6h0M244.2 376.4h0M244.3 367.6h0M244.9 441h0M245.1 412.9h0M245.4 375.8h0M245.7 429.3h0M245.9 386.8h0M246.1 394.8h0M241.2 964.1h0M241.5 1022.7h0M241.7 974.7h0M242.4 997.6h0M242.9 961.4h0M243.1 975.5h0M243.4 1021.4h0M244.1 973.1h0M244.4 958.6h0M244.7 926h0M245.4 940h0M245.8 1000.7h0M246.2 1022.2h0M241 1174.9h0M241.4 1176.2h0M241.8 1190.7h0M242.3 1165.2h0M242.5 1146.3h0M243 1124.1h0M243.6 1152h0M244.2 1178.2h0M244.3 1112.2h0M244.8 1189.3h0M245.3 1173.6h0M246.1 1159.3h0M244.8 720.9h0M243.5 753.2h0M246.1 770.4h0M244.2 791.3h0M243.5 798.3h0M242.3 833.1h0"/>
<path stroke="#36215f" d="M246.6 243.1h0M246.6 217.4h0M246.9 192.8h0M247.2 257.4h0M247.4 259.1h0M247.7 260.4h0M247.8 162.3h0M248 206.3h0M248.3 255h0M248.4 151.9h0M248.7 184.8h0M248.9 202.8h0M249.2 182.3h0M249.4 215.5h0M249.4 211.5h0M249.7 246.3h0M250 178h0M250.2 236.3h0M250.3 206.7h0M250.5 260h0M250.9 247.9h0M250.9 153.2h0M251.1 196.1h0M251.6 179.7h0M251.7 206h0M252 263.5h0M252.1 216.4h0M246.6 357.3h0M246.8 375.2h0M247 382.1h0M247.5 433.9h0M247.6 366.1h0M247.9 399.7h0M248.3 368.5h0M248.6 425h0M248.7 357.7h0M249.1 396.3h0M249.4 370.2h0M249.7 421.2h0M250 440.5h0M250.3 451.7h0M250.5 418.8h0M251 341.5h0M251.2 424.4h0M251.6 423.5h0M251.9 433.2h0M246.7 933.7h0M246.9 956h0M247.6 970.2h0M247.9 973h0M248.2 1015.7h0M249 916.1h0M249.1 1001.7h0M249.8 915.2h0M250.1 958.9h0M250.7 1023.1h0M251.1 967.7h0M251.2 987.9h0M251.9 973.3h0M246.6 1129.2h0M246.6 1159.8h0M247.3 1131h0M247.8 1150.9h0M248.3 1184.6h0M248.7 1140.5h0M249 1193.3h0M249.6 1206h0M250.1 1208.4h0M250.4 1134.4h0M251.2 1121.1h0M251.5 1174.2h0M252 1176.7h0M249.9 720.9h0M248 754.5h0M246.7 763.4h0M249.2 776.1h0M251.5 823.9h0"/>
<path stroke="#372466" d="M252.2 158.7h0M252.5 235.4h0M252.7 173.6h0M252.9 203.2h0M253.1 222.8h0M253.4 254h0M253.7 189.5h0M254 226h0M254.1 154.9h0M254.3 158h0M254.6 199h0M254.7 217.5h0M254.9 182.9h0M255.2 234.8h0M255.5 187.2h0M255.6 181.4h0M255.9 229.5h0M256.1 231h0M256.3 261.2h0M256.5 165.9h0M256.7 161.8h0M256.8 244.9h0M257.1 182.1h0M257.3 253.3h0M257.7 215.5h0M257.7 218.9h0M252.2 424.3h0M252.4 357.9h0M252.6 446.3h0M253.1 370.3h0M253.2 432.3h0M253.6 355.5h0M253.9 350.2h0M254.2 372.9h0M254.6 352.2h0M254.7 376.8h0M255.1 358.7h0M255.5 439.4h0M255.7 428.8h0M255.9 439.4h0M256.1 407h0M256.6 367.5h0M256.8 345.5h0M257.2 351.5h0M257.4 371.5h0M257.8 372.2h0M252.5 933.7h0M252.9 960.9h0M253.1 1008.9h0M253.7 926.9h0M253.9 963.1h0M254.6 1004.7h0M255.1 952.2h0M255.3 954.7h0M255.9 980.8h0M256.1 1009.6h0M256.8 988.3h0M256.9 995.3h0M257.4 920.5h0M252.3 1208.2h0M252.7 1192.5h0M253.3 1114.4h0M254 1113.6h0M254.4 1107h0M254.6 1136.7h0M255.1 1116h0M255.8 1155.5h0M256.3 1119.6h0M256.4 1212.7h0M257.1 1164.3h0M257.5 1177.6h0M254.6 725.4h0M253 753.9h0M257.5 753.2h0M255.6 777.3h0M256.8 780.5h0M253 799.5h0M255.3 804.2h0"/>
<path stroke="#38276d" d="M258.1 151.4h0M258.2 214.9h0M258.4 249.3h0M258.7 263.2h0M259.1 193.9h0M259.2 169.9h0M259.5 253h0M259.9 197.7h0M260 202h0M260.2 203.9h0M260.5 212.8h0M260.8 157.8h0M260.9 152.6h0M261.4 237.6h0M261.7 222.4h0M261.9 195.4h0M262.1 224.9h0M262.3 231.4h0M262.7 183.8h0M263.1 195.2h0M263.3 178.9h0M258 373.5h0M258.3 435.1h0M258.7 422.7h0M258.9 405.6h0M259.1 389.2h0M259.6 368.1h0M259.7 408.2h0M260 370.7h0M260.5 432.3h0M260.5 444.6h0M261 402.1h0M261.3 345.5h0M261.6 418.3h0M261.8 376.6h0M262.1 445.7h0M262.6 349.7h0M262.9 420.9h0M263.1 426h0M263.3 345.8h0M258.1 1013.5h0M258.4 959h0M258.6 931h0M259.5 1019.1h0M259.9 975.8h0M260.1 970.1h0M260.5 982.3h0M261.2 930.7h0M261.3 952.5h0M261.9 957.6h0M262.5 989.1h0M262.6 921.9h0M263.4 922.2h0M258.2 1195.5h0M258.5 1207h0M258.7 1142.4h0M259.5 1130.2h0M259.7 1177.9h0M260.3 1127h0M260.6 1174.9h0M261.1 1113.4h0M261.7 1140.9h0M262.2 1171.8h0M262.7 1180.5h0M263.2 1193.8h0M258.7 759h0M260.3 813.2h0M261 1305.2h0"/>
<path stroke="#392a73" d="M263.7 166.5h0M263.8 217.8h0M264.2 234.3h0M264.5 219.6h0M265.1 179.8h0M265.1 223.4h0M265.5 197.3h0M265.8 201.4h0M266.4 152.4h0M266.8 238.9h0M267.1 252.3h0M267.4 183.9h0M267.9 191.8h0M268.2 206.4h0M268.7 195.9h0M263.5 435.2h0M263.8 367h0M264.2 429.4h0M264.6 434.4h0M264.7 403.6h0M265 408.8h0M265.4 446.3h0M265.8 358.7h0M266.1 399.4h0M266.4 382.9h0M266.6 343.2h0M266.9 352.4h0M267.1 379.7h0M267.4 437.6h0M267.8 437h0M268 376.6h0M268.5 422.5h0M268.6 407.1h0M269 434.8h0M263.6 954.9h0M264.2 940.8h0M264.4 938h0M265 974.4h0M265.5 1005.2h0M265.9 915.1h0M266.3 942.5h0M266.8 960.6h0M267.1 929.4h0M267.5 966.4h0M268.2 982.6h0M268.3 939.9h0M263.5 1109.4h0M264 1113.8h0M264.5 1209.8h0M264.8 1189.9h0M265.5 1111.8h0M266.2 1208.7h0M266.3 1150.9h0M266.7 1130.2h0M267.5 1114.8h0M267.7 1112.6h0M268.3 1209.1h0M268.9 1156h0M269 1195.1h0M265.1 787.5h0"/>
<path stroke="#3a2d79" d="M269.1 192.6h0M269.5 235.2h0M270.1 224.8h0M270.5 187.2h0M270.8 222.6h0M271.2 228.1h0M271.5 200.6h0M272.1 180.4h0M272.5 248.4h0M273.1 151.5h0M273.6 232.2h0M273.9 242.3h0M274.4 174.7h0M274.7 215.3h0M269.1 427.9h0M269.6 376.8h0M269.8 439.4h0M270.2 418.2h0M270.5 354.8h0M270.6 350.7h0M271 347.9h0M271.2 431.2h0M271.6 397.4h0M271.9 351.8h0M272.4 413.8h0M272.5 415.2h0M272.9 440.2h0M273 411.4h0M273.3 453.8h0M273.7 403.3h0M274 392.7h0M274.3 432.8h0M274.6 370.7h0M269.2 1011.3h0M269.5 931.2h0M269.9 1014.5h0M270.2 982.1h0M270.7 1009.7h0M271.1 980h0M271.8 995.7h0M271.8 999.7h0M272.7 992.1h0M273.1 928.6h0M273.4 963.8h0M274 958.8h0M274.1 979.7h0M274.7 992.6h0M269.5 1163.1h0M270.2 1197.2h0M270.4 1160.1h0M271.1 1201.9h0M271.6 1109.8h0M272 1198.8h0M272.3 1122.1h0M273 1202h0M273.2 1119.2h0M274 1152h0M274.3 1146.8h0M270.4 783.4h0M270.8 802.4h0M272.7 813.2h0M273 1319.1h0"/>
<path stroke="#3b2f80" d="M275 261.9h0M275.5 185h0M276 220.4h0M276.6 197.6h0M276.7 200.7h0M277.4 236h0M277.9 212.5h0M278.1 182.3h0M278.6 234.7h0M279.3 214.1h0M279.7 185.7h0M280.3 218.4h0M274.8 368.8h0M275.3 422.7h0M275.5 435.7h0M275.8 417.9h0M276.1 365.4h0M276.3 404h0M276.8 350.7h0M277.1 438h0M277.4 450.4h0M277.6 343h0M277.8 385h0M278.2 438.5h0M278.4 436.8h0M278.8 382.3h0M279.2 368.1h0M279.4 406h0M279.5 384.5h0M280 342.6h0M280.4 399.1h0M275.2 936.6h0M275.7 995.3h0M276.1 955h0M276.6 985.1h0M276.8 1009.6h0M277.2 911.2h0M277.9 912.5h0M278.1 990.7h0M278.5 972.6h0M279 966h0M279.4 999.7h0M280 974.7h0M274.9 1142.6h0M275.3 1132.3h0M276 1126.1h0M276.4 1135.5h0M276.8 1162.9h0M277.1 1186.3h0M277.7 1182.9h0M278 1174.8h0M278.6 1144h0M279.4 1133.6h0M279.7 1125.1h0M280.1 1150.1h0M279.3 818.8h0M275.2 1400.6h0"/>
<path stroke="#3c3286" d="M280.6 234.8h0M281.2 158.1h0M281.6 169.6h0M282 190.7h0M282.3 179.1h0M282.8 214.9h0M283.5 156.4h0M283.8 254.6h0M284.4 234h0M284.8 198.3h0M285.3 168.1h0M285.6 158h0M280.6 382.8h0M280.9 383.1h0M281 360.5h0M281.4 408.5h0M281.6 370.3h0M282 453.3h0M282.4 412.7h0M282.7 430h0M282.9 431.9h0M283.2 363.3h0M283.4 439.4h0M283.7 432.4h0M284.2 408.2h0M284.4 437.5h0M284.7 387.1h0M285.1 368.8h0M285.3 376.3h0M285.7 429.9h0M285.9 409.5h0M280.4 1021.9h0M280.9 1021.2h0M281.3 922.4h0M281.9 931.1h0M282.5 930.4h0M282.7 941.4h0M283.2 990.8h0M283.8 987.6h0M284 978h0M284.4 943.6h0M285 1001.1h0M285.6 942.7h0M285.7 1007.9h0M280.8 1209.3h0M281.1 1127.5h0M281.5 1120h0M281.9 1188.6h0M282.4 1100.9h0M282.8 1122.7h0M283.5 1134.3h0M284 1153.2h0M284.2 1172.6h0M284.6 1173.4h0M285.1 1114.9h0M285.8 1153.5h0M284.1 759h0M281.8 797.9h0"/>
<path stroke="#3d358b" d="M286.5 234.4h0M286.7 214.9h0M287.3 197.8h0M287.6 186.4h0M288.4 157h0M289 236.6h0M289.4 174.7h0M289.9 181.2h0M290.6 177.2h0M290.8 214.9h0M291.6 183.7h0M286.2 399.3h0M286.6 436.5h0M286.7 352.3h0M287.2 343.9h0M287.3 407h0M287.8 419.2h0M288 437h0M288.4 393.8h0M288.6 415.1h0M288.9 381.9h0M289 356.8h0M289.5 434.8h0M289.8 446.9h0M290 356.2h0M290.5 410.8h0M290.6 413.9h0M291 419.1h0M291.3 390.8h0M291.4 378h0M286.3 968.5h0M286.7 985.6h0M287.2 936.2h0M287.5 984.7h0M288.2 996.1h0M288.7 1018.6h0M289.2 1005.7h0M289.3 963.6h0M290 1010.5h0M290.3 1020.2h0M291 995.1h0M291 957.8h0M291.6 942.3h0M286.3 1112.8h0M286.8 1103.3h0M287 1153.4h0M287.7 1195.6h0M288 1187.7h0M288.7 1178.2h0M288.9 1109.3h0M289.6 1161.1h0M290.3 1135.3h0M290.5 1166.3h0M291 1187.2h0M291.4 1122.3h0M291.1 794.7h0M288.5 819.8h0M291.1 822.3h0M290.2 831.2h0"/>
<path stroke="#3e3891" d="M292.2 163.2h0M292.6 249.5h0M293.4 170.5h0M293.7 175.3h0M294.1 234.6h0M295.1 202.8h0M295.4 256.5h0M296.1 252h0M296.3 214.3h0M297.3 169.4h0M291.9 384.4h0M292 372.6h0M292.6 406.2h0M292.7 355.4h0M293.1 395.6h0M293.5 404.1h0M293.6 440.9h0M293.8 401.4h0M294.2 378.1h0M294.6 409.8h0M294.9 347.2h0M295.3 375.6h0M295.3 400h0M295.6 410.8h0M296 364.5h0M296.3 431.2h0M296.7 374.3h0M296.8 452.2h0M297.1 448.3h0M292.3 984.3h0M292.5 953h0M293 956.3h0M293.6 920.9h0M294 1010.7h0M294.4 935h0M294.7 1020.6h0M295.4 967.9h0M295.7 993.5h0M296.2 957.6h0M296.4 984.9h0M297 957.4h0M292.2 1179.2h0M292.4 1102h0M293.1 1115.5h0M293.6 1151.5h0M293.8 1183h0M294.6 1191.8h0M294.9 1122.9h0M295.2 1181h0M296 1198.6h0M296.6 1167.5h0M297.1 1168.1h0M297.3 1181.4h0M292 759.3h0M294.5 773.3h0"/>
<path stroke="#3f3b97" d="M297.5 185.7h0M298.1 225.9h0M298.7 184.5h0M299.4 208.9h0M300 164.7h0M300.5 214.3h0M300.9 257.3h0M301.8 221.2h0M302.5 183.3h0M297.6 382.4h0M297.8 344.4h0M298 409.2h0M298.6 438.7h0M298.6 399.5h0M299 440.1h0M299.3 390.6h0M299.8 401.7h0M299.9 386.4h0M300.1 350.2h0M300.6 364.1h0M300.8 439.2h0M301 396.4h0M301.3 420.7h0M301.8 418h0M301.9 360.8h0M302.3 345.5h0M302.7 357.7h0M303 343.5h0M297.5 1007.2h0M298.1 938.8h0M298.6 958.4h0M298.9 998h0M299.4 1006.8h0M299.9 1010.3h0M300.1 1004.8h0M300.7 1021.8h0M301.1 940.9h0M301.5 955.3h0M302 968.6h0M302.7 951.2h0M302.8 963.7h0M297.9 1171.1h0M298.4 1173.1h0M298.9 1173h0M299.5 1176.1h0M299.5 1173.6h0M300.5 1114.7h0M300.7 1143.6h0M301.4 1150.8h0M301.7 1211.1h0M302 1162.3h0M302.9 1104.1h0M303 1108.7h0M301.2 789.8h0M298 822.1h0"/>
<path stroke="#3f3e9c" d="M303.2 164h0M303.5 218.5h0M304.3 213.2h0M304.9 236.2h0M305.1 151.1h0M305.6 168.1h0M306.3 220.4h0M307.2 215.8h0M307.5 230.3h0M308 251.9h0M303.3 367.1h0M303.4 404.6h0M303.7 384.7h0M304.2 365.6h0M304.4 430.1h0M304.7 372.1h0M304.9 443.3h0M305.2 357.9h0M305.5 364.4h0M306 363.9h0M306.1 361.9h0M306.4 356.4h0M306.9 451.4h0M307.1 354.9h0M307.5 445.5h0M307.7 375.3h0M308.1 353.3h0M308.3 381.3h0M308.6 395.7h0M303.6 991.1h0M303.7 957.1h0M304.4 937.2h0M304.9 969.9h0M305.1 917.1h0M305.7 927.9h0M306.3 917.6h0M306.8 936.3h0M307.1 966.1h0M307.4 941.8h0M307.8 931.3h0M308.3 947.1h0M303.5 1212.9h0M303.9 1196.3h0M304.5 1168.4h0M305.3 1121h0M305.6 1112.4h0M306.2 1196.4h0M306.7 1170.6h0M306.9 1209.2h0M307.4 1130.8h0M307.9 1206.2h0M303.5 725.6h0M308.4 793.4h0M305.3 806.2h0M308.4 824h0M303.4 1343.8h0"/>
<path stroke="#4040a2" d="M309.2 237.7h0M309.6 219.9h0M310.4 263.2h0M310.6 189h0M311.2 178.1h0M311.7 181.2h0M312.9 221.9h0M313 164.4h0M314 197h0M314.3 189.8h0M308.9 414.5h0M309.2 451.1h0M309.7 401h0M309.9 409.7h0M310.2 418.5h0M310.5 362.2h0M310.6 390.1h0M311 427.4h0M311.3 361.5h0M311.8 359.9h0M312 416h0M312.4 404.3h0M312.6 365.7h0M313 379h0M313.1 362.4h0M313.6 360.1h0M313.9 410.3h0M314.1 348.1h0M314.3 377h0M309.1 969.4h0M309.5 971.9h0M310 1022h0M310.2 1017.1h0M310.7 1006.9h0M311.1 949.5h0M311.9 1018.2h0M312.2 936.4h0M312.7 995h0M313 951.6h0M313.7 1006.1h0M313.9 933.7h0M314.2 947.3h0M308.7 1183.1h0M309 1149.3h0M309.4 1190.6h0M309.7 1119.3h0M310.2 1210.8h0M310.8 1132.2h0M311.4 1156.9h0M312 1173.6h0M312.6 1123.1h0M312.8 1199.5h0M313.4 1147h0M313.6 1162.6h0M312 816.3h0M311 1375.7h0M311 1402.4h0"/>
<path stroke="#4143a7" d="M315.3 164.4h0M315.5 244.6h0M316.3 245.1h0M317 179.3h0M318 161h0M318.6 221.8h0M318.9 174h0M319.6 216.8h0M314.7 435.6h0M315.1 432.6h0M315.2 365.1h0M315.6 370.9h0M315.7 371.8h0M316.2 386.9h0M316.4 364.2h0M316.8 383.9h0M317 365h0M317.4 405.3h0M317.7 386.2h0M318.1 376.1h0M318.4 352.5h0M318.5 349.6h0M319 426.3h0M319.3 369.2h0M319.4 355h0M319.9 381h0M314.9 918.5h0M315.2 972.1h0M315.7 1007.3h0M316.3 956.7h0M316.8 1001.8h0M317 948.3h0M317.6 1020.3h0M318.2 1019.1h0M318.5 913.6h0M318.9 933.9h0M319.3 922.8h0M314.4 1124.2h0M314.9 1173.9h0M315.5 1133.4h0M315.9 1169.4h0M316.4 1211.1h0M316.7 1193.4h0M317.1 1174.2h0M318 1155.8h0M318.3 1135.7h0M318.6 1113.7h0M319 1191.8h0M319.6 1202.7h0"/>
<path stroke="#4146ac" d="M320.4 195h0M321 248.2h0M321.9 186.1h0M322.4 209.6h0M323 160.2h0M323.9 192.1h0M324.2 252.9h0M324.9 167.3h0M325.5 236h0M320.2 406h0M320.3 451.1h0M320.7 367.8h0M320.9 451.8h0M321.3 385.9h0M321.6 352.2h0M321.9 447.5h0M322.1 349.6h0M322.7 349h0M322.7 359.3h0M323 449.2h0M323.4 350.3h0M323.6 361.7h0M323.9 382.8h0M324.3 444.2h0M324.6 446.7h0M324.9 427.9h0M325.1 385.1h0M325.7 425h0M320.2 971.2h0M320.5 998.7h0M320.7 1000.9h0M321.3 972.5h0M321.8 957.4h0M322.2 994.8h0M322.7 930.9h0M323.4 1009h0M323.7 918.5h0M323.9 1001.5h0M324.6 999h0M324.9 972.3h0M325.3 1023.3h0M320.2 1186.3h0M320.9 1179.8h0M321 1172.4h0M321.9 1205.6h0M322.3 1146.5h0M322.6 1192.3h0M323.1 1175.1h0M323.9 1190h0M324.2 1205.3h0M324.7 1104.9h0M325.4 1146.3h0M321.8 833.5h0"/>
<path stroke="#4249b1" d="M326.3 201.8h0M326.7 214.7h0M327.7 252h0M328.3 252.7h0M328.9 200.2h0M329.6 263.2h0M330.7 183h0M331.1 176.1h0M325.9 443.7h0M326 415.3h0M326.3 432.4h0M326.8 378.6h0M327 346.1h0M327.3 391.7h0M327.7 438.2h0M328.1 361.2h0M328.2 355.5h0M328.5 391.6h0M329 375.2h0M329.2 341.5h0M329.4 431h0M329.8 422.5h0M330 450.2h0M330.4 343.4h0M330.8 354.6h0M330.9 388.9h0M331.3 423.8h0M326 950.2h0M326.6 931.2h0M327 930.4h0M327.4 935.8h0M328 995h0M328.4 927.9h0M328.9 999.7h0M329.2 971.7h0M329.5 971.3h0M330.2 952.1h0M330.8 998.5h0M331.2 918.5h0M325.9 1189.8h0M326.3 1125.2h0M326.9 1156.3h0M327.1 1115.7h0M327.8 1213.9h0M328 1155.3h0M328.6 1188.1h0M329.1 1122.7h0M329.8 1107.5h0M330 1212.1h0M330.5 1133.5h0M330.9 1162.9h0M328.6 1373.2h0"/>
<path stroke="#424bb5" d="M332.3 220.5h0M332.6 217.6h0M331.5 371.1h0M331.8 353.9h0M332.2 354.7h0M332.4 383.9h0M332.7 380.7h0M333.1 444.3h0M333.5 391.8h0M333.8 392.6h0M334.1 447.7h0M334.5 401.7h0M334.7 348h0M334.9 344.3h0M335.2 390h0M335.5 367.5h0M336 413.7h0M336.2 403h0M336.5 372.6h0M336.9 344.6h0M331.5 989.2h0M331.9 981h0M332.7 974.8h0M333 1000.6h0M333.2 914.6h0M334 987.7h0M334.5 916.3h0M334.7 982.1h0M335.3 975.4h0M335.6 962.7h0M336.3 982.5h0M336.8 940.7h0M331.7 1117.8h0M332.1 1181.6h0M332.6 1125.5h0M333.2 1192.5h0M333.9 1113.6h0M334.2 1128.2h0M334.5 1188.9h0M335.3 1186.5h0M335.5 1111.4h0M336.2 1136.1h0M336.5 1111.8h0M333 158h0M336.5 180.1h0M333.8 1374.5h0M335.4 1323.8h0"/>
<path stroke="#434eba" d="M337 374.9h0M337.3 419.7h0M337.8 404.3h0M338.1 355.6h0M338.2 348.5h0M338.8 412.5h0M338.9 452.5h0M339.2 442.9h0M339.6 428.4h0M340 344.7h0M340 423.5h0M340.5 371.5h0M340.9 443.2h0M341.1 378.5h0M341.4 383.2h0M341.8 419.9h0M342 348.3h0M342.2 387.7h0M337.1 926.7h0M337.5 925.9h0M338.1 998.5h0M338.8 929.3h0M339.1 963.3h0M339.6 928.4h0M339.8 961h0M340.4 981.8h0M340.8 994h0M341.2 996.8h0M341.7 991h0M342.3 912.1h0M337.2 1149.3h0M337.7 1150.2h0M338.1 1105.8h0M338.5 1204.2h0M339 1139.1h0M339.6 1141.4h0M340.2 1136.7h0M340.7 1205h0M341.2 1209.6h0M341.6 1174.6h0M342.4 1125.2h0M342.6 1173.4h0M339.5 166.1h0M337.5 192.1h0M342 209.1h0M340 218.1h0M337.5 232.7h0M337 260.2h0M339.9 720h0M341.4 723.1h0M339.8 1357.1h0M338.9 1395.2h0"/>
<path stroke="#4451bf" d="M342.7 359.2h0M342.8 413.2h0M343.2 370.5h0M343.6 385.2h0M343.8 438.2h0M344.1 401.3h0M344.5 433.4h0M344.7 427.4h0M345 368.8h0M345.4 425.1h0M345.6 446.1h0M345.9 427.5h0M346.2 422.9h0M346.5 359.9h0M347 399h0M347.3 349.7h0M347.7 398.1h0M347.8 351.1h0M348.1 436.7h0M342.8 933.3h0M343.1 981.1h0M343.7 978.8h0M344.3 966.6h0M344.7 941.1h0M345.1 978.8h0M345.5 941.1h0M345.9 972.5h0M346.7 1016.8h0M347.2 963.5h0M347.5 924.7h0M347.8 993.1h0M343.1 1154h0M343.7 1109.3h0M344 1211.6h0M344.5 1171.3h0M345.2 1109.4h0M345.7 1120.2h0M346.1 1188.9h0M346.6 1182.9h0M347.2 1192.8h0M347.7 1107.1h0M345.7 160.1h0M348 167.1h0M345 181.1h0M344.5 200.6h0M345.2 1339h0"/>
<path stroke="#4454c3" d="M348.6 393.4h0M348.7 386.9h0M349 424.4h0M349.4 405.2h0M349.6 371.7h0M350 413.9h0M350.4 397.5h0M350.6 384h0M350.9 433h0M351.1 413.5h0M351.5 394.9h0M351.8 452.6h0M352.1 410.4h0M352.4 411.2h0M352.7 392.2h0M352.9 383.8h0M353.5 390.2h0M353.8 371.9h0M348.7 1009.7h0M348.8 1004h0M349.7 959.6h0M349.9 1002.5h0M350.2 916.2h0M350.9 917h0M351.5 929.7h0M351.8 1020.5h0M352.4 1003.4h0M352.9 918.9h0M353.1 990.6h0M353.6 996.7h0M348.5 1138.6h0M348.6 1181h0M349.1 1190.4h0M349.8 1113.4h0M350.3 1194h0M350.8 1165h0M351.1 1114.1h0M352.1 1200.1h0M352.3 1151.5h0M353 1157.3h0M353.4 1131.4h0M353.8 1125.6h0M352 207.6h0M350 220.2h0M349.7 1320.3h0M351.6 1319.4h0M349.7 1357.5h0M351.6 1381.3h0"/>
<path stroke="#4456c7" d="M354 441.7h0M354.2 351.8h0M354.6 448.3h0M354.9 419.7h0M355.1 362.7h0M355.5 354.7h0M355.9 377.6h0M356.1 386.6h0M356.5 447.1h0M356.9 401.8h0M357.2 400.1h0M357.5 448.9h0M357.8 418.2h0M358.1 427.3h0M358.3 369h0M358.5 403.4h0M358.8 356.8h0M359.2 363.9h0M359.4 412.9h0M354 1007.3h0M354.9 969.1h0M355.3 962.4h0M355.5 911.5h0M356.2 914.7h0M356.7 971.1h0M356.8 943.9h0M357.7 914.8h0M357.8 977.3h0M358.3 954.5h0M359.1 962.3h0M359.3 939.2h0M354.3 1151.5h0M355.1 1173h0M355.3 1106.8h0M356.1 1201.2h0M356.4 1183.3h0M357.1 1109.4h0M357.7 1174h0M357.7 1204h0M358.7 1120.8h0M359.1 1153.6h0M359.3 1127.1h0M356 169.6h0M354.5 178.1h0M357 213.1h0M354.5 227.7h0M358.7 1395.2h0"/>
<path stroke="#4559cb" d="M359.7 362h0M360.1 401.6h0M360.4 383.2h0M360.9 363.4h0M361 341.8h0M361.5 376.3h0M361.6 390.3h0M362.1 384.2h0M362.2 408.9h0M362.6 452.1h0M363 437.1h0M363.4 386.2h0M363.6 422.7h0M363.8 364.6h0M364.3 440.3h0M364.4 360.2h0M365 376.5h0M365.2 432.3h0M360 931.3h0M360.3 944.8h0M361 957.3h0M361.5 1018.2h0M361.9 918.8h0M362.4 987.3h0M362.7 1003.5h0M363.4 939h0M363.6 1018.7h0M364.3 945.2h0M364.8 1010.6h0M365.3 915.2h0M360.2 1190h0M360.4 1128.3h0M361.2 1133.3h0M361.7 1194.9h0M361.9 1193.8h0M362.6 1163.8h0M362.9 1150h0M363.5 1133.8h0M364.1 1135.7h0M364.6 1185.3h0M365.2 1164.7h0M361.1 172.1h0M363.6 156.8h0M360.1 198.1h0M365.1 234.7h0M361.1 257.7h0M363.3 822.3h0M364.3 1317.1h0M360.4 1382.5h0M363.8 1387.6h0"/>
<path stroke="#455ccf" d="M365.3 451.1h0M365.9 341.1h0M366.2 448.1h0M366.3 349h0M366.9 425.9h0M367 382.4h0M367.5 367.1h0M367.6 405.1h0M367.9 423h0M368.2 381.3h0M368.7 368.3h0M369 356.2h0M369.3 427.9h0M369.6 432.5h0M369.7 391.3h0M370 397.8h0M370.4 408h0M370.7 350.3h0M365.6 930.4h0M366.3 985h0M366.6 1006.1h0M367.1 953h0M367.8 980.6h0M367.9 984.3h0M368.4 1002.8h0M368.9 928.9h0M369.5 1017.3h0M370.2 1011.9h0M370.7 990.9h0M365.7 1106.1h0M366.2 1176h0M366.7 1121.8h0M367.3 1195.9h0M367.5 1150.4h0M368 1145h0M368.9 1184.6h0M369.5 1178.7h0M370 1183h0M370.4 1209.8h0M370.7 1114.1h0M368.1 199.6h0M369.1 248.7h0M365.9 832.2h0"/>
<path stroke="#455ed3" d="M371 373.8h0M371.4 409h0M371.6 380.5h0M372.2 354h0M372.3 342.5h0M372.6 396.3h0M372.9 392.1h0M373.3 368.8h0M373.6 345.5h0M373.8 420.2h0M374.2 422.7h0M374.7 345.1h0M374.7 367.2h0M375.2 357.5h0M375.4 387.6h0M375.7 408.3h0M376.2 412.8h0M376.4 427h0M371.2 1016.7h0M371.6 918h0M372 956.9h0M372.6 947.8h0M372.8 926.7h0M373.5 925.4h0M373.9 971.2h0M374.4 949.3h0M375 937.3h0M375.3 979.7h0M375.6 968.7h0M376.6 1015.5h0M371.4 1112.1h0M371.6 1109.5h0M372.4 1140.6h0M373 1209h0M373.3 1151.4h0M373.9 1121.8h0M374.7 1127.7h0M374.8 1105.3h0M375.5 1164.9h0M375.9 1131.4h0M376.4 1106.3h0M373.8 176.1h0M374.6 261.2h0M373 1372.6h0M376.5 1374.1h0M372 1382.1h0"/>
<path stroke="#4661d6" d="M376.9 402.4h0M376.9 415.9h0M377.4 397.8h0M377.5 433.4h0M378 401h0M378.4 407.4h0M378.5 378.8h0M378.8 444.2h0M379.3 447.3h0M379.6 416h0M379.9 415.7h0M380.2 387.2h0M380.4 367h0M380.8 377.8h0M381.3 395.3h0M381.4 446.8h0M381.6 363.9h0M382.2 373.5h0M376.8 994.3h0M377.4 937.7h0M377.6 955.4h0M378.2 1023h0M378.8 974.1h0M379.2 1016.4h0M379.8 952.5h0M380.5 1021.9h0M380.9 994.2h0M381.1 981.6h0M381.6 1019.5h0M377.2 1129.9h0M377.6 1106.6h0M378.2 1133.8h0M378.8 1184h0M379.4 1101.3h0M379.4 1105.3h0M380.3 1191.4h0M380.5 1210.8h0M381.4 1120.4h0M381.7 1156.9h0M378.1 183.1h0M378.6 222.2h0M379.6 230.2h0M377.1 256.2h0M379.5 1309.5h0M377 1328.8h0M377.5 1357.4h0M379 1383.1h0M378.5 1392.6h0"/>
<path stroke="#4664da" d="M382.5 446.8h0M382.6 392.7h0M383 428.7h0M383.2 422h0M383.8 381.7h0M384 353.4h0M384.4 349.1h0M384.6 432.2h0M385.1 445h0M385.1 372.5h0M385.5 421.1h0M386 398.3h0M386.2 417.6h0M386.6 386.8h0M386.8 426.2h0M387 453.1h0M387.4 397.5h0M387.7 431.8h0M382.4 953.8h0M382.9 991h0M383.2 1003.7h0M383.9 974.4h0M384.4 941.1h0M384.8 935.9h0M385.5 911.2h0M385.8 973.5h0M386.1 975.3h0M386.7 954.9h0M387.4 1007.1h0M387.9 992.9h0M382.5 1127.1h0M382.9 1127.2h0M383.2 1123h0M383.7 1208.2h0M384.6 1107.3h0M384.7 1196.7h0M385.3 1149.1h0M385.7 1130h0M386.5 1135.1h0M387.1 1107.8h0M387.6 1121.2h0M386.1 170.6h0M386.1 224.2h0M386.1 239.7h0M386.5 1310.5h0M386.2 1321.8h0M385 1385.1h0"/>
<path stroke="#4666dd" d="M388 368.7h0M388.3 402.1h0M388.6 445.4h0M389 371.5h0M389.4 352.5h0M389.8 374.6h0M389.8 379.2h0M390.2 427.6h0M390.6 361.8h0M390.9 371.1h0M391.1 429.5h0M391.7 386.4h0M391.8 453.5h0M392.4 344.4h0M392.6 355.8h0M392.7 365h0M393.3 433.4h0M393.5 403.5h0M388.2 967.8h0M388.7 963.7h0M389.3 937.8h0M389.6 1013.4h0M390.3 1001.3h0M391 981.4h0M391.2 946h0M392 1008.3h0M392.5 1012.4h0M392.8 1019.6h0M393.6 953.7h0M388.2 1107.4h0M388.7 1136.9h0M388.9 1179.9h0M389.8 1129.2h0M389.9 1105.2h0M390.8 1157.9h0M391 1199.2h0M392 1201.9h0M392.1 1203.5h0M393 1183.6h0M393.3 1147.8h0M392.9 155.5h0M392.6 168.6h0M388.1 182.6h0M393.1 195.6h0M389.6 206.1h0M391.1 217.1h0M393 1309.7h0M390 1330.6h0M391.5 1335.6h0"/>
<path stroke="#4669e0" d="M393.9 438.1h0M394.2 378.2h0M394.4 434.1h0M394.8 345.9h0M394.9 400.1h0M395.3 444.4h0M395.7 371.1h0M396.2 357h0M396.4 376.9h0M396.8 450.9h0M397 449.8h0M397.5 416.1h0M397.7 451.1h0M398 373.1h0M398.4 420.6h0M398.5 403h0M398.8 366.1h0M394.1 970h0M394.1 935.5h0M394.7 961h0M395.2 1006h0M396 985.7h0M396.3 987.9h0M396.9 998.4h0M397.5 955.8h0M397.9 956.8h0M398.4 916.9h0M398.7 944.9h0M393.6 1188.3h0M394.4 1187.8h0M395.2 1177h0M395.4 1153.6h0M396.1 1145h0M396.3 1132.6h0M397 1141.6h0M397.7 1157.6h0M398.2 1127.3h0M398.6 1153.9h0M399 1126.8h0M395.1 177.1h0M394.1 236.2h0M398 1328.8h0M396 1369.1h0M396.5 1373.6h0M394.5 1377.6h0"/>
<path stroke="#466be3" d="M399.3 357.4h0M399.6 413.1h0M399.9 393h0M400.1 390.3h0M400.5 381.3h0M400.8 364.7h0M401.2 447.1h0M401.5 408.4h0M401.8 355.2h0M402.3 395.6h0M402.4 375.6h0M402.8 384.8h0M403 431.7h0M403.4 450.8h0M403.9 399.2h0M404.2 360.4h0M404.2 426.5h0M404.9 343.5h0M399.5 1022.3h0M400 993.3h0M400.4 974.8h0M400.8 1000h0M401.6 939.1h0M402.1 987.6h0M402.6 1021.7h0M402.8 979.3h0M403.5 973.1h0M404.2 953.6h0M404.9 1020.4h0M404.9 916.5h0M399.6 1182.3h0M400.1 1190.7h0M400.7 1192.4h0M401.5 1134.4h0M401.9 1136.5h0M402.2 1168.7h0M403.1 1109.4h0M403.5 1151.1h0M404.2 1148.5h0M404.3 1136.6h0M400.1 183.1h0M403.1 187.6h0M400.1 199.1h0M400.6 213.6h0M402.3 820.7h0M402.3 1299.2h0M404 1391.6h0"/>
<path stroke="#476ee6" d="M405.1 412.6h0M405.5 390.9h0M405.6 378.6h0M405.9 346.4h0M406.5 372.4h0M406.6 349.8h0M406.9 429.1h0M407.2 376.7h0M407.6 441.8h0M407.9 425h0M408.2 428.5h0M408.6 453.2h0M409 452.4h0M409.3 413.4h0M409.6 397.8h0M409.8 394.7h0M410 409.5h0M405.8 1019.5h0M405.9 1023.4h0M407 966.5h0M407.3 948.4h0M407.7 931.3h0M408.1 990.4h0M408.7 1003.3h0M409.5 989.4h0M409.9 992.4h0M410.4 914.7h0M405.1 1110.7h0M405.6 1204.9h0M406.3 1159h0M406.9 1180.2h0M407.2 1210.7h0M408 1146.9h0M408.4 1168.2h0M408.8 1135.2h0M409.2 1192.4h0M409.8 1141.5h0M406.1 180.1h0M407.1 200.1h0M407.1 216.1h0M405.3 1340.1h0M408.1 1355.1h0M409.6 1375.1h0M407.1 1395.6h0"/>
<path stroke="#4771e9" d="M410.6 391.8h0M411 369.6h0M411.3 389.1h0M411.4 438h0M411.7 360.4h0M412.1 346.7h0M412.5 452.1h0M412.8 423.5h0M413.2 411.3h0M413.6 378.4h0M413.8 379.7h0M414.2 381.5h0M414.3 342.9h0M414.7 417.4h0M415 368.8h0M415.4 438.8h0M415.8 450.1h0M416 404.4h0M410.7 934.4h0M411.6 936.2h0M411.9 981.4h0M412.4 956.9h0M413.1 951.1h0M413.4 916.7h0M413.9 967.2h0M414.5 1006.6h0M414.8 942.5h0M415.6 1010.9h0M416.2 957.4h0M410.6 1188.8h0M411 1164.8h0M411.3 1182.8h0M412.2 1207.7h0M412.8 1132.6h0M413.4 1108.5h0M413.9 1141.4h0M414.2 1167.4h0M414.7 1159.3h0M415.2 1152.5h0M415.8 1156.5h0M413.6 173.1h0M415.1 198.1h0M412.1 224.7h0M411.1 229.2h0M412.6 1295.8h0M416.1 1330.6h0M415.6 1346.6h0M411.1 1351.1h0M412.1 1357.1h0M413.1 1364.6h0M413.1 1400.1h0"/>
<path stroke="#4773eb" d="M416.5 374.2h0M416.6 418.3h0M416.9 359.9h0M417.3 428.4h0M417.7 426.2h0M418.1 438.3h0M418.4 347.7h0M418.6 396.1h0M418.9 440.5h0M419.3 394.5h0M419.7 396.1h0M420 382.9h0M420.2 440.3h0M420.6 425.5h0M420.9 401.7h0M421.4 367h0M421.7 408.9h0M421.8 375h0M416.9 927.6h0M417.1 984.5h0M417.9 983.4h0M418.4 911h0M418.7 956.3h0M419.5 914.7h0M420 967.3h0M420.2 992.1h0M420.9 964.2h0M421.3 925.2h0M416.6 1180.4h0M417.2 1126.1h0M417.5 1213.3h0M417.9 1128.8h0M418.6 1112.8h0M419.3 1119.1h0M419.5 1144.9h0M420.1 1184.2h0M421 1113.4h0M421.4 1177.4h0M418.1 182.6h0M418.1 202.1h0M419.1 204.6h0M421.2 235.7h0M420.7 254.7h0M416.9 1291h0M419.1 1298.5h0M419.4 1306.2h0M418.3 1315.9h0M420.1 1335.1h0M419.1 1383.6h0M417.6 1388.1h0"/>
<path stroke="#4776ee" d="M422.1 358.1h0M422.5 353h0M422.8 441.3h0M423.3 401.5h0M423.7 392.3h0M424 439h0M424.2 439.7h0M424.4 418.4h0M424.9 345.2h0M425.3 421.2h0M425.7 451.8h0M426 379.1h0M426.3 355.2h0M426.6 443.2h0M426.8 379.9h0M427.1 400h0M422.1 991.5h0M422.3 1004.6h0M423 1003.7h0M423.8 936.4h0M424.3 965.4h0M424.9 988.5h0M425 936.8h0M425.8 976.1h0M426.6 997.3h0M426.8 945.6h0M427.5 994.2h0M421.9 1115.3h0M422.5 1211.7h0M423 1149.8h0M423.5 1199.7h0M424 1113.6h0M424.6 1118.6h0M425.4 1118.6h0M425.8 1136.5h0M426.3 1192h0M426.9 1106.5h0M427.5 1103.8h0M422.2 172.6h0M425.9 226.7h0M424.6 1364.6h0M423.6 1385.1h0M423.1 1401.6h0"/>
<path stroke="#4778f0" d="M427.6 351h0M427.9 428.9h0M428.3 385.6h0M428.6 387.5h0M428.8 376.5h0M429.1 444.3h0M429.4 434h0M429.7 376.6h0M430.1 380.2h0M430.7 423.4h0M430.8 436.1h0M431 356.6h0M431.6 341h0M431.8 405.9h0M432.2 436.8h0M432.5 453.1h0M432.7 377.7h0M433.2 388h0M427.8 967.7h0M428.3 951.5h0M429.1 966.6h0M429.8 957.1h0M430.2 997.9h0M430.5 963.8h0M431.4 1016.7h0M431.6 1022.3h0M432.5 918.6h0M432.6 965.3h0M428 1169.1h0M428.5 1143.9h0M429.2 1155.9h0M429.5 1182.6h0M430 1195.9h0M430.4 1154.2h0M431.3 1122h0M431.6 1142.8h0M432.4 1171.5h0M432.9 1111h0M433.1 152.5h0M428.8 191.5h0M432 242.8h0M431.7 263.9h0M432.3 1395.6h0M431.6 1296.2h0M431.1 1329.8h0M427.8 1352.4h0"/>
<path stroke="#477bf2" d="M433.4 398.3h0M433.7 443.4h0M434 406.7h0M434.5 367.9h0M434.7 364.9h0M435 366.8h0M435.5 412.1h0M435.9 421h0M436.3 423.5h0M436.6 405h0M436.8 368.4h0M437.3 449.5h0M437.4 370.8h0M437.8 375.7h0M438.3 427.7h0M438.3 349.8h0M433.4 971.7h0M434.1 953.2h0M434.8 943.2h0M435.1 1010.3h0M435.7 920.9h0M436.4 971h0M436.9 1018.5h0M437.6 938h0M438.1 932.8h0M438.5 968.8h0M433.3 1158.2h0M434.1 1124.8h0M434.3 1157.1h0M434.9 1143.5h0M435.6 1156.7h0M436.1 1118.1h0M436.5 1149h0M437 1140.4h0M437.7 1123.9h0M438.4 1176.7h0M436.3 201.6h0M436 226.4h0M438.1 1403.4h0M436.9 1295.2h0M434.1 1304h0M438.1 1307h0M436.1 1335.1h0M438.1 1357.6h0"/>
<path stroke="#467df4" d="M438.9 396.9h0M439 399h0M439.3 449.4h0M439.8 351.4h0M440.3 405.9h0M440.4 451.2h0M440.7 380h0M441.1 421.1h0M441.4 451.7h0M441.8 424.8h0M442 361.5h0M442.4 368.6h0M442.9 405.7h0M443.1 342.7h0M443.6 441.7h0M443.8 389.3h0M444.1 436.6h0M444.5 351.2h0M439.2 929.1h0M439.5 983.9h0M439.8 930.1h0M440.7 925.7h0M441.5 950.3h0M441.7 918.8h0M442.4 933.6h0M443.1 961.4h0M443.7 937.1h0M444.2 923.6h0M439.1 1193.3h0M439.4 1158.9h0M440.1 1152.2h0M440.6 1145.7h0M441.4 1103.2h0M441.9 1156.9h0M442.1 1209.8h0M443.1 1163.7h0M443.2 1137.1h0M444.2 1128.2h0M442.3 222.4h0M441.8 256h0M440.6 1389.4h0M440.1 1313h0M439.1 1340.1h0M440.1 1346.1h0M443.1 1370.4h0M443.1 1352.1h0"/>
<path stroke="#4680f6" d="M444.8 431.7h0M445.3 395.2h0M445.7 362.2h0M445.9 418.7h0M446.2 398.3h0M446.7 416.3h0M446.8 381.4h0M447.1 388.4h0M447.5 422.8h0M447.9 407h0M448.3 374.6h0M448.4 415.9h0M449.1 412.5h0M449.3 358.1h0M449.7 406.6h0M450 341.1h0M450.1 445.9h0M444.8 988.8h0M445.2 970.6h0M445.5 963.4h0M446.1 948.9h0M446.9 942.2h0M447.3 965.4h0M448 994.5h0M448.6 1013.2h0M449.2 1019h0M449.9 968.4h0M444.7 1181.9h0M445.3 1165.1h0M445.7 1140h0M446.2 1213.2h0M446.9 1186h0M447.5 1184.2h0M447.6 1103.8h0M448.3 1131.9h0M448.9 1205h0M449.3 1152.6h0M446.7 185.2h0M447.1 216.4h0M449.4 220.3h0M447.4 233.8h0M446.3 1298.5h0M444.6 1344.1h0"/>
<path stroke="#4682f8" d="M450.7 429.4h0M450.9 409.1h0M451.3 445.9h0M451.7 359.7h0M451.9 426.1h0M452.2 378.1h0M452.6 398.8h0M453.1 441.6h0M453.4 364.2h0M453.7 373.4h0M454.1 381.4h0M454.2 415.6h0M454.8 395.7h0M455 416.9h0M455.2 384.7h0M455.7 452.7h0M450.5 1020.6h0M450.6 1015.2h0M451.4 989.2h0M452 996.6h0M452.8 961.1h0M453.1 932.5h0M453.5 1004.1h0M454.2 943.5h0M454.7 927.8h0M455.5 963.4h0M450.4 1145.2h0M450.6 1178.1h0M451.3 1130h0M451.9 1201h0M452.5 1179.6h0M452.8 1212.6h0M453.7 1136.7h0M453.9 1122.2h0M454.6 1133.2h0M455.4 1117.3h0M455.8 1153.9h0M450.6 832.1h0M452.6 1324.9h0M455.1 1340.1h0M455.1 1348.1h0M453.1 1358.6h0M454.9 1371.1h0"/>
<path stroke="#4685fa" d="M456 352.6h0M456.3 397.3h0M456.7 348.2h0M457.1 395.9h0M457.6 411.7h0M457.6 372.9h0M458.1 370.5h0M458.6 348.9h0M458.7 425.5h0M459.3 411.9h0M459.4 380.2h0M459.9 349.8h0M460.1 443.9h0M460.5 395.3h0M460.9 435.7h0M461.1 426.6h0M461.4 431.9h0M456 940.4h0M456.8 970.2h0M457.1 1015h0M457.9 958h0M458.5 981.1h0M458.8 944.5h0M459.5 1005.4h0M460 945h0M460.8 959.3h0M461.3 932.3h0M456.4 1155.5h0M456.8 1153h0M457.3 1156.9h0M458.3 1155.1h0M458.5 1186.9h0M459.2 1157.5h0M459.8 1164.9h0M460.5 1110.8h0M460.8 1138.3h0M460.5 226.7h0M458.1 235.4h0M456.3 1295.5h0M460.1 1344.1h0M456.8 1386.9h0"/>
<path stroke="#4687fb" d="M461.9 371.1h0M462.1 418.5h0M462.7 429.6h0M463 395.6h0M463.1 411.3h0M463.7 405.6h0M464 378.5h0M464.4 419.7h0M464.5 350.7h0M464.8 414.3h0M465.2 382.5h0M465.5 387.1h0M466.1 401.7h0M466.5 359.8h0M466.8 348.2h0M466.9 386h0M462.1 923.4h0M462.7 968.8h0M462.9 956.8h0M463.5 991.1h0M464.1 940h0M464.9 945.9h0M465.5 931h0M466 968.8h0M466.4 974.2h0M467 923.6h0M461.7 1151.9h0M462.1 1168.5h0M462.5 1156.1h0M463 1158.9h0M463.9 1196.1h0M464.2 1108.4h0M465 1130.2h0M465.5 1169.8h0M465.9 1118.4h0M466.6 1176.9h0M467.1 1192h0M463.7 229h0M463.2 234.6h0M463.1 1303h0M462.1 1307h0M466.1 1314h0M464.1 1326.1h0M464.1 1351.1h0M465.1 1362.1h0"/>
<path stroke="#458afc" d="M467.5 403.3h0M467.7 410.3h0M468.1 437.9h0M468.5 350.5h0M468.8 364.4h0M469.3 368.1h0M469.4 444.2h0M469.7 371.5h0M470 402.7h0M470.4 395.8h0M470.9 384.3h0M471.1 404.6h0M471.7 435.5h0M472 373h0M472.4 369.4h0M472.8 429.6h0M467.7 965.2h0M468.4 946.2h0M469.2 1021.1h0M469.4 939.1h0M469.9 936h0M470.9 971.4h0M471.5 975.1h0M471.9 984.2h0M472.7 918.2h0M467.6 1141.8h0M468.3 1107h0M468.8 1153.9h0M469.3 1122.7h0M470.2 1205.9h0M470.6 1161.6h0M471 1162.8h0M471.5 1201.4h0M472.5 1206.3h0M471.8 178.3h0M471.1 187.1h0M472.4 260.3h0M471.6 1324.6h0M469.1 1340.6h0M469.1 1349.1h0M470.1 1360.6h0M469.1 1370.1h0"/>
<path stroke="#458cfd" d="M473 374.8h0M473.4 392.7h0M473.6 376.5h0M474.2 385.8h0M474.5 436.7h0M474.8 423.3h0M474.9 380.7h0M475.4 359h0M475.7 447.8h0M476 356.6h0M476.4 416.1h0M476.8 433.9h0M477.3 379.3h0M477.5 408.4h0M477.8 448.1h0M478.1 428.5h0M473.3 1001.1h0M473.9 923.6h0M474.3 918.2h0M474.9 998.7h0M475.7 937.9h0M476.2 957.3h0M476.9 928.6h0M477.2 935.8h0M477.9 940.7h0M473 1102.5h0M473.7 1164.3h0M473.9 1124.8h0M474.8 1111.9h0M475.3 1176.1h0M475.6 1114.4h0M476.5 1149.3h0M477.2 1207.6h0M477.5 1206.1h0M478.2 1112.3h0M476.8 161.4h0M474 182h0M477.6 1309h0M475.1 1297.5h0M475.1 1379.1h0M476.6 1394.6h0"/>
<path stroke="#448ffe" d="M478.6 379.7h0M479 450.1h0M479.2 378.1h0M479.7 349.2h0M479.9 400.4h0M480.3 424.4h0M480.8 363.2h0M481.2 342.2h0M481.4 442.9h0M481.6 431.9h0M482.2 425.8h0M482.3 431.3h0M482.8 371h0M483.3 426.5h0M483.5 364.2h0M484 352.6h0M478.5 949.7h0M479.4 1007.6h0M479.6 1011.5h0M480.4 1003.5h0M481.2 984.9h0M481.9 955.4h0M482.3 923.4h0M482.9 1001.2h0M483.4 960.7h0M484.1 960.2h0M478.6 1188.2h0M479.4 1186.9h0M480 1212.2h0M480.5 1199.1h0M481.2 1128.9h0M481.6 1107.3h0M482.4 1203.2h0M482.6 1185.6h0M483.4 1124.6h0M481.6 153h0M483.5 165.2h0M480.3 237.8h0M481.1 1343.6h0M482.3 1356.6h0M479.6 1290h0M483.1 1302h0M480.1 1379.6h0M481.1 1391.6h0M482.3 1403.1h0"/>
<path stroke="#4391fe" d="M484.2 357.9h0M484.4 414.8h0M484.9 443h0M485.4 442.4h0M485.5 389.5h0M486.1 353.5h0M486.2 391.4h0M486.8 375h0M487.2 361h0M487.3 440.2h0M487.8 348.3h0M488.3 372h0M488.4 352.2h0M488.7 344.7h0M489.1 345h0M489.5 446.7h0M484.8 934.5h0M485.4 965.7h0M486.1 959.4h0M486.2 988.6h0M487 997.5h0M487.7 974.1h0M488.4 970.3h0M489.1 982.8h0M489.7 1009.4h0M484.2 1112.8h0M484.4 1209.8h0M484.9 1132.3h0M485.5 1171h0M486.1 1119.2h0M487 1170h0M487.6 1160.3h0M488.3 1101.4h0M488.4 1164.1h0M489.4 1111.3h0M487.3 178.8h0M488.7 195.3h0M486.7 208h0M486.7 235.4h0M485.1 1295h0M487.1 1364.6h0M486.1 1389.1h0"/>
<path stroke="#4294ff" d="M490 393h0M490.2 372.7h0M490.8 434.5h0M491.1 437.5h0M491.4 349.2h0M491.8 355.7h0M492.2 430.4h0M492.3 422.4h0M492.8 443.2h0M493.1 430.9h0M493.6 419h0M493.8 364.7h0M494.1 355.8h0M494.4 373.1h0M495.1 347.9h0M495.1 375.5h0M490 1017.1h0M490.7 965.6h0M491.6 1007.9h0M492.2 930.9h0M492.5 936.1h0M493.3 941.6h0M494.3 995.3h0M494.9 947.1h0M490.1 1107.1h0M490.7 1150.5h0M491.2 1137.5h0M491.7 1154.7h0M492 1166.9h0M492.6 1152.6h0M493.5 1166.6h0M493.9 1136.7h0M494.8 1144.7h0M495 1193.7h0M490.2 166.5h0M491.4 232.7h0M495.4 238.6h0M493 243.3h0M494 250.8h0M495.2 1344.6h0M489.9 1331.4h0M491.1 1295.8h0M490.1 1309.5h0M491.1 1315.6h0M490.1 1370.1h0M495.2 1376.1h0"/>
<path stroke="#4196ff" d="M495.6 364.5h0M496.1 445.9h0M496.4 361.6h0M496.8 438.9h0M497.1 439.8h0M497.5 429.9h0M497.8 431.1h0M498.2 401.5h0M498.6 423.2h0M498.8 359.2h0M499.1 348.3h0M499.5 388.9h0M499.8 443.8h0M500.4 396.9h0M500.6 389.2h0M495.5 936.9h0M495.8 986.7h0M496.5 936.8h0M497.2 1023.4h0M498.1 1002.7h0M498.3 993.6h0M498.9 972.3h0M499.9 957.4h0M500.3 929.3h0M500.8 968.9h0M495.6 1118.2h0M496.6 1135.3h0M496.7 1187.7h0M497.7 1186.2h0M498.3 1179.5h0M498.8 1143.7h0M499.1 1184.4h0M499.6 1192.6h0M500.5 1108.6h0M500.9 1211h0M500.9 160.4h0M500.7 1304h0M498.7 1357.1h0M500.2 1381.1h0M498.7 1389.1h0"/>
<path stroke="#4099ff" d="M501.2 416.8h0M501.3 428.3h0M501.8 375.6h0M502.3 381.5h0M502.6 372.7h0M502.7 437.6h0M503.3 395.8h0M503.8 343.4h0M503.9 418.4h0M504.5 384.4h0M504.7 366.5h0M505 441h0M505.6 368.8h0M505.9 452h0M506.3 416.7h0M506.3 440.3h0M501.5 925.9h0M502 981.5h0M503.2 916.6h0M503.6 952.4h0M504.5 961.4h0M505.1 953.3h0M505.4 945.7h0M506.2 955.4h0M506.6 957.3h0M501.5 1102.2h0M502.1 1171.5h0M502.6 1108.9h0M503.7 1205.7h0M504.1 1167.8h0M504.6 1163.4h0M505.5 1183.5h0M505.6 1207.2h0M506.3 1183.4h0M506.8 1166.4h0M505.2 222.4h0M504.9 249.7h0M502.7 1327.9h0M501.2 1310.5h0M501.2 1360.1h0M502.2 1401.1h0M505.2 1402.1h0M505.2 1383.1h0"/>
<path stroke="#3e9bfe" d="M507 429.3h0M507.2 345h0M507.5 451h0M508.1 394.7h0M508.2 351.1h0M508.6 367.4h0M509.1 368.1h0M509.5 383.4h0M509.9 428.4h0M510.1 445.1h0M510.6 386.9h0M511 378.2h0M511.5 367.7h0M511.9 422.8h0M512.1 372.4h0M512.3 423h0M507.5 933.7h0M508.1 970h0M509 951.1h0M509.7 981.4h0M510.4 918.1h0M510.7 986.6h0M511.5 957.8h0M511.9 960.5h0M507.9 1177.4h0M508.2 1196.6h0M509 1207.1h0M509.5 1143h0M509.9 1102.3h0M510.5 1156.2h0M511 1121.8h0M512.1 1187.5h0M512.4 1184.3h0M510.2 1304h0M510.2 1376.1h0M511.2 1390.1h0M507.2 1394.1h0"/>
<path stroke="#3d9efe" d="M512.8 417.6h0M513.1 403.8h0M513.5 383.4h0M513.8 371.2h0M514.3 394h0M514.5 386.2h0M515.1 400.5h0M515.3 439.4h0M515.7 397h0M516.3 346.7h0M516.6 388.5h0M516.7 400h0M517.4 444h0M517.6 414.5h0M518.1 397.8h0M513 940.3h0M513.1 919.9h0M514 1015.7h0M515 973.7h0M515.6 938.5h0M516.3 1002.3h0M516.5 920.1h0M517.1 1020.8h0M517.8 929.8h0M512.9 1139.6h0M513.8 1181.5h0M514 1156.7h0M515 1103.5h0M515.2 1172.8h0M515.8 1165h0M516.6 1125.7h0M517.5 1133.8h0M518 1185.5h0M518.1 166.1h0M514.1 177.5h0M516.8 183.1h0M516 261.5h0M515.2 1306h0M513.2 1313h0M512.7 1320.6h0M514.2 1371.1h0M513.2 1382.1h0"/>
<path stroke="#3ba0fd" d="M518.4 396.6h0M518.7 353h0M519.2 352.3h0M519.5 437.7h0M519.7 391h0M520.3 370h0M520.5 424.6h0M520.9 386.6h0M521.4 370.7h0M521.6 416.8h0M522.2 365.8h0M522.6 419.2h0M523 364.4h0M523.1 408.1h0M523.7 421.4h0M518.8 1006.9h0M519.6 1014.2h0M520.2 1014.8h0M520.6 945.5h0M521.5 968.5h0M522.1 910.9h0M523.1 924.2h0M523.7 992.8h0M518.7 1155h0M519.4 1137.9h0M519.8 1110h0M520.4 1164.6h0M521.1 1148.9h0M521.3 1110.9h0M522 1193.6h0M523 1198.5h0M523.4 1188.1h0M518.7 186.7h0M521.9 204.2h0M520.3 210.5h0M519.2 1314h0M521.2 1332.1h0M520.2 1336.1h0M521.2 1344.6h0M519.7 1352.6h0M518.2 1365.6h0M519.2 1399.1h0"/>
<path stroke="#3aa3fc" d="M523.9 389.1h0M524.5 399.6h0M524.5 447.8h0M525 388.2h0M525.4 405.1h0M525.9 445.9h0M526.1 351h0M526.7 376.9h0M526.8 358.3h0M527.4 417.1h0M527.9 364.2h0M528.2 403.8h0M528.6 421.3h0M529 435.8h0M529.2 404.2h0M524.2 936.9h0M525 945.9h0M525.6 1009h0M526.1 1021.4h0M526.9 1012h0M527.2 928.2h0M528.3 1009.5h0M528.9 995.5h0M524.1 1113.8h0M524.9 1145.6h0M525 1143h0M525.7 1110.2h0M526.4 1104.7h0M527.3 1158.6h0M528 1144h0M528.2 1116.8h0M529.3 1188h0M524.4 244.6h0M526.7 1291h0M524.2 1389.6h0M525.2 1401.1h0"/>
<path stroke="#38a5fb" d="M529.6 407.7h0M530 370.8h0M530.3 381.4h0M530.7 367.4h0M531.3 388.3h0M531.3 398.2h0M531.8 375.1h0M532.2 391.5h0M532.7 343.3h0M533.2 354.9h0M533.5 405.2h0M534 384.7h0M534.1 396.1h0M534.8 413.4h0M529.6 959.3h0M530.3 993.3h0M530.9 1022.8h0M531.8 996.4h0M532.2 926.6h0M533.1 958.2h0M533.5 999.9h0M534.5 927.9h0M534.9 953h0M529.6 1129.5h0M530 1155h0M530.8 1149h0M531.3 1110.4h0M532.1 1198.8h0M532.5 1158.3h0M533.3 1158.9h0M534 1166.4h0M534.4 1137.5h0M534 1359.1h0M534.4 1378.5h0M534.9 1331.3h0M530.7 1289.5h0M530.2 1307.5h0M532.2 1313h0M530.2 1335.1h0M533.2 1351.1h0"/>
<path stroke="#37a8fa" d="M535.1 399.3h0M535.5 390.3h0M535.7 343.1h0M536 432.8h0M536.6 402.7h0M536.7 358.3h0M537.5 368.7h0M537.5 447.1h0M538 421.9h0M538.4 426.6h0M538.7 394.7h0M539.1 377.2h0M539.6 409.6h0M539.9 354.9h0M540.4 443.6h0M535.8 968.3h0M536.5 998.1h0M537 958.5h0M537.8 991.9h0M538.7 911.2h0M539.2 971.7h0M540.3 980h0M535.1 1188.9h0M535.9 1137.9h0M536.7 1153.3h0M537.3 1177.6h0M538.1 1148.9h0M538.3 1102.8h0M539.2 1113h0M539.8 1116.9h0M540.2 1196.6h0M535.2 1361.3h0M535.8 1333.9h0M536.1 1340.1h0M536.5 1350.5h0M536.8 1302.6h0M537.4 1367.6h0M537.7 1353.2h0M538.3 1334h0M538.5 1371.9h0M538.9 1295.8h0M539.5 1306.1h0M539.8 1365.1h0M540.4 1322.8h0M540.7 1307.9h0M538.3 211.3h0M535.8 219.5h0"/>
<path stroke="#35abf8" d="M540.8 428.6h0M541.2 389.1h0M541.6 405.6h0M541.9 375.4h0M542.3 453.5h0M542.8 388.4h0M543 407.6h0M543.6 396.8h0M543.9 378.4h0M544.3 407.8h0M544.5 348.9h0M544.9 427.7h0M545.5 351.6h0M545.6 390.3h0M546.1 450.9h0M540.8 942h0M541.7 977.1h0M541.8 934.7h0M542.8 963.8h0M543.8 925.2h0M544.4 981.6h0M544.6 928.8h0M545.8 933.9h0M546.2 1021.7h0M540.9 1144h0M541.5 1131.1h0M541.9 1147.9h0M542.7 1197.8h0M543.6 1103.3h0M544.1 1128.7h0M544.7 1136.1h0M545.2 1126.4h0M546 1146h0M541.2 1292.5h0M541.6 1369.2h0M541.9 1332.9h0M542.4 1293.1h0M542.9 1375h0M543.1 1304.2h0M543.7 1358.3h0M544 1316.7h0M544.4 1318.2h0M544.7 1366.5h0M545.5 1363.9h0M545.6 1387h0M546.2 1351.1h0M546.3 1324.4h0"/>
<path stroke="#33adf7" d="M546.5 406.6h0M546.8 440h0M547.4 358.9h0M547.9 345.8h0M548.3 433.7h0M548.4 448.7h0M548.9 414.5h0M549.3 423.6h0M549.9 423.6h0M550.2 422.2h0M550.6 400.2h0M550.7 379.9h0M551.3 388.1h0M551.6 431.4h0M552 423.5h0M546.8 913.1h0M548 916.4h0M548.7 1006h0M549 987.9h0M549.6 964.4h0M550.6 1001.6h0M551.6 916.8h0M546.4 1185.7h0M547.2 1148h0M548.1 1118h0M548.7 1132.7h0M549.5 1134.3h0M549.9 1102.5h0M550.5 1134.1h0M551.3 1109.2h0M551.6 1108.7h0M547 1391.1h0M547.5 1305h0M547.6 1303.4h0M548.2 1310.8h0M548.6 1349h0M549.2 1327.4h0M549.5 1336.3h0M549.7 1357.5h0M550.1 1324.9h0M550.4 1304.2h0M551.2 1369.9h0M551.4 1402.4h0M551.7 1348.6h0M550.1 162.5h0M549.9 833.5h0"/>
<path stroke="#31aff5" d="M552.5 341.1h0M552.9 381.5h0M553.2 385.6h0M553.8 381.6h0M554 356.2h0M554.4 371.7h0M554.8 406.9h0M555.4 365.6h0M555.8 357.7h0M555.9 353.5h0M556.3 438.4h0M556.7 409.9h0M557.1 389.5h0M552.1 944.9h0M552.8 965.7h0M553.8 968.6h0M554.2 973.5h0M555.2 968.5h0M555.7 978.3h0M556.7 994h0M557.1 932.6h0M552.2 1161.3h0M553.1 1207.3h0M553.8 1106.7h0M554.5 1109.2h0M554.9 1170.6h0M555.7 1211.9h0M556.3 1156.5h0M557.3 1155.5h0M557.6 1207.9h0M552.3 1372.8h0M552.8 1305.1h0M553 1307.6h0M553.4 1402h0M553.9 1317.2h0M554.2 1341h0M554.8 1346.1h0M555.2 1386.5h0M555.5 1400.2h0M556 1345.8h0M556.3 1383.1h0M556.7 1359h0M557.3 1389.4h0M557.5 1390.7h0M556.9 216.4h0M554 239.4h0M556.1 736.1h0M552.6 786.8h0"/>
<path stroke="#2fb2f4" d="M557.8 384.8h0M558.1 422.2h0M558.5 363.8h0M558.9 392.9h0M559.2 392.6h0M559.6 371.5h0M560 367.3h0M560.4 424.3h0M560.7 432.5h0M561.2 434.7h0M561.6 356.6h0M562.1 390.5h0M562.6 348.1h0M563 351.3h0M563.2 365.6h0M557.8 967.7h0M558.8 938.6h0M559.6 1005.3h0M560.3 996.5h0M560.8 1003.6h0M562 950.6h0M562.7 916.9h0M562.9 1011.2h0M558.5 1204.3h0M559.2 1148.7h0M559.6 1147.1h0M560.1 1105.6h0M560.8 1104.4h0M562 1123.4h0M562.1 1196.7h0M563.3 1190.1h0M557.9 1316.8h0M558.4 1366h0M558.8 1321.4h0M559.1 1391.7h0M559.7 1319.2h0M560.1 1326.1h0M560.1 1373.6h0M560.7 1384.9h0M561.1 1394.1h0M561.4 1381.1h0M562 1316.9h0M562.4 1292h0M562.7 1296.9h0M563.2 1366.3h0M558.5 152.5h0M560.4 205.8h0M562.7 230.6h0M558.3 240.9h0"/>
<path stroke="#2eb4f2" d="M563.5 407.9h0M564.2 342.9h0M564.3 446h0M565 350.2h0M565.1 447.5h0M565.6 410.4h0M566 349.7h0M566.4 426.1h0M566.9 382.4h0M567.3 430.9h0M567.8 413.1h0M568.1 402.2h0M568.7 405.8h0M569 446.5h0M563.6 949.4h0M564.5 974.7h0M565.5 985.5h0M566.1 981.5h0M567.2 975.8h0M567.6 986.4h0M568.5 942h0M568.9 1018.1h0M563.7 1109.9h0M564.5 1206.8h0M565.3 1187.9h0M565.9 1133.4h0M566.2 1101.4h0M567 1149.2h0M567.9 1129.5h0M568.1 1130.5h0M563.5 1372h0M563.7 1397.8h0M564.5 1342.3h0M564.7 1369.9h0M564.9 1298.9h0M565.5 1379.6h0M565.7 1403.5h0M566.2 1304.6h0M566.8 1328.4h0M567 1360.5h0M567.4 1328.9h0M568 1361.2h0M568.3 1301.6h0M568.5 1338.6h0M568.9 1368.1h0M566.7 223.5h0M566.1 830.3h0"/>
<path stroke="#2cb7f0" d="M569.3 413.5h0M569.9 402.1h0M570.3 451.3h0M570.4 452.8h0M571.1 363.4h0M571.5 405.6h0M571.8 453.5h0M572.2 424.2h0M572.6 357.7h0M573.1 408.6h0M573.4 426.4h0M573.8 432.6h0M574.4 345.1h0M569.9 964h0M570.6 939.7h0M571.6 941.2h0M572.1 975.1h0M572.9 1003.4h0M573.6 967.6h0M574.6 970h0M569.1 1190.6h0M569.5 1171.1h0M570.1 1119.7h0M571.3 1184.6h0M571.4 1182.5h0M572.7 1155.6h0M572.9 1148.9h0M573.6 1170.1h0M574.7 1211.2h0M569.3 1302.1h0M569.7 1299.4h0M570 1391.2h0M570.7 1326.3h0M571 1331.1h0M571.1 1314h0M571.6 1333h0M572.3 1299.9h0M572.5 1317.3h0M572.9 1306.1h0M573.1 1301.5h0M573.5 1332.8h0M574.2 1356.6h0M574.4 1390.6h0M572.3 157.7h0M569.1 211.3h0M572.6 253.9h0M571.5 260.7h0"/>
<path stroke="#2ab9ee" d="M574.8 344.1h0M575.2 366.5h0M575.4 383.1h0M575.9 380.4h0M576.1 425.5h0M576.9 386h0M577.1 405.1h0M577.5 428.8h0M578 411.9h0M578.3 439.8h0M578.8 397.3h0M579.2 399.5h0M579.7 444.7h0M580 367.4h0M580.2 369.1h0M575.4 1008.1h0M575.8 928.2h0M576.9 995.9h0M577.5 1005.6h0M578.4 918.4h0M578.9 996.8h0M579.6 975.2h0M574.9 1127.5h0M575.7 1117.7h0M576.4 1192.9h0M576.9 1209.8h0M577.8 1159.1h0M578.4 1154.2h0M579.3 1119.6h0M579.7 1114.3h0M574.8 1308.1h0M575.3 1301.1h0M575.5 1294.4h0M575.8 1395.2h0M576.3 1305.5h0M576.6 1342.9h0M577 1307.1h0M577.4 1345.2h0M577.8 1311.1h0M578.4 1360.2h0M578.6 1347.8h0M579 1322.9h0M579.6 1327.8h0M580 1394.1h0M580.2 1397.5h0M580.2 174.7h0M580.2 195.5h0M577.5 228.3h0"/>
<path stroke="#28bceb" d="M581 368.6h0M581.4 380.8h0M581.6 378.9h0M582.1 451.6h0M582.6 343.8h0M583 383.2h0M583.4 372.3h0M583.6 416.9h0M584.1 411.5h0M584.6 345.3h0M585.1 450.5h0M585.5 365.2h0M585.7 384.6h0M580.3 954.2h0M581.1 1011h0M582.6 911.3h0M583.2 1018.7h0M584.1 1018.5h0M584.7 951.9h0M585.5 995h0M585.9 915.2h0M580.7 1183.1h0M581.3 1111.7h0M581.6 1117.1h0M582.4 1153.6h0M583.2 1199.7h0M583.8 1121.6h0M584.8 1113.3h0M585.4 1148.3h0M580.7 1335.5h0M580.8 1313.7h0M581.3 1350h0M581.6 1294.4h0M581.9 1374.7h0M582.4 1339.2h0M582.7 1362.9h0M583.1 1389.5h0M583.6 1297.5h0M583.9 1380h0M584.2 1364.8h0M584.8 1364.2h0M585 1393h0M585.4 1334.3h0M585.8 1352.3h0M585.4 151.9h0M585.2 219.9h0"/>
<path stroke="#27bee9" d="M586.2 408.5h0M586.8 381.6h0M587.2 385.6h0M587.6 445.6h0M587.9 404.7h0M588.2 431.5h0M588.6 390.2h0M589.1 425.6h0M589.7 390.6h0M589.9 420.7h0M590.5 426.8h0M591.1 426.8h0M591.5 384.7h0M586.7 933.4h0M587.5 1001.7h0M588.5 919.7h0M589.3 922h0M589.8 983.7h0M590.7 972.4h0M586.1 1132.5h0M586.7 1136h0M587.8 1105.5h0M588.4 1156.1h0M588.8 1106.7h0M589.8 1152.7h0M590.5 1125.4h0M591.3 1107.2h0M586.3 1309.2h0M586.5 1329h0M587.1 1387.1h0M587.5 1300.8h0M587.9 1343.8h0M588.1 1341.5h0M588.7 1358h0M588.8 1321.2h0M589.2 1392.3h0M589.5 1347.5h0M590 1368.3h0M590.4 1323.2h0M590.7 1343.4h0M591 1331.6h0M591.5 1397.4h0M587 172.8h0"/>
<path stroke="#25c0e7" d="M591.9 405.6h0M592.2 381.1h0M592.7 441.8h0M593 453.3h0M593.4 373.5h0M594 358.7h0M594.3 362.4h0M594.7 400.9h0M595.2 389.6h0M595.8 361.6h0M595.8 397.4h0M596.4 344.8h0M596.9 391.8h0M591.9 938.5h0M592.5 936.6h0M593.2 920.6h0M594.4 974.4h0M595 1012.5h0M596 1019.2h0M596.1 974.5h0M591.8 1170.9h0M592.7 1131.9h0M593.4 1159.2h0M593.5 1189.7h0M594.9 1142.7h0M595.1 1115.6h0M596.1 1115.2h0M597 1144.5h0M591.8 1362h0M592.1 1347.7h0M592.5 1394.3h0M593.1 1385.3h0M593.4 1308.1h0M593.9 1377.3h0M594 1323h0M594.4 1359.2h0M594.8 1297.2h0M595.4 1314.7h0M595.6 1341.4h0M596.1 1399.2h0M596.3 1360.1h0M596.8 1311.3h0M597 1348.3h0M594.1 174.7h0M592.1 240.9h0"/>
<path stroke="#23c3e4" d="M597.5 431.4h0M597.7 445.2h0M598 415.8h0M598.5 442.6h0M599 349.5h0M599.4 344.4h0M599.7 383.1h0M600.2 414.5h0M601 383.5h0M601.2 439.1h0M601.6 376.1h0M601.9 404.7h0M602.4 429h0M603 359.7h0M597.5 919.3h0M598.1 1012.3h0M598.9 963h0M599.4 955.9h0M600.6 974.5h0M601.7 990.4h0M602.4 955.8h0M597.7 1102.3h0M597.9 1143.6h0M598.6 1131.5h0M599.3 1202.4h0M600 1122.8h0M601.3 1211.2h0M601.7 1157.6h0M602.6 1138.5h0M597.5 1298.3h0M597.9 1339.2h0M598.2 1353.5h0M598.4 1295.2h0M599 1290.9h0M599.3 1307h0M599.7 1320.6h0M600.1 1295.7h0M600.2 1390.3h0M600.6 1343.2h0M601.1 1352.1h0M601.4 1333.1h0M602 1370.8h0M602 1342.3h0M602.4 1301h0M602.4 156.9h0"/>
<path stroke="#22c5e2" d="M603.2 392.4h0M603.8 425.6h0M604.4 450.1h0M604.6 429.3h0M605 434.5h0M605.5 403.1h0M606.2 448.4h0M606.5 426.9h0M607 347.8h0M607.5 405.7h0M607.8 387.5h0M608.2 372.7h0M608.6 380.1h0M603.1 1002.5h0M603.7 921.1h0M604.7 974.5h0M605.8 946.9h0M606.3 941h0M607.1 1012.6h0M607.9 998.3h0M603.2 1198.3h0M603.7 1195h0M604.9 1194.9h0M605.3 1179.9h0M605.9 1101.2h0M607 1143.3h0M608.1 1211.1h0M603 1394.6h0M603.2 1324.9h0M603.5 1338.4h0M604.1 1393.1h0M604.4 1325.1h0M604.8 1386.1h0M604.9 1356.4h0M605.6 1348.4h0M605.9 1363.7h0M606.3 1399h0M606.6 1399.2h0M606.8 1386.2h0M607.4 1381.8h0M607.7 1296h0M607.9 1351.4h0M608.2 1392.1h0M606.6 185.2h0M606.6 242.8h0"/>
<path stroke="#20c7df" d="M609 410.6h0M609.5 427.6h0M609.9 343.7h0M610.4 369.8h0M611 368.1h0M611.4 376.9h0M611.9 428.2h0M612 342.7h0M612.5 358.5h0M613.2 412.2h0M613.4 363.6h0M613.9 451.2h0M614.2 365.4h0M608.9 992.5h0M609.4 1013.1h0M610.8 922h0M611.7 952.9h0M612.3 971.5h0M612.8 961.2h0M608.7 1169h0M609.1 1188.5h0M610.2 1125.8h0M610.5 1135.2h0M611.8 1173h0M612.3 1131.8h0M613.2 1209.7h0M614.1 1191.3h0M608.7 1358.6h0M609 1339.9h0M609.4 1393.9h0M609.6 1313.5h0M610.2 1326.7h0M610.5 1315.8h0M610.8 1313.3h0M611 1348.1h0M611.6 1345.2h0M612 1325.4h0M612.1 1304.7h0M612.7 1394.7h0M613.1 1350.9h0M613.2 1341.5h0M613.7 1398h0M614 1316.1h0M613.5 170.4h0"/>
<path stroke="#1fc9dd" d="M615 442.4h0M615.4 363.7h0M615.8 362.9h0M616 392.6h0M616.4 373.1h0M617 438.3h0M617.7 417.4h0M617.7 359.1h0M618.2 403.8h0M618.9 409.8h0M619.4 415.6h0M619.7 363.6h0M614.4 951.9h0M614.8 924.1h0M615.4 1017.6h0M616.7 925.6h0M617 1000h0M618.5 1017.5h0M619 964.5h0M619.7 937.4h0M615 1164.9h0M615.6 1193.5h0M615.9 1152.2h0M617.1 1123.5h0M617.7 1212.9h0M618.6 1174.7h0M619.2 1119.9h0M614.5 1320.1h0M614.8 1402.6h0M615.1 1383.7h0M615.6 1346.9h0M615.7 1346.8h0M616.1 1336.7h0M616.5 1388.1h0M616.9 1355.6h0M617.3 1311.9h0M617.5 1314.2h0M618 1343.3h0M618.3 1308.5h0M618.6 1369.6h0M618.9 1326h0M619.5 1291h0M619.5 1311h0M619 261.1h0"/>
<path stroke="#1ecbda" d="M620.2 400.4h0M620.5 360.1h0M620.9 425h0M621.4 395.4h0M621.9 359.4h0M622.6 350.4h0M622.9 422h0M623.4 446.6h0M624 356.2h0M624.2 413.2h0M624.7 446.6h0M625.3 421.4h0M620.5 964.9h0M621.7 965.6h0M622.5 948.3h0M623.4 940.1h0M624.7 913.9h0M620.4 1131.7h0M620.6 1149.2h0M622 1115.9h0M622.1 1212.9h0M622.9 1172.8h0M624.1 1174h0M625 1178.2h0M625.6 1121.8h0M620 1379.8h0M620.3 1377.2h0M620.7 1339.9h0M621.2 1292h0M621.5 1301h0M621.6 1321.9h0M622 1361.4h0M622.5 1388.9h0M622.9 1375.2h0M623 1368.4h0M623.3 1381h0M623.7 1352.9h0M624.4 1353.9h0M624.6 1323.4h0M625 1320.9h0M625.2 1370.4h0"/>
<path stroke="#1ccdd8" d="M625.7 359.8h0M626 435.2h0M626.4 408.4h0M626.9 390.2h0M627.4 443.3h0M627.7 371.9h0M628.3 446.9h0M628.7 402.7h0M629.4 448.1h0M629.6 405.7h0M630.2 419.3h0M630.8 353.6h0M631 401.9h0M625.6 918.2h0M626.4 929.4h0M626.9 945.5h0M628 917.8h0M628.8 1000.3h0M629.6 926.5h0M630.2 936.5h0M631.3 915.4h0M626.2 1174.1h0M627.4 1130.2h0M628.1 1124h0M628.9 1201.9h0M629.7 1200.2h0M630.3 1182.4h0M631.1 1152.3h0M625.6 1370.9h0M626 1299.3h0M626.2 1358.6h0M626.7 1396.7h0M626.8 1329.4h0M627.3 1389.9h0M627.7 1364.8h0M628.2 1374.5h0M628.4 1388h0M628.6 1291.9h0M629.1 1353.5h0M629.3 1314.7h0M629.7 1302.7h0M630.2 1310.7h0M630.5 1387.4h0M630.7 1356.1h0M631.1 1390.7h0M630.6 186.3h0M630.9 189.9h0M626.1 214.5h0"/>
<path stroke="#1bd0d5" d="M631.4 392.1h0M632.1 411.8h0M632.5 362.7h0M633 442.7h0M633.2 411.4h0M634.1 387.7h0M634.2 377.4h0M634.9 369.4h0M635.5 452.7h0M635.7 443.2h0M636.5 438.3h0M636.6 386h0M632.8 986.9h0M633.2 962.7h0M633.8 930.6h0M635.1 989h0M636.1 1005.2h0M636.7 943.3h0M632.3 1170.1h0M632.9 1197.1h0M633.8 1143.3h0M634.6 1117.9h0M635.3 1211.7h0M636.4 1129.2h0M631.5 1307.3h0M631.7 1390.7h0M632.3 1353.8h0M632.6 1391.1h0M632.9 1366h0M633.2 1308.3h0M633.5 1305.5h0M634 1384.7h0M634.3 1360.9h0M634.7 1376.4h0M634.9 1312.3h0M635 1358.6h0M635.5 1316.3h0M635.8 1396.4h0M636.4 1311.7h0M636.5 1313.4h0M636.6 153h0"/>
<path stroke="#1ad2d2" d="M637.1 437.6h0M637.6 394.1h0M638 434.9h0M638.5 436.8h0M638.9 445.4h0M639.6 367.8h0M639.9 350.2h0M640.4 421.2h0M640.9 366.5h0M641.5 444.9h0M641.7 423.5h0M642.5 367.8h0M638.2 920.8h0M638.3 919.5h0M639.6 969.7h0M641 1016.1h0M641.6 952.9h0M642.4 1023.6h0M637.1 1183.5h0M638.1 1112.8h0M639.1 1155.7h0M639.8 1187.5h0M640.8 1210h0M641.4 1186.6h0M642.5 1209.6h0M637 1297.4h0M637.1 1342.6h0M637.5 1344.1h0M637.9 1346.9h0M638.2 1403.5h0M638.7 1316.8h0M638.9 1318.4h0M639.1 1317.7h0M639.7 1307.8h0M640 1340.7h0M640.2 1370.1h0M640.8 1342.1h0M640.9 1396.6h0M641.1 1322.2h0M641.5 1366.9h0M641.9 1348h0M642.2 1367.1h0M642.5 1343.2h0M638 224h0"/>
<path stroke="#1ad4d0" d="M642.6 430.2h0M643.3 397.2h0M643.9 404.2h0M644.1 408h0M644.6 450.3h0M645.3 408.3h0M645.7 428.1h0M646 398.2h0M646.5 395.9h0M647.3 359.6h0M647.7 418h0M648.1 402.9h0M643.8 971.9h0M644.1 944.6h0M645.4 923.1h0M645.8 981.4h0M646.9 990.7h0M648 1006h0M643.1 1113.7h0M644.1 1191.3h0M644.8 1132.1h0M645.3 1113.7h0M647 1148.1h0M647.7 1148.3h0M648 1198.7h0M642.8 1344.2h0M643.3 1317.9h0M643.6 1323.1h0M644 1358.1h0M644.2 1381.2h0M644.5 1335h0M645.1 1380.8h0M645.1 1313.2h0M645.5 1324.3h0M645.9 1348.5h0M646.4 1304.1h0M646.6 1383.5h0M646.8 1388.7h0M647.2 1323.6h0M647.7 1317.3h0M648 1363h0M648.2 1396.7h0M643.2 210.8h0"/>
<path stroke="#19d5cd" d="M648.7 434.8h0M648.9 418.7h0M649.2 404.5h0M649.9 447.4h0M650.3 423.5h0M651.1 443.4h0M651.2 411.4h0M651.8 363.8h0M652.6 374.4h0M652.7 416.3h0M653.4 445.5h0M648.5 1002.9h0M649.7 941.5h0M650.6 956.8h0M651.8 975h0M652.8 980.8h0M653.7 916.5h0M648.9 1210.7h0M650.5 1134.2h0M650.9 1138.9h0M652.1 1158.6h0M652.7 1150.9h0M648.7 1381.7h0M648.9 1327.3h0M649.4 1329.6h0M649.6 1361.4h0M649.9 1339.4h0M650.2 1353.3h0M650.6 1376.8h0M651 1399.5h0M651.2 1355.4h0M651.7 1337h0M652 1320.2h0M652.3 1313.7h0M652.7 1337.9h0M652.8 1359.8h0M653.4 1309.2h0M653.7 1303.5h0"/>
<path stroke="#18d7ca" d="M653.9 421h0M654.5 406.9h0M655 411.7h0M655.5 375.1h0M655.8 355.8h0M656.5 348.2h0M656.5 423.9h0M657 401.3h0M657.8 421.9h0M658.3 438.7h0M658.7 354.9h0M659.3 376.2h0M654.6 932.9h0M655.8 939.5h0M656.9 939.6h0M658 1017.4h0M658.5 970.1h0M659.2 974.6h0M653.9 1156.6h0M654.4 1170.5h0M655.6 1148.1h0M656.7 1210.4h0M656.9 1154.7h0M657.9 1181.4h0M659.1 1130.1h0M653.9 1308.4h0M654.1 1341.9h0M654.5 1304.7h0M654.8 1382.4h0M655.2 1324.9h0M655.5 1402.2h0M655.7 1348.3h0M656.3 1362.9h0M656.6 1369.1h0M656.8 1306.8h0M657.3 1308.1h0M657.5 1311.6h0M657.7 1362.5h0M658 1360.2h0M658.6 1397.7h0M658.9 1337.4h0M659.2 1380.3h0M659.5 1347.4h0M654.6 264.4h0"/>
<path stroke="#18d9c8" d="M659.9 359.4h0M660.4 435.6h0M660.8 405.3h0M661.3 369.1h0M661.7 392.4h0M662.1 420.8h0M662.6 347.4h0M663 397.8h0M663.7 432h0M664.1 441h0M664.4 407.6h0M660.2 988.5h0M661.3 964.3h0M662 942.6h0M663.2 934.9h0M664.6 942.7h0M660.4 1117.3h0M660.6 1153.9h0M662.3 1175.3h0M662.7 1166.2h0M663.5 1112.6h0M664.3 1201h0M659.7 1372.1h0M660 1330.3h0M660.4 1390.9h0M660.7 1302.1h0M661.1 1373.2h0M661.4 1368.8h0M661.6 1323.8h0M661.9 1335.3h0M662.5 1353h0M662.8 1371.4h0M663.1 1339.4h0M663.2 1391.1h0M663.6 1389h0M664.1 1375h0M664.3 1335.4h0M664.7 1331h0M664.8 1324h0M661.1 257.6h0"/>
<path stroke="#18dbc5" d="M665.3 400h0M665.7 366.3h0M666.2 343h0M666.8 374h0M667 352.6h0M667.6 437.9h0M668.4 343.7h0M668.5 434h0M669.1 383.5h0M669.9 392.6h0M670 361.9h0M670.5 408.4h0M666 926h0M666.1 928.2h0M667.6 999h0M668.3 919.3h0M669.7 1010.8h0M670.1 913.8h0M666.1 1191.5h0M666.8 1206.7h0M667.9 1160.9h0M668.3 1178h0M669.5 1175.1h0M670.1 1117h0M665.3 1387.9h0M665.6 1341.7h0M665.9 1356.9h0M666.4 1360.9h0M666.6 1365.6h0M666.9 1325.9h0M667.3 1343.3h0M667.6 1333.6h0M667.9 1376h0M668.3 1347.7h0M668.7 1389.4h0M668.8 1393.7h0M669.1 1328.2h0M669.4 1370.8h0M669.9 1364.4h0M670.1 1381h0M670.7 1340.3h0M668.5 182.8h0"/>
<path stroke="#18ddc2" d="M671 355.5h0M671.5 388.1h0M672 423.3h0M672.4 345.5h0M672.9 397.5h0M673.8 341.5h0M674.3 368.3h0M674.8 391.4h0M675.2 350.2h0M675.7 432.1h0M676.4 410.7h0M671.4 990.6h0M672.8 975.6h0M673.7 934.2h0M674.8 977.1h0M675.4 917.2h0M676.2 1017.6h0M671.1 1110.1h0M672.5 1124.3h0M673.6 1194.7h0M674.3 1101.4h0M675 1197.3h0M671 1378.5h0M671.3 1334.2h0M671.4 1376.9h0M671.8 1402.1h0M672 1296.7h0M672.6 1388.4h0M672.9 1387.3h0M673.1 1302.2h0M673.3 1373.9h0M673.8 1381.4h0M674.2 1305.8h0M674.5 1347.3h0M674.8 1344.3h0M675 1373.3h0M675.5 1360.3h0M675.8 1347.1h0M676.1 1379.7h0M676.3 1295.4h0M674.5 186.7h0M674.9 255.2h0"/>
<path stroke="#18dec0" d="M676.8 436.5h0M677.4 420.3h0M678 372.9h0M678.3 452.3h0M679 368.2h0M679.4 358.4h0M680 366.5h0M680.4 374.9h0M681.1 438.2h0M681.5 429.4h0M681.8 389.1h0M677.8 911h0M679 991.2h0M680 969.2h0M680.6 964.1h0M676.8 1164.6h0M677.9 1120.1h0M677.9 1200.8h0M679.3 1148.6h0M680.6 1119.4h0M682 1130.7h0M676.8 1336.6h0M677 1359.5h0M677.4 1399.7h0M677.5 1334h0M678 1353.7h0M678.3 1318.5h0M678.7 1328.4h0M679 1391.2h0M679.3 1316.2h0M679.5 1345.5h0M679.9 1291.5h0M680.1 1347.6h0M680.6 1347.7h0M680.8 1293.7h0M681.1 1323.4h0M681.5 1296.2h0M681.8 1352.2h0M682 1303.5h0M677.9 264.4h0"/>
<path stroke="#18e0bd" d="M682.5 407.1h0M682.8 391.2h0M683.7 406.6h0M684.3 397.5h0M684.7 409.4h0M685 409.7h0M685.5 373.5h0M686.3 381.2h0M686.4 366.4h0M687.2 384.1h0M687.5 420.3h0M682.3 972.3h0M682.5 955.2h0M683.7 955.8h0M685 1019.3h0M685.8 996.3h0M686.9 939.3h0M682.5 1145.5h0M683.6 1153.9h0M684.2 1110.7h0M685.7 1101.6h0M686.3 1123.6h0M682.6 1331.7h0M682.7 1366.4h0M683.2 1292.5h0M683.5 1402.4h0M683.7 1343.5h0M684.2 1295.1h0M684.5 1362.2h0M684.5 1389h0M685 1331.7h0M685.4 1303.5h0M685.8 1369.1h0M686.1 1388.3h0M686.4 1297.2h0M686.6 1362.2h0M687 1361.5h0M687.1 1375.2h0M687.5 1311.3h0M687.8 1329.3h0M683.7 203.1h0"/>
<path stroke="#19e2bb" d="M688 431.7h0M688.9 411h0M689 368.2h0M689.7 353.3h0M690.3 435.3h0M690.7 397.1h0M691.5 425.4h0M692.2 417.1h0M692.2 375.6h0M693.2 411.8h0M693.5 346.5h0M688.6 954h0M689.1 992h0M690.6 948.7h0M691.6 1019.6h0M693.2 1019.1h0M688.2 1196.4h0M689.3 1103.1h0M689.5 1153.2h0M690.5 1209h0M692.5 1114.3h0M692.8 1205.5h0M688.3 1364.9h0M688.6 1394.3h0M689 1396.5h0M689.1 1305.7h0M689.6 1387.8h0M689.7 1364.9h0M690.1 1397.4h0M690.5 1373.1h0M690.8 1366.8h0M691.2 1322.8h0M691.3 1352.8h0M691.8 1335h0M692 1322.2h0M692.3 1331.1h0M692.8 1307.6h0M692.9 1353.6h0M693.2 1334.1h0"/>
<path stroke="#19e3b9" d="M694.1 356.9h0M694.5 345.9h0M695.1 384.9h0M695.6 363.8h0M696.3 440.6h0M696.6 358.3h0M697.5 363.9h0M698 358.8h0M698.1 396.3h0M698.6 419.2h0M694.1 977.9h0M694.8 996.3h0M695.7 1021.3h0M696.7 1012.1h0M697.8 1005.3h0M693.9 1132.9h0M695.4 1176.4h0M696.7 1182.5h0M697.9 1213.2h0M698.9 1140.1h0M693.6 1301.8h0M694 1328.2h0M694.1 1349.4h0M694.7 1321.6h0M694.8 1383.5h0M695.1 1316.4h0M695.4 1332.3h0M696 1294.7h0M696.2 1316.5h0M696.5 1331.4h0M696.8 1358.8h0M697.3 1398.4h0M697.3 1381h0M697.8 1335.8h0M698.1 1303.5h0M698.5 1302.6h0M698.8 1318.3h0M699.1 1395.8h0M694.4 186.7h0"/>
<path stroke="#1ae4b6" d="M699.3 410.3h0M699.8 393.2h0M700.3 434.7h0M701.2 356.3h0M701.4 419.5h0M702 415.7h0M702.6 354.2h0M703.4 356.6h0M704 345.9h0M704.3 349.8h0M704.8 448.9h0M699.2 947.3h0M700.9 943.6h0M701.1 1012.7h0M702.3 954.8h0M703.8 1017.6h0M700.2 1115.4h0M700.6 1108.9h0M702 1210.9h0M703.6 1177.1h0M704.8 1202.7h0M699.5 1301.4h0M699.8 1370.4h0M699.9 1323.7h0M700.2 1318.3h0M700.5 1334.6h0M701.1 1350.2h0M701.1 1342.2h0M701.6 1308.2h0M701.8 1370.4h0M702.3 1300.1h0M702.6 1386.3h0M702.7 1297h0M703.2 1402.1h0M703.3 1383.7h0M703.6 1401.5h0M703.9 1320.8h0M704.5 1305.2h0M704.6 1330.2h0M704.2 189.7h0M704.5 227.6h0"/>
<path stroke="#1ce6b4" d="M705.3 391.8h0M706 366.6h0M706.4 352.6h0M707.2 376.7h0M707.4 366.5h0M708.4 385h0M708.9 361.8h0M709.2 366.9h0M709.6 346.1h0M705.1 969.6h0M706.6 990.6h0M708 1009h0M708.7 951.1h0M709.4 967.8h0M705.9 1105.6h0M706.3 1209.7h0M708.4 1199h0M708.6 1166.6h0M709.9 1183.1h0M705.2 1292.5h0M705.3 1317h0M705.6 1305.6h0M706.1 1311.8h0M706.3 1386.5h0M706.5 1342.6h0M706.8 1295h0M707.1 1389.5h0M707.6 1300.5h0M707.9 1291.7h0M708.3 1302.6h0M708.4 1392.2h0M708.9 1349.6h0M709.2 1376.4h0M709.3 1391.3h0M709.7 1366.9h0M710.2 1305.6h0M710.2 1393.9h0M710.3 723.3h0"/>
<path stroke="#1de7b2" d="M710.5 398.1h0M710.8 393h0M711.5 400.3h0M712 439.2h0M712.7 418.4h0M713.4 348.5h0M713.7 344.5h0M714.5 386h0M714.9 388h0M715.2 448h0M711 947.9h0M712.2 1022.8h0M713.2 952.7h0M714.5 1001.7h0M715.6 948.3h0M711.2 1162.6h0M713.1 1211.1h0M714.2 1196.2h0M715.9 1108.8h0M710.6 1354.8h0M711.1 1325.9h0M711.3 1390h0M711.6 1386.6h0M712.1 1353h0M712.2 1309.3h0M712.6 1373.3h0M712.9 1322.1h0M713.2 1324.5h0M713.6 1399.8h0M714 1398.1h0M714.2 1324.6h0M714.5 1336.9h0M714.7 1370.3h0M715 1298.9h0M715.2 1304.8h0M715.7 1384.7h0M716.1 1371.9h0M712.1 206.2h0M714.2 773.6h0"/>
<path stroke="#1fe9af" d="M716.1 388.5h0M716.8 438.8h0M717.1 441.3h0M717.7 434.8h0M718.5 398.7h0M719 397.6h0M719.3 432.1h0M720.2 450.5h0M720.8 377.4h0M721.3 394.1h0M721.6 411h0M716.5 989.9h0M718.2 1015.6h0M719.2 953.4h0M720.7 999.8h0M718.7 1127.5h0M719.8 1112.8h0M721.3 1141.8h0M716.3 1335.8h0M716.5 1378.7h0M717 1354.8h0M717.3 1291.6h0M717.5 1351.2h0M717.8 1380.2h0M718.2 1347.5h0M718.6 1344h0M718.7 1302.6h0M719.1 1395.4h0M719.5 1295.3h0M719.8 1305h0M720 1312.9h0M720.4 1339.1h0M720.7 1399.6h0M721.1 1300.6h0M721.2 1371.8h0M721.7 1372h0M721.8 1294h0M720.8 191h0"/>
<path stroke="#20eaac" d="M722.6 388.2h0M723 361.9h0M723.2 355.7h0M724.2 388.9h0M724.6 399.8h0M724.9 441.6h0M725.6 366.7h0M726.2 411.2h0M727 359.3h0M727.3 415.9h0M722.2 1008.2h0M723.5 942.4h0M724.2 964h0M725.7 913.6h0M726.5 984.2h0M724.4 1117.8h0M726 1145.6h0M726.5 1163.2h0M722.2 1294.3h0M722.5 1396.2h0M722.9 1372.7h0M723.3 1309.2h0M723.6 1330.1h0M723.8 1352.3h0M724.2 1313.3h0M724.5 1386.8h0M724.7 1395h0M724.9 1384.1h0M725.3 1326.5h0M725.6 1307.2h0M726.1 1307.6h0M726.1 1296.6h0M726.5 1315.4h0M726.9 1320.1h0M727.4 1309.4h0M727.4 1337.3h0M722.6 217.5h0"/>
<path stroke="#22ebaa" d="M728 436.4h0M728.5 426.6h0M729.3 401.3h0M729.7 433.8h0M730.3 432h0M731.3 405.6h0M731.8 424.9h0M732.1 389.3h0M733.1 441.3h0M727.9 926.6h0M729.3 1006.8h0M731.2 986.6h0M732.5 1007.3h0M729.2 1123.3h0M731.2 1189.3h0M727.8 1300.2h0M728.3 1384.2h0M728.4 1381.3h0M728.8 1392.6h0M729.1 1367.2h0M729.5 1381.1h0M729.7 1359h0M730.2 1303.8h0M730.4 1393.5h0M730.5 1399.5h0M731 1356.8h0M731.4 1399.4h0M731.5 1349.6h0M731.9 1387.9h0M732.1 1367.1h0M732.4 1394.9h0M732.7 1351.6h0M731.1 171.8h0"/>
<path stroke="#25eca7" d="M733.3 413h0M733.8 407.9h0M734.7 418.9h0M735.3 375.6h0M735.8 412.3h0M736.7 376.2h0M736.9 439.9h0M737.7 353.9h0M738 390.3h0M733.7 928.2h0M734.1 912.8h0M735.8 957.6h0M737.2 950.1h0M738.7 970.9h0M733.3 1212.1h0M735.4 1125.6h0M736 1151.3h0M737.9 1190.5h0M733.2 1354.2h0M733.4 1327.1h0M733.6 1329.1h0M734 1300.3h0M734.3 1295.2h0M734.8 1317.4h0M735.1 1306.8h0M735.4 1377.4h0M735.7 1361.6h0M735.7 1373.7h0M736.1 1361.7h0M736.6 1368.7h0M736.8 1341.3h0M737.1 1332.9h0M737.6 1341.1h0M737.8 1398.5h0M738.1 1396.9h0M738.5 1376h0M738.7 1382.5h0M737.1 258.7h0"/>
<path stroke="#27eea4" d="M738.9 404.2h0M739.5 419.4h0M739.9 368.7h0M740.3 341.5h0M741.1 436.5h0M741.6 341h0M742.5 370.8h0M742.9 417.3h0M743.4 348.6h0M744.2 349.5h0M740.2 911.9h0M740.7 915.3h0M742.1 985.5h0M743.5 1018.1h0M740.8 1140.7h0M741.4 1194.8h0M744.3 1151.7h0M739 1399.1h0M739.3 1321.6h0M739.4 1359.9h0M740 1338.5h0M740.2 1388.5h0M740.4 1373.5h0M740.7 1397.2h0M741 1342.9h0M741.3 1396.9h0M741.6 1315.8h0M742.1 1393.9h0M742.3 1373.5h0M742.7 1402.2h0M743.1 1299.1h0M743.3 1299.3h0M743.7 1301.5h0M743.8 1370.4h0M744.3 1374.3h0"/>
<path stroke="#2aefa1" d="M744.9 411h0M745.2 400.6h0M746.4 349.5h0M746.5 351.2h0M747.2 368h0M747.8 345.8h0M748.8 385.5h0M749.4 413.5h0M749.6 442.9h0M745.2 972.2h0M746.4 916.2h0M747.2 992.6h0M748.7 933.8h0M750.1 1006.3h0M746.1 1167.6h0M747.3 1120.3h0M750 1203.6h0M744.5 1362.5h0M744.7 1401.5h0M745.2 1385.5h0M745.5 1352.2h0M745.7 1365.6h0M745.9 1400h0M746.4 1380.6h0M746.5 1393.8h0M747.1 1386.7h0M747.1 1318.7h0M747.4 1390.9h0M747.9 1322.9h0M748.2 1387.5h0M748.6 1375.3h0M748.7 1315.7h0M749 1396.6h0M749.3 1314h0M749.5 1325.3h0M748.1 200.5h0M746 240.9h0"/>
<path stroke="#2cf09e" d="M750.7 381.6h0M751.1 436.9h0M751.6 347.8h0M752.6 436.4h0M753.1 344.4h0M753.4 427.7h0M754.5 414.6h0M754.9 363.6h0M755.5 364h0M751.5 993.9h0M752.5 947.7h0M754.7 973.4h0M751.3 1192.7h0M752.8 1122h0M755.2 1114.9h0M750.1 1347.3h0M750.1 1320.2h0M750.7 1376.6h0M750.8 1362.5h0M751.3 1375.4h0M751.6 1336.3h0M751.7 1347.9h0M752 1374.6h0M752.4 1346.9h0M752.6 1326.1h0M753.1 1332.1h0M753.2 1369.4h0M753.5 1304.4h0M753.9 1402.8h0M754.1 1395.6h0M754.5 1387.1h0M754.9 1316h0M755 1393.2h0M755.6 1297.1h0"/>
<path stroke="#2ff19b" d="M756 451.5h0M756.6 397.8h0M757 425.7h0M758.1 356.6h0M758.7 403.5h0M759.4 401.6h0M759.8 355.8h0M760.7 394.2h0M760.9 416.8h0M755.8 911.1h0M757.4 938.7h0M758.3 942.3h0M759.1 965.8h0M760.3 940.1h0M755.9 1167.9h0M758.6 1186.5h0M759.7 1171.8h0M755.9 1361.5h0M756 1297.8h0M756.3 1375.8h0M756.6 1311.1h0M756.9 1400h0M757.4 1310.4h0M757.6 1311h0M758 1330.7h0M758.2 1399.3h0M758.6 1305.1h0M758.9 1296.7h0M759.1 1348.6h0M759.3 1316.5h0M759.7 1390.9h0M759.9 1388.6h0M760.4 1398.2h0M760.7 1397.5h0M760.8 1342.4h0M761.3 1388.7h0M760.6 190.7h0M759.2 248.9h0M755.8 256h0"/>
<path stroke="#32f298" d="M762.1 375.2h0M762.6 445.2h0M763 429.9h0M763.8 431.4h0M764.1 357.1h0M765.1 408.1h0M765.9 404.6h0M766.5 416.1h0M762 1011.6h0M763.1 963.7h0M765.2 952.1h0M766.6 995.9h0M761.6 1153.3h0M764.9 1161.3h0M765.5 1211.6h0M761.6 1298.7h0M761.8 1357h0M762 1319.1h0M762.5 1368.8h0M762.6 1340.6h0M763 1383.2h0M763.2 1301.3h0M763.6 1333.1h0M764.1 1353.4h0M764.2 1378.6h0M764.5 1361.9h0M764.9 1309.6h0M765.1 1403.2h0M765.5 1390.6h0M765.8 1382.6h0M766.1 1345.3h0M766.3 1301.6h0M766.5 1324.2h0"/>
<path stroke="#35f394" d="M767.1 452.9h0M767.8 384.7h0M768 372.4h0M768.8 374h0M769.7 341.3h0M770 404.6h0M770.8 342.1h0M771.3 403.7h0M772 365.7h0M768.3 931.7h0M769.2 973.3h0M771.2 1013h0M772 997.5h0M767.4 1187.6h0M770.3 1183.4h0M772.5 1198h0M767.1 1343.4h0M767.4 1361.8h0M767.5 1377.4h0M767.8 1375.5h0M768.1 1400.8h0M768.6 1322.1h0M768.7 1389.4h0M769 1294.5h0M769.4 1403h0M769.5 1305.3h0M769.8 1357.3h0M770.3 1314h0M770.5 1332.2h0M770.9 1372.8h0M771.1 1368.4h0M771.3 1337h0M771.8 1355.1h0M772 1305h0M772.3 1360.6h0M772.7 1383.3h0M772.5 162.8h0"/>
<path stroke="#38f491" d="M773 447.4h0M773.8 436.5h0M774.5 439.1h0M775.1 344.8h0M775.7 407.6h0M776.5 402.2h0M777.1 396.2h0M777.7 424.6h0M778.2 387.9h0M773.7 952.2h0M774.7 917.1h0M777 949.1h0M777.5 937.8h0M774.3 1122.9h0M776.1 1117.3h0M776.6 1180.4h0M772.9 1343.1h0M773.1 1368.4h0M773.4 1300.4h0M773.9 1395.1h0M774 1384.5h0M774.4 1331.4h0M774.8 1332.8h0M775.1 1324.1h0M775.3 1343.6h0M775.8 1377.9h0M776 1293.8h0M776.3 1291.8h0M776.7 1317.5h0M776.9 1357h0M777.2 1352.4h0M777.5 1359.9h0M777.6 1386.7h0M778 1322.3h0"/>
<path stroke="#3cf58e" d="M779 442.6h0M779.7 384.3h0M780 370.8h0M781.2 356.1h0M781.6 401.1h0M782.3 359h0M782.9 446.3h0M783.4 405.1h0M779.4 994.3h0M781.2 947.8h0M782.6 950.8h0M783.2 917.5h0M779 1148.1h0M782 1186.2h0M783.2 1106.8h0M778.4 1299.4h0M778.7 1379.8h0M779 1341.5h0M779.3 1388.6h0M779.6 1307.7h0M779.8 1397.4h0M780.2 1346.4h0M780.3 1302.3h0M780.8 1378.6h0M780.9 1371.4h0M781.4 1330.7h0M781.6 1324.1h0M782 1336h0M782.1 1399.3h0M782.6 1319.2h0M782.9 1322.3h0M783.1 1366.2h0M783.4 1356h0M783.8 1370.7h0M783.9 1372.3h0M779.8 765.1h0"/>
<path stroke="#3ff68a" d="M784.6 403.9h0M785.1 428h0M785.6 411.3h0M786.3 348.5h0M787.1 404.1h0M787.6 424.2h0M788.6 353h0M789.2 428h0M784.3 970.7h0M786.8 921.2h0M787.5 993.3h0M788.7 1008.3h0M784.8 1186.2h0M786.8 1131.7h0M789.6 1125.6h0M784.2 1353.3h0M784.7 1328h0M784.8 1345.2h0M785.3 1378h0M785.4 1336.3h0M785.8 1351.4h0M786 1355.8h0M786.4 1384.4h0M786.7 1321.2h0M787.1 1319.5h0M787.1 1378.7h0M787.7 1337.8h0M787.9 1294.4h0M788.2 1308.6h0M788.4 1312.6h0M788.7 1333.5h0M789 1291.2h0M789.4 1296.7h0M789.5 1294.1h0M789.1 159.6h0"/>
<path stroke="#43f787" d="M790.1 372.1h0M790.8 449.1h0M791.5 356.1h0M792 345h0M792.7 369h0M793.3 407.3h0M794 355.7h0M794.5 373.2h0M791.5 970.9h0M792.3 929.3h0M793.6 979.5h0M795 918.6h0M790.6 1168.3h0M793.3 1141.1h0M793.8 1213.8h0M789.9 1334.2h0M790.2 1323h0M790.7 1387.4h0M790.7 1294.4h0M791.2 1343.5h0M791.5 1302.5h0M791.6 1350h0M791.9 1396.2h0M792.4 1325.3h0M792.5 1367h0M793 1317.6h0M793.1 1371.6h0M793.6 1330.3h0M793.7 1307.1h0M794.2 1340.3h0M794.3 1299.1h0M794.7 1367.1h0M794.9 1388.2h0M795.2 1374.7h0"/>
<path stroke="#46f884" d="M795.8 394.6h0M796.1 433.3h0M796.9 434.1h0M797.6 450h0M798.7 419.7h0M799.2 399.4h0M800 385.2h0M800.3 383.1h0M796.5 942.6h0M798.7 926.8h0M799.5 941.5h0M796.4 1201.1h0M797.4 1129.4h0M800.6 1184.7h0M795.7 1320.7h0M795.9 1331.6h0M796.3 1348.8h0M796.5 1308.3h0M796.7 1373.5h0M797.2 1326.7h0M797.2 1295.7h0M797.6 1363.9h0M797.9 1396.1h0M798.2 1311.4h0M798.5 1351.5h0M798.7 1325.4h0M799.1 1343.2h0M799.5 1337.2h0M799.7 1376.2h0M800 1374.3h0M800.4 1338.6h0M800.5 1295.4h0M800.8 1342.9h0"/>
<path stroke="#4af880" d="M801 352.9h0M801.7 436.6h0M803.1 365.6h0M803.5 409.4h0M804.1 380.8h0M804.9 426.3h0M805.8 396.2h0M806.6 438.4h0M801.3 928.3h0M802.9 991.7h0M804 996.4h0M806.6 1006.1h0M801.8 1112.3h0M804.1 1170.5h0M805.4 1153.5h0M801.3 1356.2h0M801.5 1333.4h0M801.9 1350.3h0M802.1 1367.7h0M802.3 1387.2h0M802.6 1335.2h0M803 1345.6h0M803.1 1351.7h0M803.6 1299.2h0M803.7 1322h0M804 1316.1h0M804.3 1330.6h0M804.6 1328.9h0M804.9 1384.6h0M805.1 1331.2h0M805.5 1331h0M805.8 1359.1h0M806.2 1302.2h0M806.3 1311.9h0"/>
<path stroke="#4ef97d" d="M807.2 428.8h0M808 405.3h0M808.2 426.4h0M809.1 382h0M810.4 377h0M811.1 366h0M811.5 377h0M812.2 447.8h0M807.2 933.5h0M809.1 994h0M809.8 1020.1h0M807.1 1209.6h0M810.6 1189.1h0M806.8 1364.6h0M807.1 1293.8h0M807.3 1327.7h0M807.7 1317h0M807.8 1359h0M808.1 1335.9h0M808.6 1350.4h0M808.9 1320.8h0M809 1320.2h0M809.4 1383.9h0M809.7 1403h0M810 1303.4h0M810.3 1321.9h0M810.5 1386.7h0M810.8 1374.7h0M811.2 1372.6h0M811.4 1311.8h0M811.8 1295.9h0M812.1 1386.6h0M812.3 1384.3h0M811 246.8h0"/>
<path stroke="#52fa7a" d="M812.8 391.6h0M813.5 347.3h0M814.5 379.6h0M815 452.4h0M816.3 393.6h0M816.9 408.7h0M817.5 365.8h0M812.6 951.6h0M813.5 999.5h0M814.9 991.9h0M816.1 995.2h0M818 954.2h0M812.4 1193h0M812.7 1182.1h0M814.6 1156.2h0M817.2 1143.2h0M812.5 1369.2h0M812.9 1319.1h0M813.1 1368.1h0M813.4 1401.6h0M813.8 1375h0M813.9 1291.5h0M814.4 1373.2h0M814.5 1317.7h0M815 1292.9h0M815.3 1329.9h0M815.6 1395.2h0M815.9 1298.8h0M816.1 1375.6h0M816.5 1342h0M816.6 1308.4h0M816.9 1398.2h0M817.3 1322.9h0M817.5 1368.4h0M817.9 1403.5h0M813.9 800h0"/>
<path stroke="#55fa76" d="M818.6 366.3h0M818.9 430.3h0M819.6 343.4h0M820.4 413h0M821.7 450.4h0M821.9 402.1h0M822.6 370h0M819.7 991.6h0M821.5 999.7h0M822.5 1011.6h0M819.8 1146.6h0M821.9 1138.3h0M823.4 1111.9h0M818.1 1331.6h0M818.4 1316.8h0M818.8 1310.5h0M819 1366.3h0M819.1 1350.1h0M819.6 1293.6h0M819.8 1374.3h0M820 1316.8h0M820.4 1332.2h0M820.8 1387h0M821 1395.7h0M821.4 1342.1h0M821.6 1390.4h0M821.8 1363.5h0M822.2 1393.8h0M822.6 1372.8h0M822.7 1314.5h0M823.2 1344.7h0M823.4 1384.3h0"/>
<path stroke="#59fb73" d="M823.8 416h0M824.6 348h0M825.1 348.8h0M826 399.5h0M826.8 366.5h0M827.9 408.4h0M828.5 343.3h0M824.1 977.4h0M826.4 914.8h0M827.3 960.8h0M825.7 1187h0M827.4 1162.4h0M828.6 1121.3h0M823.7 1338.5h0M823.9 1339.9h0M824.2 1368.8h0M824.4 1386.8h0M824.8 1351.6h0M825 1366.2h0M825.5 1343.9h0M825.7 1348.2h0M826 1321.8h0M826.1 1343.6h0M826.6 1371h0M826.7 1377.8h0M827 1302.8h0M827.5 1322.5h0M827.8 1324.1h0M828 1338.8h0M828.2 1339.8h0M828.6 1325.2h0M828.7 1392.1h0M829.2 1315.8h0M829.3 1369h0M825.4 237.1h0"/>
<path stroke="#5dfc6f" d="M829.5 361.2h0M830.4 348.1h0M830.5 425.4h0M831.5 430.7h0M832.5 419.2h0M833.5 426.1h0M833.7 437.7h0M834.5 349.6h0M829.4 933.6h0M830.8 915.7h0M832.6 1003.8h0M833 955.6h0M831.4 1124.8h0M831.8 1143.9h0M834.9 1195.1h0M829.8 1357.9h0M829.9 1375.2h0M830.4 1403.6h0M830.7 1309.1h0M830.8 1397.6h0M831.2 1362.3h0M831.4 1305.1h0M831.8 1380.7h0M832.1 1348.4h0M832.2 1353.7h0M832.6 1376.3h0M832.9 1310.8h0M833.3 1329.7h0M833.4 1387.5h0M833.8 1311.6h0M834.2 1345.5h0M834.2 1403.9h0M834.6 1307.7h0M834.9 1330.6h0"/>
<path stroke="#61fc6c" d="M835.2 447.7h0M836.5 348.5h0M837.4 405h0M837.6 422.7h0M838.4 404.6h0M839.8 397.5h0M840.5 347.7h0M835.1 935h0M837 1010h0M839 1018.4h0M839.3 985h0M835.9 1140.7h0M838.2 1102.8h0M840.5 1105.6h0M835.1 1335.2h0M835.7 1359.6h0M835.9 1340.2h0M836.1 1382.5h0M836.4 1341.8h0M836.8 1393.2h0M837.1 1387.7h0M837.3 1351.4h0M837.5 1386.7h0M837.9 1324.5h0M838.3 1328.2h0M838.5 1334h0M838.9 1356.5h0M838.9 1330.1h0M839.2 1353h0M839.7 1396.4h0M839.8 1305.5h0M840.1 1334.3h0M840.5 1299.9h0M836.5 221.9h0"/>
<path stroke="#65fd69" d="M841.1 353.2h0M842.2 404.6h0M842.8 428.9h0M844 441.4h0M844.9 435.3h0M845 437.8h0M842.2 1013.4h0M843.4 954.7h0M845.1 993h0M845.5 987.6h0M842.5 1154.1h0M844 1190.6h0M845.7 1144.2h0M840.8 1354.7h0M841.1 1307.3h0M841.5 1395.4h0M841.7 1401.9h0M842.1 1395.1h0M842.4 1348.4h0M842.7 1315.6h0M842.7 1368h0M843.1 1291.4h0M843.4 1396.4h0M843.8 1390.5h0M844 1323.7h0M844.4 1319h0M844.7 1403.8h0M844.9 1394.8h0M845.4 1393.7h0M845.6 1396.5h0M846 1328.7h0M846.2 1352.1h0M841 179.4h0M843.2 177.5h0M841.7 235.2h0"/>
<path stroke="#69fd66" d="M846.4 370.3h0M847.3 350.2h0M847.7 382.2h0M848.9 396.3h0M849.5 365.2h0M850.3 368.1h0M851.4 382.4h0M848.5 950h0M849.5 932.6h0M850.7 968.8h0M846.6 1173h0M848.8 1161.8h0M850.5 1161.6h0M846.4 1320.3h0M846.8 1293h0M847 1370.4h0M847.3 1355.2h0M847.6 1317.1h0M848 1341.8h0M848.2 1403.2h0M848.4 1300.8h0M848.7 1352.9h0M849.1 1351.9h0M849.3 1365.7h0M849.7 1384.9h0M850.1 1368.1h0M850.5 1299.5h0M850.8 1309.1h0M850.9 1300.5h0M851.4 1368.6h0M851.5 1349.4h0"/>
<path stroke="#6dfe62" d="M852.4 443.5h0M853.3 406.1h0M854.2 367.5h0M854.4 441.7h0M855.7 379.3h0M856.5 388.8h0M857.5 424.7h0M852.3 934.8h0M854.8 980.1h0M855.1 948h0M857.3 914.4h0M852.4 1139.9h0M853.9 1110.4h0M857 1154.5h0M857.2 1158.8h0M852 1299.8h0M852 1306.8h0M852.4 1403.7h0M852.7 1301.9h0M853 1396.9h0M853.4 1374h0M853.6 1403.4h0M853.9 1305.9h0M854.2 1335.9h0M854.5 1336.3h0M855 1332.1h0M855.3 1322.2h0M855.5 1388.5h0M855.9 1403.7h0M856.2 1338.2h0M856.5 1315.1h0M856.7 1299.4h0M856.9 1394.2h0M857.5 1291.9h0"/>
<path stroke="#71fe5f" d="M858.5 438.6h0M858.7 363h0M860.1 355.1h0M860.5 423.8h0M861.6 350.4h0M862.2 389.7h0M859.4 975.1h0M859.9 1007.7h0M861.7 978.8h0M860.3 1128.6h0M861.8 1113.3h0M863 1112.1h0M857.7 1313.8h0M858 1300h0M858.1 1296.8h0M858.6 1312.4h0M858.8 1325.9h0M859 1306.7h0M859.4 1381.2h0M859.8 1351.7h0M860.2 1363.4h0M860.4 1359.1h0M860.6 1332.1h0M861.1 1350.2h0M861.3 1354.4h0M861.6 1386.6h0M861.8 1323.3h0M862.4 1346.5h0M862.4 1332.6h0M862.7 1383.2h0M863.1 1386.8h0M858.2 234.1h0"/>
<path stroke="#75fe5c" d="M863.8 390.8h0M864.4 395.2h0M865.4 434.8h0M866 414.8h0M866.9 358.7h0M867.7 443.2h0M868.6 417.8h0M863.7 957.7h0M866.2 955.8h0M864.5 1174.9h0M863.4 1298.7h0M863.8 1333.8h0M864.2 1297.6h0M864.3 1350.1h0M864.5 1298.2h0M865.1 1359.3h0M865.2 1373.2h0M865.7 1313.6h0M865.9 1371.4h0M866.3 1389.8h0M866.4 1402.7h0M866.7 1341.3h0M867.1 1344.8h0M867.4 1371.2h0M867.7 1300.4h0M868 1346.2h0M868.4 1345h0M868.8 1376.6h0M868.9 1325.5h0M863.8 176.8h0M868.7 235.5h0M868.2 930.8h0M868.9 937.9h0M868.9 986.4h0M867.6 1105.7h0M866.3 1210.8h0"/>
<path stroke="#79fe59" d="M869.6 410.9h0M870.9 447.5h0M871.2 388.9h0M872.8 367.4h0M872.9 418h0M869.3 1337.8h0M869.6 1337.2h0M869.9 1299.4h0M870.2 1380.1h0M870.5 1339.6h0M870.8 1303.2h0M871.1 1323.6h0M871.5 1324.1h0M871.9 1388.6h0M872 1321.5h0M872.4 1312h0M872.7 1333.9h0M873.2 1297.9h0M873.4 1295.4h0M873.6 1381.6h0M874 1352.3h0M874.4 1312h0M871.2 984.8h0M873.3 1116.5h0M872.4 1185.5h0M869.5 1192.8h0"/>
<path stroke="#7dff56" d="M874.7 373.1h0M875.5 389h0M876.4 449.2h0M877.3 356.1h0M878.2 447.7h0M879.3 368.9h0M879.5 396h0M874.6 1313h0M874.9 1373.2h0M875.4 1348.3h0M875.7 1318.2h0M875.8 1355.5h0M876.3 1324.2h0M876.5 1360.7h0M877 1355.5h0M877.2 1301.1h0M877.6 1382.4h0M877.8 1344.5h0M878 1352.7h0M878.3 1394.2h0M878.9 1379.7h0M879.1 1344h0M879.5 1367.5h0M879.6 1400.9h0M880 1303.9h0M880.3 1386.8h0M877.2 166.9h0M875.2 264.1h0M879.9 1202.1h0"/>
<path stroke="#80ff53" d="M881 351h0M881.3 419.4h0M882.5 390.7h0M883.8 402.4h0M884.6 381.6h0M885.5 362.4h0M880.7 1332.7h0M881 1385.3h0M881.3 1304.8h0M881.6 1349.7h0M881.9 1373.7h0M882.3 1389.1h0M882.4 1297.5h0M883 1348.1h0M883.3 1378.6h0M883.6 1293.1h0M884 1305.2h0M884.1 1395.4h0M884.6 1366.1h0M884.9 1350.4h0M885.2 1313.9h0M885.3 1371.2h0M885.8 1299.5h0M882.8 1015.9h0M880.7 1169.8h0M880.9 1207.4h0"/>
<path stroke="#84ff51" d="M886 391h0M887.6 432.9h0M888.1 425.3h0M889.4 431.1h0M890.8 426.6h0M891.3 355.4h0M886.1 1388.9h0M886.4 1321.7h0M886.8 1394.8h0M887.2 1315.8h0M887.5 1319.9h0M887.7 1303.1h0M888 1353.4h0M888.5 1308.2h0M888.7 1302.1h0M889 1395.3h0M889.2 1312.8h0M889.6 1381.4h0M889.9 1303.7h0M890.4 1315h0M890.7 1344.9h0M891 1394.1h0M891.4 1316.7h0M891.5 1323.8h0M889.8 998.5h0M887.5 1135.4h0"/>
<path stroke="#88ff4e" d="M892.4 404.3h0M893.1 343.2h0M894.3 429.9h0M894.8 366h0M895.8 443.6h0M896.8 425.9h0M891.8 1387.9h0M892.1 1350.4h0M892.6 1359.1h0M892.8 1319.7h0M893.3 1329.8h0M893.6 1396.6h0M893.7 1367h0M894.2 1355.6h0M894.6 1304.2h0M894.8 1380h0M895.2 1317.1h0M895.5 1327.1h0M895.7 1310.5h0M896.1 1386h0M896.5 1316.4h0M896.7 1316.3h0M897.2 1350.9h0M896.1 956.2h0M896.1 1010.7h0M891.7 1117.1h0M896.8 1115.5h0"/>
<path stroke="#8bff4b" d="M898.3 356.8h0M898.8 433.9h0M899.8 397h0M901.2 451.5h0M901.9 449.7h0M897.6 1381.6h0M897.7 1304.6h0M898.3 1300.5h0M898.4 1374.6h0M898.8 1301.7h0M899.2 1361.1h0M899.4 1380.5h0M899.9 1381.9h0M900.2 1335.2h0M900.4 1384.1h0M900.6 1334.7h0M901.2 1402.3h0M901.4 1299.7h0M901.7 1352.4h0M902.1 1400.8h0M902.4 1301h0M902.8 1393.9h0M900.7 178.2h0M899.7 247.7h0M900.6 956.6h0M900.8 967.1h0M900.6 986.4h0"/>
<path stroke="#8fff49" d="M903.2 405.8h0M903.7 397.1h0M904.7 414.7h0M906.1 404.5h0M906.8 406.7h0M907.8 427.2h0M903.2 1402.4h0M903.5 1376.3h0M903.9 1328.5h0M904.2 1347.2h0M904.3 1317.8h0M904.8 1354.1h0M905.2 1395.1h0M905.5 1329h0M905.7 1315.5h0M906.1 1382.2h0M906.5 1371.2h0M906.9 1317.2h0M907.2 1362.6h0M907.5 1330.2h0M907.6 1355.6h0M908.1 1310.8h0M907.2 932.1h0M907.9 940.5h0M906 993.3h0M907.2 1020.8h0M906.3 1122.5h0"/>
<path stroke="#92ff47" d="M908.7 416.9h0M910.6 449.4h0M911.2 412.6h0M912.4 344.6h0M913.6 429.9h0M908.6 1349.4h0M908.9 1386.2h0M909.2 1350.1h0M909.5 1377.9h0M909.9 1388.1h0M910 1385.4h0M910.3 1403.5h0M910.6 1313.8h0M911.3 1338.5h0M911.5 1369.6h0M911.8 1294.3h0M912.1 1399.2h0M912.6 1398h0M912.7 1337.8h0M913.3 1387.1h0M913.4 1354h0M913.8 1379.2h0M914 1343h0M912.6 915.1h0M913.2 955.5h0M912.6 1019.6h0M909.4 1126.9h0"/>
<path stroke="#96fe44" d="M914.7 388.6h0M915.4 439h0M916.8 401.6h0M917.3 387.6h0M918.3 433.6h0M919 386h0M914.7 1365.7h0M914.8 1387.2h0M915.1 1318.5h0M915.7 1352.8h0M915.8 1340.5h0M916.1 1390.1h0M916.6 1403.5h0M917 1361.2h0M917.2 1382.3h0M917.8 1389.3h0M918 1314.2h0M918.4 1335.6h0M918.7 1322.7h0M919.1 1354.8h0M919.2 1385.1h0M919.7 1336.2h0M915.3 194.3h0M914.5 1136.2h0M918.1 1150.1h0M917.7 1179.8h0"/>
<path stroke="#99fe42" d="M920.3 358.4h0M921.6 440.9h0M922.4 367.7h0M924.1 453.7h0M924.2 356.4h0M920.2 1323.7h0M920.2 1329.5h0M920.6 1308.3h0M921.1 1335.6h0M921.4 1399.6h0M921.9 1358.1h0M922.1 1396.7h0M922.6 1343.3h0M922.7 1363.3h0M923 1396.9h0M923.6 1344.2h0M923.8 1305.2h0M924 1324.1h0M924.5 1331h0M924.8 1386h0M925.3 1362h0M920.8 177.7h0M924.8 216.1h0M924.9 912.8h0M923.8 934h0M923.8 1138.6h0M922.1 1184h0"/>
<path stroke="#9cfe40" d="M926.1 344.5h0M926.8 436.8h0M927.7 437.6h0M928.6 372.1h0M929.5 430.7h0M930.6 352.2h0M925.5 1371.7h0M925.7 1332.4h0M926.1 1398.6h0M926.7 1365h0M926.9 1393.4h0M927.3 1341.3h0M927.7 1307.4h0M928 1316.4h0M928.3 1336.1h0M928.5 1316.8h0M929 1307.7h0M929.5 1312.3h0M929.8 1305.9h0M930.2 1333.3h0M930.6 1356.8h0M930.8 1377.7h0M926.8 954.7h0M929.5 1018.3h0M927.8 1180.8h0M929.1 1200.8h0"/>
<path stroke="#9ffd3f" d="M931.6 390.6h0M932.9 433.6h0M934.7 359.3h0M934.9 353h0M935.9 440.3h0M931.3 1400.9h0M931.6 1369.5h0M932 1339.3h0M932.4 1296.7h0M932.4 1381.5h0M932.9 1398.3h0M933.2 1292.6h0M933.6 1399.5h0M934.1 1318.4h0M934.2 1343.3h0M934.8 1297.5h0M934.9 1391.8h0M935.4 1303h0M935.6 1391h0M936.3 1361.4h0M936.6 1313.3h0M936.7 1376.5h0M935.6 261.9h0M931.6 924.5h0M935.7 981.5h0M931.6 990.4h0M934.8 1015.5h0M931.6 1133.2h0M934.4 1170h0"/>
<path stroke="#a1fd3d" d="M937.5 437.3h0M938.5 379.4h0M939.6 353.5h0M940.3 374.8h0M941.9 410.6h0M937.3 1317.2h0M937.4 1297.4h0M937.8 1299.3h0M938.3 1369.6h0M938.6 1329h0M938.9 1394.3h0M939.1 1309.6h0M939.6 1350.3h0M940 1356.6h0M940.2 1326.5h0M940.9 1346.9h0M941.1 1394.3h0M941.5 1364.6h0M941.7 1294.2h0M942 1308.2h0M937.3 996.9h0M941.5 1006.9h0M938 1015.5h0M937 1113.9h0M942.4 1146.6h0M940.8 1160.8h0M937 1182.4h0M941.8 1212.7h0"/>
<path stroke="#a4fc3c" d="M942.9 378.2h0M944.7 412.8h0M945.8 445h0M946.3 387.9h0M948 445.2h0M942.6 1354.5h0M943.1 1318.7h0M943.4 1338.9h0M943.7 1356.5h0M944.1 1295.1h0M944.4 1325.4h0M944.8 1333.1h0M945 1372h0M945.3 1333h0M945.7 1308.5h0M946.2 1311.9h0M946.5 1309.5h0M947.1 1347.7h0M947.4 1358h0M947.8 1385.9h0M948.1 1322h0M943 968.6h0M943 985.1h0M944.7 1133.5h0M946.2 1177h0"/>
<path stroke="#a7fc3a" d="M948.8 429h0M949.4 408h0M951.5 371.6h0M952 422.5h0M953.3 436.4h0M948.3 1320.4h0M948.7 1331.7h0M949.2 1390.3h0M949.3 1322.1h0M950 1308.4h0M950.1 1371.1h0M950.6 1390.1h0M950.8 1335.2h0M951.2 1394.5h0M951.7 1353.6h0M952.1 1371.5h0M952.6 1403.4h0M952.8 1306.2h0M953 1297.2h0M953.6 1358.8h0M951.1 194.7h0M948.4 975.2h0M951.3 1138.3h0M951.9 1148.5h0M950.3 1178.9h0"/>
<path stroke="#a9fb39" d="M954.7 357.7h0M955.3 416.4h0M956.7 390.9h0M957.6 427.4h0M958.8 349.1h0M954 1303.3h0M954.2 1365.2h0M954.7 1291.1h0M955.2 1337.5h0M955.3 1294.9h0M955.8 1319.5h0M956 1379.6h0M956.5 1319.6h0M956.7 1321.5h0M957.2 1348.3h0M957.7 1299.8h0M957.8 1318h0M958.3 1340.3h0M958.7 1370.2h0M959 1360.3h0M958.8 229h0M958.6 918.5h0M959.3 929.6h0M953.8 938.4h0M957.9 1116.1h0M956 1166.8h0"/>
<path stroke="#acfb38" d="M960.1 422.8h0M962 432.5h0M962.9 371.9h0M963.8 352.7h0M964.9 381.2h0M959.5 1356.5h0M960 1323.5h0M960.4 1326.1h0M960.8 1394.5h0M960.9 1376.9h0M961.2 1401.4h0M961.8 1341.6h0M962.3 1298.4h0M962.4 1336.1h0M962.7 1395h0M963.2 1296.9h0M963.5 1314.2h0M963.9 1378.9h0M964.2 1310.9h0M964.9 1396.6h0M960.9 235.1h0M962.4 915.1h0M963.7 950.2h0M964.6 951.5h0M962.4 1161.1h0"/>
<path stroke="#affa37" d="M966.2 440.8h0M967.1 421.3h0M969.3 444h0M969.9 361.2h0M965.2 1321.2h0M965.7 1395.9h0M965.9 1356.3h0M966.2 1365h0M966.7 1335.1h0M967 1357.8h0M967.6 1350.5h0M967.8 1382.2h0M968.4 1307.5h0M968.4 1403.8h0M968.9 1331.2h0M969.5 1327.7h0M969.6 1365.1h0M970.1 1375.1h0M970.5 1375.6h0M967.8 997.1h0M967.1 999.7h0M965.5 1139h0M969.7 1162.2h0M968 1181.4h0"/>
<path stroke="#b1f936" d="M971.3 385.8h0M972 447.8h0M974.3 354.5h0M975.1 378.2h0M971.1 1392.8h0M971.5 1325.3h0M971.5 1343.4h0M972 1304.4h0M972.5 1328.1h0M973.1 1334.6h0M973.4 1382.8h0M973.6 1377h0M974 1369.4h0M974.5 1361.1h0M974.7 1355.2h0M975.2 1363.1h0M975.7 1303.1h0M976.1 1311.7h0M976.3 1319.8h0M976.1 955.7h0M972.2 981h0M971.2 1005h0M973.7 1144.7h0M974.7 1164.9h0M976 1168.7h0"/>
<path stroke="#b4f836" d="M976.9 423.2h0M977.1 373.7h0M978.6 436.6h0M980.3 446.8h0M981.3 348.9h0M976.9 1342.1h0M977.3 1373h0M977.7 1333.9h0M978 1295.3h0M978.3 1315.5h0M978.7 1360.2h0M979.2 1387.3h0M979.7 1364.1h0M979.8 1348.9h0M980.5 1399h0M980.7 1388.2h0M981 1389.5h0M981.4 1326.1h0M981.9 1333.8h0M976.6 192.6h0M980.1 927.8h0M981.1 943.5h0M977.9 983.8h0M980.4 983.6h0M978.5 1190h0"/>
<path stroke="#b7f735" d="M983.2 365.5h0M984.2 401.1h0M985.9 424.5h0M987.1 376.6h0M987.4 378h0M982.2 1339.9h0M982.8 1337.2h0M983.2 1371.1h0M983.4 1382.7h0M983.8 1349.3h0M984.3 1358.7h0M984.6 1379.1h0M985.3 1309.8h0M985.5 1401.4h0M986 1316.2h0M986.4 1391.8h0M986.8 1371.8h0M987.2 1392.9h0M987.4 1341h0M987.4 917h0M983.6 938.8h0M984.2 1199.4h0"/>
<path stroke="#b9f635" d="M990 362h0M990.3 437.3h0M991.9 442.8h0M988 1393h0M988.6 1312.6h0M988.7 1350.6h0M989.2 1298.7h0M989.5 1333.2h0M990 1355.3h0M990.2 1350.7h0M990.8 1393.1h0M991.4 1329h0M991.5 1329.7h0M991.9 1363.4h0M992.5 1333h0M993.1 1375.6h0M993.4 1312.3h0M991 164.1h0M991 229.5h0M993 930.1h0M989.3 945.2h0M991 1212.9h0"/>
<path stroke="#bcf534" d="M993.6 357.5h0M995.4 393.1h0M996 363.3h0M997 374.3h0M998.6 382.6h0M993.6 1379.8h0M994.2 1376.5h0M994.4 1294.2h0M995 1385.5h0M995.2 1364.1h0M995.7 1374.7h0M996.2 1353.4h0M996.5 1402h0M996.8 1299.4h0M997.2 1400.2h0M997.9 1291.4h0M998.5 1319.8h0M998.7 1394.7h0M997 157.7h0M995 994.7h0M995.7 1118.7h0"/>
<path stroke="#bef434" d="M1001 412.2h0M1001.5 351.7h0M1003.6 445.7h0M999.1 1314.9h0M999.7 1335.5h0M1000.1 1372h0M1000.3 1308.8h0M1000.8 1313.5h0M1001.1 1381.2h0M1001.6 1356h0M1002.2 1371.9h0M1002.4 1393.3h0M1002.9 1392.6h0M1003.3 1363h0M1003.6 1298.7h0M1004.2 1330.4h0M1004.5 1369.1h0M1001 942.9h0M1003.6 1100.9h0M1000.7 1114h0M1002.6 1116.8h0"/>
<path stroke="#c1f334" d="M1005.1 428.6h0M1007 345.9h0M1008.5 342.7h0M1008.9 416.4h0M1004.8 1382.7h0M1005.3 1294.2h0M1005.8 1392.1h0M1006.1 1396.7h0M1006.6 1352.5h0M1007 1381h0M1007.5 1352.1h0M1008.2 1373.7h0M1008.4 1328.4h0M1008.7 1376.1h0M1009.2 1353.8h0M1009.6 1320.4h0M1010.1 1355.3h0M1009.9 998.7h0M1006.7 1197.9h0M1006.4 1129.7h0"/>
<path stroke="#c3f134" d="M1011.3 406.7h0M1012.1 396.3h0M1010.8 1374.6h0M1011 1389.8h0M1011.2 1308.3h0M1011.8 1401.2h0M1012.2 1331.1h0M1012.8 1351.1h0M1013 1354.2h0M1013.8 1399.9h0M1014 1379.8h0M1014.5 1320.4h0M1014.8 1307.9h0M1015.4 1380.9h0M1015.8 1369.6h0M1015.5 365.3h0M1015.2 381.5h0M1015 426.9h0M1015.6 1022.7h0M1013.2 1212.7h0"/>
<path stroke="#c6f034" d="M1016.2 1299.3h0M1016.9 1349.7h0M1017.2 1291h0M1017.4 1402h0M1018 1295.7h0M1018.5 1371.1h0M1018.8 1297.5h0M1019.6 1313h0M1020 1346.7h0M1020 1301.3h0M1020.5 1340.2h0M1021 1400.8h0M1021.7 1306.5h0M1017.7 348.9h0M1020.9 410.3h0M1017.1 420.2h0M1020.8 919.8h0M1020.4 963.8h0M1019.4 973h0M1021 1138.3h0"/>
<path stroke="#c8ef34" d="M1022.3 1374.4h0M1022.3 1307.7h0M1023 1386.7h0M1023.5 1368.2h0M1023.7 1333.9h0M1024.1 1297h0M1024.7 1359.3h0M1025.1 1311.7h0M1025.4 1393.8h0M1026.2 1351.3h0M1026.7 1359.5h0M1027.2 1375.1h0M1027.3 1359.4h0M1026.6 353.6h0M1025.4 377.7h0M1023.8 406.8h0M1026.6 426.9h0M1022.8 436h0M1024.7 442.3h0M1024.5 448.7h0M1026.1 1017.2h0M1023.5 1018.1h0"/>
<path stroke="#cbed34" d="M1028 1338.8h0M1028.5 1403.3h0M1029 1340.7h0M1029.2 1294.2h0M1029.8 1366.3h0M1030.4 1360.8h0M1030.8 1339.3h0M1031.2 1352.2h0M1031.4 1314.4h0M1032.2 1391.8h0M1032.4 1300.7h0M1028.9 340h0M1028.5 363.7h0M1028.4 924h0M1028.6 937.3h0M1029.9 973h0M1028 996.8h0M1030.9 1005.4h0M1031.8 1153.9h0M1031.2 1169.4h0"/>
<path stroke="#cdec34" d="M1033.1 1361.1h0M1033.6 1373h0M1033.8 1366.9h0M1034.4 1370.2h0M1034.9 1343.1h0M1035.4 1394.5h0M1036 1301.2h0M1036.1 1300.7h0M1036.8 1358.7h0M1037.4 1296.3h0M1037.6 1373.9h0M1038.1 1356.2h0M1038.6 1374.8h0M1038 343.5h0M1034.5 372.6h0M1036.8 383h0M1035.6 940.1h0M1033.4 1110.4h0M1033.1 1115.2h0"/>
<path stroke="#d0ea34" d="M1039.1 1319h0M1039.5 1376h0M1040.2 1324.4h0M1040.3 1351.9h0M1040.8 1340.1h0M1041.5 1347.4h0M1042 1364.5h0M1042.6 1373.3h0M1043 1337.7h0M1043.6 1389.3h0M1044 1313.2h0M1042.9 432.8h0M1040.3 964.5h0"/>
<path stroke="#d2e935" d="M1044.4 1311.7h0M1044.9 1308.7h0M1045.2 1369.6h0M1045.7 1357.4h0M1046.3 1335.1h0M1046.8 1382.1h0M1047.2 1394.9h0M1047.9 1359h0M1048.5 1389.2h0M1048.8 1314.1h0M1049.4 1348.5h0M1050 1400.5h0M1049.2 350.4h0M1049.1 414.8h0M1045.6 438.5h0M1046.5 452.7h0M1046.8 979.8h0M1047.3 1130.5h0M1046 1169.4h0"/>
<path stroke="#d4e735" d="M1050.5 1390.1h0M1050.6 1369.2h0M1051.1 1390.2h0M1052.1 1328.3h0M1052.4 1377.4h0M1052.7 1398.8h0M1053.3 1307.7h0M1053.8 1306.5h0M1054.1 1309.3h0M1055 1298.1h0M1055.4 1293.8h0M1050.1 376.7h0M1051.6 425h0M1055.5 956.8h0M1050.4 1006.9h0M1053.1 1014h0"/>
<path stroke="#d7e535" d="M1055.8 1373.6h0M1056.4 1314.5h0M1056.9 1395.7h0M1057.5 1312.3h0M1057.9 1358.8h0M1058.6 1399.1h0M1058.8 1314.6h0M1059.3 1370.6h0M1060 1358.6h0M1060.2 1388h0M1061.1 1354.4h0M1058.6 422.4h0M1060.9 441.1h0M1058 980h0M1059.9 1152.9h0M1059.3 1179.3h0"/>
<path stroke="#d9e436" d="M1061.4 1299.2h0M1061.9 1342.2h0M1062.3 1399h0M1062.8 1294.5h0M1063.6 1400.8h0M1064.1 1371.9h0M1064.8 1346.9h0M1065 1365.9h0M1065.8 1292.9h0M1066.1 1314.9h0M1066.7 1399.4h0M1064.3 350.4h0M1062.8 358.7h0M1064.3 421.4h0"/>
<path stroke="#dbe236" d="M1067.3 1382.6h0M1067.6 1361.9h0M1068.4 1384.3h0M1068.8 1395.8h0M1069.2 1391.5h0M1069.8 1293.1h0M1070.5 1300.4h0M1070.9 1370.1h0M1071.8 1322.9h0M1072.1 1385.9h0M1070.4 424h0M1070.8 958.1h0M1067.3 1164.7h0M1070.8 1102.6h0M1067.5 1210.6h0"/>
<path stroke="#dde037" d="M1072.8 1328h0M1073.1 1389.6h0M1073.7 1367.1h0M1074 1337h0M1075 1386.9h0M1075.2 1336.8h0M1075.9 1353.8h0M1076.7 1393.2h0M1076.8 1355h0M1077.4 1400.8h0M1077.9 1397.3h0M1077.3 365h0M1076.7 370.1h0M1073.5 377.1h0M1075.4 452.5h0M1073 1113h0M1077.1 1129.8h0"/>
<path stroke="#dfdf37" d="M1078.6 1347h0M1079.2 1303h0M1079.7 1342.9h0M1080.2 1360.7h0M1081.2 1332.3h0M1081.5 1356.3h0M1082.1 1307.7h0M1082.4 1312.8h0M1082.9 1396.2h0M1083.7 1315.4h0M1082.6 250.4h0M1079.9 392.9h0M1081.4 411.3h0M1079.6 432.8h0M1083.7 447.2h0M1080.7 1021.5h0M1083.9 1102.1h0M1083.1 1161.9h0"/>
<path stroke="#e1dd37" d="M1084.1 1373.7h0M1085.1 1316.2h0M1085.2 1294.2h0M1086.2 1399.6h0M1086.8 1297.9h0M1087.1 1393.8h0M1087.8 1292.3h0M1088.4 1310h0M1089.1 1391.3h0M1089.5 1403.5h0M1086 394.8h0M1087.8 976.9h0"/>
<path stroke="#e3db38" d="M1090.3 1356.7h0M1090.6 1355.2h0M1091.5 1359h0M1091.9 1296.2h0M1092.2 1302h0M1092.9 1349.4h0M1093.7 1338.1h0M1094.1 1355.5h0M1094.7 1297.9h0M1091.3 406.6h0M1090.3 437.9h0M1092.6 453.4h0M1093.2 966.8h0M1093.2 1004.3h0"/>
<path stroke="#e5d938" d="M1095.4 1302.9h0M1096.3 1311.6h0M1096.6 1370.9h0M1097 1385.4h0M1097.8 1388.6h0M1098.6 1350.4h0M1098.9 1376.9h0M1099.6 1369.7h0M1100 1349.9h0M1100.9 1364.2h0M1097.2 350.4h0M1098.9 354.2h0M1100.8 362.5h0M1098.9 403h0M1098.7 1108.3h0"/>
<path stroke="#e7d739" d="M1101.2 1376.6h0M1102 1334h0M1102.7 1322.3h0M1103.5 1350.3h0M1104.2 1310.2h0M1104.7 1364.2h0M1105.2 1393.8h0M1105.5 1313.4h0M1106.5 1366.1h0M1103.3 380h0M1101 394.8h0M1106.1 1131.8h0"/>
<path stroke="#e9d539" d="M1107.3 1314.2h0M1107.5 1365.2h0M1108.5 1367.9h0M1109.1 1403.7h0M1109.8 1395h0M1110.1 1304.8h0M1110.6 1305.8h0M1111.8 1396.4h0M1112 1291.5h0M1109.3 362.5h0M1112.2 373.9h0M1106.9 411.9h0M1106.9 444.6h0M1108.1 1107.1h0M1108.5 1125.1h0"/>
<path stroke="#ebd339" d="M1112.6 1398.4h0M1113.1 1349.6h0M1113.9 1313.6h0M1114.8 1326.4h0M1115.5 1384.2h0M1115.9 1370.4h0M1116.9 1401.6h0M1117.5 1387h0M1113.5 366.3h0M1114.1 437.9h0M1116.3 1015.3h0M1117.5 1120h0M1113.2 1141.5h0"/>
<path stroke="#ecd13a" d="M1118.1 1292.3h0M1118.4 1354.1h0M1118.9 1352h0M1119.6 1372.1h0M1120.3 1395.8h0M1121.5 1368.4h0M1121.9 1375.6h0M1122.9 1389.3h0M1123.2 1307h0M1119.8 365h0M1121.7 411.5h0M1118.5 445.5h0M1121.8 916.4h0M1122.6 1109.1h0"/>
<path stroke="#eecf3a" d="M1123.7 1342.8h0M1124.5 1382.9h0M1125.5 1378.8h0M1126 1333.9h0M1126.7 1370.8h0M1127.4 1393.3h0M1127.7 1395.9h0M1128.5 1292.9h0M1129.2 1294.4h0M1125.9 376.4h0M1126.5 417.4h0M1128.1 444.9h0M1126.8 432.2h0M1128.8 1106h0M1126.5 1111.8h0M1123.7 1204.5h0"/>
<path stroke="#efcd3a" d="M1129.9 1340.6h0M1130.5 1388.6h0M1131.2 1312.8h0M1132.3 1312.5h0M1132.6 1294.2h0M1133.7 1342.9h0M1134.1 1381.2h0M1132.1 393.5h0M1132.7 406h0M1133.8 430.7h0M1132.7 949.6h0"/>
<path stroke="#f1cb3a" d="M1135.2 1374.2h0M1135.5 1326.6h0M1136.4 1391.8h0M1137.5 1382h0M1137.5 1298.2h0M1138.3 1346.1h0M1139.6 1308.6h0M1140.3 1372h0M1135.3 359.7h0M1139.4 1210.3h0"/>
<path stroke="#f2c93a" d="M1140.6 1302.9h0M1141.3 1298.6h0M1142.4 1309.4h0M1142.7 1367.4h0M1143.8 1315.5h0M1144.8 1307.8h0M1145.1 1296.2h0M1145.8 1341.1h0M1142.4 224.8h0M1146 1119.3h0"/>
<path stroke="#f4c73a" d="M1146.4 1391.9h0M1147.2 1308.8h0M1148 1353.1h0M1149.3 1343.8h0M1149.9 1371.9h0M1150.6 1357.6h0M1150.9 1321h0M1147.1 452.2h0M1151.8 446.4h0"/>
<path stroke="#f5c53a" d="M1152 1345.2h0M1152.6 1353.8h0M1153.3 1335.8h0M1154.5 1362.3h0M1154.8 1336.5h0M1155.9 1341.8h0M1156.7 1374.6h0M1157.5 1392.6h0M1155.3 392.6h0M1156.2 1124.7h0"/>
<path stroke="#f6c33a" d="M1157.9 1302.3h0M1158.8 1291.8h0M1159.7 1379.3h0M1161 1346h0M1161.6 1332.2h0M1162.4 1379.8h0M1161 377.1h0"/>
<path stroke="#f7c13a" d="M1163.5 1402.1h0M1164.2 1298.1h0M1164.8 1308h0M1165.7 1302.4h0M1166.2 1390.4h0M1167.3 1378.3h0M1168.3 1400.5h0M1166.3 361.8h0M1164.8 384.7h0M1165.8 429.7h0"/>
<path stroke="#f8be39" d="M1169 1328h0M1169.9 1401.1h0M1170.3 1381.7h0M1171.2 1296.5h0M1172.7 1347.2h0M1173.1 1306.2h0M1174.1 1336.2h0M1169.9 447.4h0M1173 957.4h0M1173.8 1014.1h0M1173.8 1171.2h0"/>
<path stroke="#f9bc39" d="M1175.4 1316h0M1175.7 1325.8h0M1176.8 1309.7h0M1177.6 1372.3h0M1178.3 1300.6h0M1178.9 1336.6h0M1179.8 1390.3h0M1178.8 414.2h0M1175.7 962.9h0"/>
<path stroke="#faba39" d="M1181.1 1307.4h0M1182 1401.8h0M1183.2 1360.1h0M1183.6 1376.8h0M1184.4 1295.4h0M1185.7 1379.3h0M1181.6 389.4h0M1184.1 348.9h0M1181.6 451.2h0M1181.3 454.4h0M1182.8 1107.5h0M1181.2 1117.3h0M1185.1 1117.7h0"/>
<path stroke="#fbb838" d="M1186.2 1315.8h0M1187.5 1320.4h0M1188 1347.3h0M1189.4 1375.3h0M1189.8 1374.4h0M1191.1 1353.9h0M1186.4 426.5h0M1188.2 962.1h0M1191.4 959.4h0"/>
<path stroke="#fbb637" d="M1191.9 1313.1h0M1192.7 1306.9h0M1194.3 1303h0M1194.8 1322.6h0M1196.4 1391h0M1195.9 391.6h0M1196.9 344.3h0M1192.3 428h0M1194.4 439.2h0"/>
<path stroke="#fcb336" d="M1197.2 1356.4h0M1198.3 1323.1h0M1199 1379.5h0M1200.3 1358.4h0M1200.6 1357.3h0M1201.7 1306.6h0M1202.7 1392.3h0M1197.1 443.6h0M1198.7 447.2h0M1202.7 966.4h0"/>
<path stroke="#fcb136" d="M1203.4 1318h0M1204.4 1292.2h0M1206.3 1387h0M1207.4 1346h0M1207.5 1346.2h0M1207.8 258.5h0M1207.9 400.8h0M1205.4 1193.5h0"/>
<path stroke="#fdae35" d="M1208.5 1388.7h0M1209.5 1297.5h0M1210.6 1355.5h0M1212.4 1400.4h0M1213.1 1334.5h0M1213.2 361.5h0M1211.1 440.8h0M1212.1 923.8h0M1209.7 1152.5h0"/>
<path stroke="#fdac34" d="M1214.1 1291.3h0M1215.3 1340.7h0M1216.9 1300.2h0M1217.6 1379.4h0M1219 1293.1h0"/>
<path stroke="#fea933" d="M1220.1 1340.7h0M1220.5 1310.2h0M1222.3 1358h0M1223 1305h0M1224.8 1403h0M1225.2 1318.3h0M1225 440.8h0M1219.9 1127.5h0"/>
<path stroke="#fea732" d="M1226.4 1306.9h0M1228.1 1318.9h0M1228.9 1312.9h0M1230.4 1294.7h0M1226.4 172h0M1227.6 390.6h0M1229.7 410.6h0M1230.4 987.9h0M1229.7 1210.7h0"/>
<path stroke="#fea431" d="M1231.7 1298.6h0M1233.1 1326.7h0M1234.3 1360.1h0M1235.2 1339.6h0M1235.9 1322.4h0M1234.4 436.6h0M1232 1202.9h0"/>
<path stroke="#fea130" d="M1237.5 1316.6h0M1238.3 1379.4h0M1239.5 1334.5h0M1241.1 1307.4h0M1241.9 1324.7h0M1238.7 1157.6h0"/>
<path stroke="#fe9e2f" d="M1244.4 1367h0M1243.7 341.9h0M1246.9 386.6h0M1244.5 1000.8h0M1247.9 1311.8h0M1244.7 1316.9h0M1246.6 1333.4h0M1247.3 1364.5h0"/>
<path stroke="#fe9b2d" d="M1252.4 357.7h0M1253.6 1290h0M1249.8 1319.4h0M1251.5 1370.2h0"/>
<path stroke="#fe992c" d="M1259.2 394.8h0M1256.6 452.1h0M1259.4 1117.3h0M1254.9 1357.5h0M1257.4 1357.5h0"/>
<path stroke="#fe962b" d="M1259.8 366h0M1262.1 388.5h0M1263 396.7h0M1262.5 991.8h0M1262.1 1004.7h0M1261.9 1321.3h0M1262.9 1326.4h0M1261.9 1346.1h0M1261.2 1382.6h0"/>
<path stroke="#fe932a" d="M1268.7 230.6h0M1269.7 423.1h0M1267.6 933.6h0M1269.5 1301.1h0"/>
<path stroke="#fe9029" d="M1272.1 350.4h0M1273.7 398h0M1274.6 426.9h0M1271.4 1310.6h0M1272.6 1339.1h0M1270.7 1346.1h0M1274.3 1360.6h0M1272 1389.8h0M1274.3 1398.4h0"/>
<path stroke="#fd8d27" d="M1277.9 363.7h0M1277.5 398.4h0M1277.9 414.5h0M1278.2 432.8h0M1279.3 928.9h0M1281.8 1298.1h0M1278.3 1344.8h0M1280.2 1353.7h0M1280.9 1387.9h0"/>
<path stroke="#fd8a26" d="M1283.9 451h0M1283.4 1332.1h0M1287.2 1338.5h0M1286.6 1381.6h0"/>
<path stroke="#fc8725" d="M1290.9 371.1h0M1289.6 401.5h0M1289 426.9h0M1289.2 441.1h0M1291 1321.6h0M1292.9 1373.3h0"/>
<path stroke="#fc8423" d="M1293.8 363.7h0M1294.4 437.9h0M1296.9 1211.1h0M1294.8 1290.7h0M1293.5 1301.7h0M1293.5 1325.8h0"/>
<path stroke="#fb8122" d="M1301.9 367.5h0M1300.4 1021.1h0M1301.2 1113.4h0M1304.3 1321.6h0M1303.7 1329.6h0"/>
<path stroke="#fb7e21" d="M1305.9 231h0M1307 415.5h0M1308.9 444h0M1307.5 1294.1h0M1308.8 1354.9h0M1308.1 1380.6h0"/>
<path stroke="#fa7b1f" d="M1315.6 446.1h0M1311.9 1337.2h0"/>
<path stroke="#f9781e" d="M1319.8 1304.2h0M1318 1310.6h0M1320.8 1333.4h0M1320.6 1346.1h0"/>
<path stroke="#f9751d" d="M1322.1 1329h0M1326.5 1402.5h0"/>
<path stroke="#f8721c" d="M1330.8 394.2h0M1332.9 1180.2h0M1332.9 1309.3h0M1327.8 1332.8h0M1331 1396.1h0"/>
<path stroke="#f76f1a" d="M1334.4 1003.5h0M1336 1307.7h0M1336 1359.4h0"/>
<path stroke="#f66c19" d="M1343.6 360.2h0M1340.5 1321.3h0M1344.3 1359.4h0M1343 1369.5h0"/>
<path stroke="#f56918" d="M1346.2 1321.6h0M1349.3 1367.6h0M1347.8 1394.2h0"/>
<path stroke="#f46617" d="M1354.8 942.2h0M1350.6 1307.4h0M1350 1311.2h0"/>
<path stroke="#f36315" d="M1358.9 343.1h0M1356.4 435.4h0M1356.8 440.4h0M1358.8 1320.1h0M1356.9 1322h0"/>
<path stroke="#f26014" d="M1361.9 175.3h0M1365.6 1292.4h0M1362.5 1303.1h0"/>
<path stroke="#f15d13" d="M1367.8 379.2h0M1367.8 445.9h0M1367.9 1301.7h0M1372.4 1311.4h0M1371 1378.7h0M1369.9 1400.4h0"/>
<path stroke="#f05b12" d="M1373.4 1294.3h0M1373 1344.9h0M1377.6 1354.4h0M1376.7 1371.5h0M1375.9 1401h0"/>
<path stroke="#ef5811" d="M1383.1 1317.9h0"/>
<path stroke="#ed5510" d="M1387.8 439.2h0M1387.4 1396h0"/>
<path stroke="#ec530f" d="M1390 430.9h0M1393.5 976.9h0"/>
<path stroke="#eb500e" d="M1399.1 191.2h0M1397.5 1316.5h0"/>
<path stroke="#ea4e0d" d="M1406.2 426.9h0M1402.7 1322.3h0"/>
<path stroke="#e84b0c" d="M1410.9 409.8h0M1410.7 441.5h0M1406.9 451.5h0M1411.6 1390.7h0"/>
<path stroke="#e7490c" d="M1415.5 397.3h0M1417.1 1388.2h0M1415.1 1396h0"/>
<path stroke="#e5470b" d="M1418.5 389.1h0M1420.4 1195.1h0M1420.2 1292.8h0M1421.4 1334.6h0"/>
<path stroke="#e4450a" d="M1425 417.9h0"/>
<path stroke="#e2430a" d="M1431.1 1304.1h0M1434.2 1370.9h0"/>
<path stroke="#e14109" d="M1439.8 422.4h0M1440.5 404.3h0M1434.8 1296.5h0M1435.9 1342.3h0"/>
<path stroke="#df3f08" d="M1446 154.1h0M1443 402.2h0M1444.9 1298h0M1445.5 1329.5h0"/>
<path stroke="#dc3b07" d="M1453.8 1377.5h0"/>
<path stroke="#da3907" d="M1461.4 1315.3h0"/>
<path stroke="#d83706" d="M1464.5 394.2h0M1467.1 350.4h0"/>
<path stroke="#d63506" d="M1472.7 1366.4h0M1468.8 1378.9h0"/>
<path stroke="#d43305" d="M1479.3 1349.3h0M1479.1 1382.4h0"/>
<path stroke="#d23105" d="M1485.7 1361.2h0"/>
<path stroke="#d02f05" d="M1488.9 450h0M1486.8 1299h0M1487.2 1388.8h0"/>
<path stroke="#ce2d04" d="M1495.4 381.5h0M1492.9 1361h0"/>
<path stroke="#ca2a04" d="M1504.5 1341.8h0"/>
<path stroke="#c82803" d="M1509.7 768.7h0"/>
<path stroke="#c52603" d="M1517 368.8h0M1517.8 1109.5h0M1515 1292h0M1515.6 1372.1h0"/>
<path stroke="#c32503" d="M1523.3 344.7h0M1521.8 370.3h0M1522.1 1002.7h0M1524.2 1327.8h0M1521.2 1346.8h0M1520.3 1378.5h0"/>
<path stroke="#c12302" d="M1526.2 350.8h0"/>
<path stroke="#bc2002" d="M1540.8 384.9h0M1541 431.3h0"/>
<path stroke="#b71d02" d="M1551.4 1294h0"/>
<path stroke="#b41b01" d="M1554.7 1387.8h0"/>
<path stroke="#b21a01" d="M1561.6 946.1h0M1562.2 1344.5h0"/>
<path stroke="#a91601" d="M1580.9 1360.2h0"/>
<path stroke="#8e0a01" d="M1631.1 373.9h0"/>
<path stroke="#8b0902" d="M1637.4 446.1h0"/>
<path stroke="#850702" d="M1645 442h0"/>
<path stroke="#7e0502" d="M1656.5 1009h0"/>
<path stroke="#7a0403" d="M1664 179.6h0M1664 423.3h0M1664 721.2h0M1664 991h0M1664 1104h0M1664 1195.1h0M1664 1292.8h0"/>
</g>
</g>
<rect x="221" y="63" width="1443" height="1428" fill="none" stroke="#000" stroke-width="2"/>
<g clip-path="url(#ax)">
<line x1="221.6" y1="129.9" x2="221.6" y2="287.4" stroke="#1f77b4" stroke-opacity="0.6" stroke-width="2.8" stroke-dasharray="10.3 4.4"/>
<line x1="524.5" y1="319.9" x2="524.5" y2="477.4" stroke="#1f77b4" stroke-opacity="0.6" stroke-width="2.8" stroke-dasharray="10.3 4.4"/>
<line x1="221.6" y1="509.9" x2="221.6" y2="667.4" stroke="#1f77b4" stroke-opacity="0.6" stroke-width="2.8" stroke-dasharray="10.3 4.4"/>
<line x1="221.6" y1="699.9" x2="221.6" y2="857.4" stroke="#1f77b4" stroke-opacity="0.6" stroke-width="2.8" stroke-dasharray="10.3 4.4"/>
<line x1="221.6" y1="889.9" x2="221.6" y2="1047.4" stroke="#1f77b4" stroke-opacity="0.6" stroke-width="2.8" stroke-dasharray="10.3 4.4"/>
<line x1="221.6" y1="1079.9" x2="221.6" y2="1237.4" stroke="#1f77b4" stroke-opacity="0.6" stroke-width="2.8" stroke-dasharray="10.3 4.4"/>
<line x1="816.2" y1="1269.9" x2="816.2" y2="1427.4" stroke="#1f77b4" stroke-opacity="0.6" stroke-width="2.8" stroke-dasharray="10.3 4.4"/>
<line x1="376.0" y1="397.4" x2="504.0" y2="397.4" stroke="#000" stroke-width="5.6"/>
<polygon points="500.0,390.4 515.0,397.4 500.0,404.4" fill="#000" stroke="#000" stroke-width="2.4" stroke-linejoin="round"/>
<line x1="668.8" y1="1347.4" x2="795.7" y2="1347.4" stroke="#000" stroke-width="5.6"/>
<polygon points="791.7,1340.4 806.7,1347.4 791.7,1354.4" fill="#000" stroke="#000" stroke-width="2.4" stroke-linejoin="round"/>
<polygon points="216.0,197.4 221.0,202.4 226.0,197.4 231.0,202.4 226.0,207.4 231.0,212.4 226.0,217.4 221.0,212.4 216.0,217.4 211.0,212.4 216.0,207.4 211.0,202.4" fill="#000" stroke="#000" stroke-width="2.8" stroke-linejoin="miter"/>
<polygon points="519.5,387.4 524.5,392.4 529.5,387.4 534.5,392.4 529.5,397.4 534.5,402.4 529.5,407.4 524.5,402.4 519.5,407.4 514.5,402.4 519.5,397.4 514.5,392.4" fill="#000" stroke="#000" stroke-width="2.8" stroke-linejoin="miter"/>
<polygon points="216.0,577.4 221.0,582.4 226.0,577.4 231.0,582.4 226.0,587.4 231.0,592.4 226.0,597.4 221.0,592.4 216.0,597.4 211.0,592.4 216.0,587.4 211.0,582.4" fill="#000" stroke="#000" stroke-width="2.8" stroke-linejoin="miter"/>
<polygon points="216.0,767.4 221.0,772.4 226.0,767.4 231.0,772.4 226.0,777.4 231.0,782.4 226.0,787.4 221.0,782.4 216.0,787.4 211.0,782.4 216.0,777.4 211.0,772.4" fill="#000" stroke="#000" stroke-width="2.8" stroke-linejoin="miter"/>
<polygon points="216.0,957.4 221.0,962.4 226.0,957.4 231.0,962.4 226.0,967.4 231.0,972.4 226.0,977.4 221.0,972.4 216.0,977.4 211.0,972.4 216.0,967.4 211.0,962.4" fill="#000" stroke="#000" stroke-width="2.8" stroke-linejoin="miter"/>
<polygon points="216.0,1147.4 221.0,1152.4 226.0,1147.4 231.0,1152.4 226.0,1157.4 231.0,1162.4 226.0,1167.4 221.0,1162.4 216.0,1167.4 211.0,1162.4 216.0,1157.4 211.0,1152.4" fill="#000" stroke="#000" stroke-width="2.8" stroke-linejoin="miter"/>
<polygon points="811.2,1337.4 816.2,1342.4 821.2,1337.4 826.2,1342.4 821.2,1347.4 826.2,1352.4 821.2,1357.4 816.2,1352.4 811.2,1357.4 806.2,1352.4 811.2,1347.4 806.2,1342.4" fill="#000" stroke="#000" stroke-width="2.8" stroke-linejoin="miter"/>
</g>
<rect x="220" y="1491" width="2" height="9.7" fill="#000"/>
<rect x="508" y="1491" width="2" height="9.7" fill="#000"/>
<rect x="797" y="1491" width="2" height="9.7" fill="#000"/>
<rect x="1086" y="1491" width="2" height="9.7" fill="#000"/>
<rect x="1374" y="1491" width="2" height="9.7" fill="#000"/>
<rect x="1663" y="1491" width="2" height="9.7" fill="#000"/>
<rect x="211.3" y="206.0" width="9.7" height="2" fill="#000"/>
<rect x="211.3" y="396.0" width="9.7" height="2" fill="#000"/>
<rect x="211.3" y="586.0" width="9.7" height="2" fill="#000"/>
<rect x="211.3" y="776.0" width="9.7" height="2" fill="#000"/>
<rect x="211.3" y="966.0" width="9.7" height="2" fill="#000"/>
<rect x="211.3" y="1156.0" width="9.7" height="2" fill="#000"/>
<rect x="211.3" y="1346.0" width="9.7" height="2" fill="#000"/>
<g font-family="Liberation Sans, sans-serif" fill="#000">
<text x="79.1" y="217.9" font-size="29.50" textLength="122.1" lengthAdjust="spacingAndGlyphs">TreeGain</text>
<text x="20.6" y="407.9" font-size="29.50" textLength="181.6" lengthAdjust="spacingAndGlyphs">Surrogate-LR</text>
<text x="161.3" y="597.9" font-size="29.50" textLength="40.0" lengthAdjust="spacingAndGlyphs">PFI</text>
<text x="93.5" y="787.9" font-size="29.50" textLength="108.6" lengthAdjust="spacingAndGlyphs">PDP-var</text>
<text x="84.8" y="977.9" font-size="29.50" textLength="116.4" lengthAdjust="spacingAndGlyphs">MI(pred)</text>
<text x="80.7" y="1167.9" font-size="29.50" textLength="120.4" lengthAdjust="spacingAndGlyphs">MI(label)</text>
<text x="121.1" y="1357.9" font-size="29.50" textLength="81.0" lengthAdjust="spacingAndGlyphs">ExCIR</text>
<text x="199.6" y="1532.9" font-size="29.50" textLength="42.9" lengthAdjust="spacingAndGlyphs">0.0</text>
<text x="487.6" y="1532.9" font-size="29.50" textLength="42.2" lengthAdjust="spacingAndGlyphs">0.2</text>
<text x="776.6" y="1532.9" font-size="29.50" textLength="42.8" lengthAdjust="spacingAndGlyphs">0.4</text>
<text x="1065.6" y="1532.9" font-size="29.50" textLength="43.2" lengthAdjust="spacingAndGlyphs">0.6</text>
<text x="1353.6" y="1532.9" font-size="29.50" textLength="43.0" lengthAdjust="spacingAndGlyphs">0.8</text>
<text x="1642.7" y="1532.9" font-size="29.50" textLength="42.8" lengthAdjust="spacingAndGlyphs">1.0</text>
<text x="628.5" y="1572.5" font-size="29.50" textLength="104.6" lengthAdjust="spacingAndGlyphs">Feature</text>
<text x="742.5" y="1572.5" font-size="29.50" textLength="158.2" lengthAdjust="spacingAndGlyphs">importance</text>
<text x="910.0" y="1572.5" font-size="29.50" textLength="164.3" lengthAdjust="spacingAndGlyphs">(normalized</text>
<text x="1084.1" y="1572.5" font-size="29.50" textLength="46.3" lengthAdjust="spacingAndGlyphs">per</text>
<text x="1139.0" y="1572.5" font-size="29.50" textLength="117.3" lengthAdjust="spacingAndGlyphs">method)</text>
<text x="291.7" y="45.6" font-size="35.40" textLength="179.6" lengthAdjust="spacingAndGlyphs">VisExp-like</text>
<text x="482.3" y="45.6" font-size="35.40" textLength="120.0" lengthAdjust="spacingAndGlyphs">feature</text>
<text x="613.5" y="45.6" font-size="35.40" textLength="189.9" lengthAdjust="spacingAndGlyphs">importance</text>
<text x="814.7" y="45.6" font-size="35.40" textLength="90.9" lengthAdjust="spacingAndGlyphs">strips</text>
<text x="917.0" y="45.6" font-size="35.40" textLength="55.5" lengthAdjust="spacingAndGlyphs">per</text>
<text x="983.0" y="45.6" font-size="35.40" textLength="127.6" lengthAdjust="spacingAndGlyphs">method</text>
<text x="1123.4" y="45.6" font-size="35.40" textLength="30.2" lengthAdjust="spacingAndGlyphs">—</text>
<text x="1165.9" y="45.6" font-size="35.40" textLength="136.6" lengthAdjust="spacingAndGlyphs">dataset:</text>
<text x="1313.9" y="45.6" font-size="35.40" textLength="279.1" lengthAdjust="spacingAndGlyphs">gene_expression</text>
<text x="1791.0" y="1502.0" font-size="29.50" textLength="42.9" lengthAdjust="spacingAndGlyphs">0.0</text>
<text x="1791.1" y="1216.4" font-size="29.50" textLength="42.2" lengthAdjust="spacingAndGlyphs">0.2</text>
<text x="1791.0" y="930.8" font-size="29.50" textLength="42.8" lengthAdjust="spacingAndGlyphs">0.4</text>
<text x="1791.0" y="645.2" font-size="29.50" textLength="43.2" lengthAdjust="spacingAndGlyphs">0.6</text>
<text x="1791.0" y="359.6" font-size="29.50" textLength="43.0" lengthAdjust="spacingAndGlyphs">0.8</text>
<text x="1791.1" y="74.0" font-size="29.50" textLength="42.8" lengthAdjust="spacingAndGlyphs">1.0</text>
<text transform="translate(1866.4,777.0) rotate(-90)" x="-236.0" y="0" font-size="29.50" textLength="111.7" lengthAdjust="spacingAndGlyphs">Relative</text>
<text transform="translate(1866.4,777.0) rotate(-90)" x="-114.9" y="0" font-size="29.50" textLength="158.2" lengthAdjust="spacingAndGlyphs">importance</text>
<text transform="translate(1866.4,777.0) rotate(-90)" x="52.6" y="0" font-size="29.50" textLength="57.2" lengthAdjust="spacingAndGlyphs">(per</text>
<text transform="translate(1866.4,777.0) rotate(-90)" x="118.5" y="0" font-size="29.50" textLength="117.3" lengthAdjust="spacingAndGlyphs">method)</text>
</g>
<rect x="1700" y="63" width="70" height="1428" fill="url(#cb)" stroke="#000" stroke-width="2"/>
<rect x="1770" y="1490.0" width="9.7" height="2" fill="#000"/>
<rect x="1770" y="1204.4" width="9.7" height="2" fill="#000"/>
<rect x="1770" y="918.8" width="9.7" height="2" fill="#000"/>
<rect x="1770" y="633.2" width="9.7" height="2" fill="#000"/>
<rect x="1770" y="347.6" width="9.7" height="2" fill="#000"/>
<rect x="1770" y="62.0" width="9.7" height="2" fill="#000"/>
</svg>
</body></html>
